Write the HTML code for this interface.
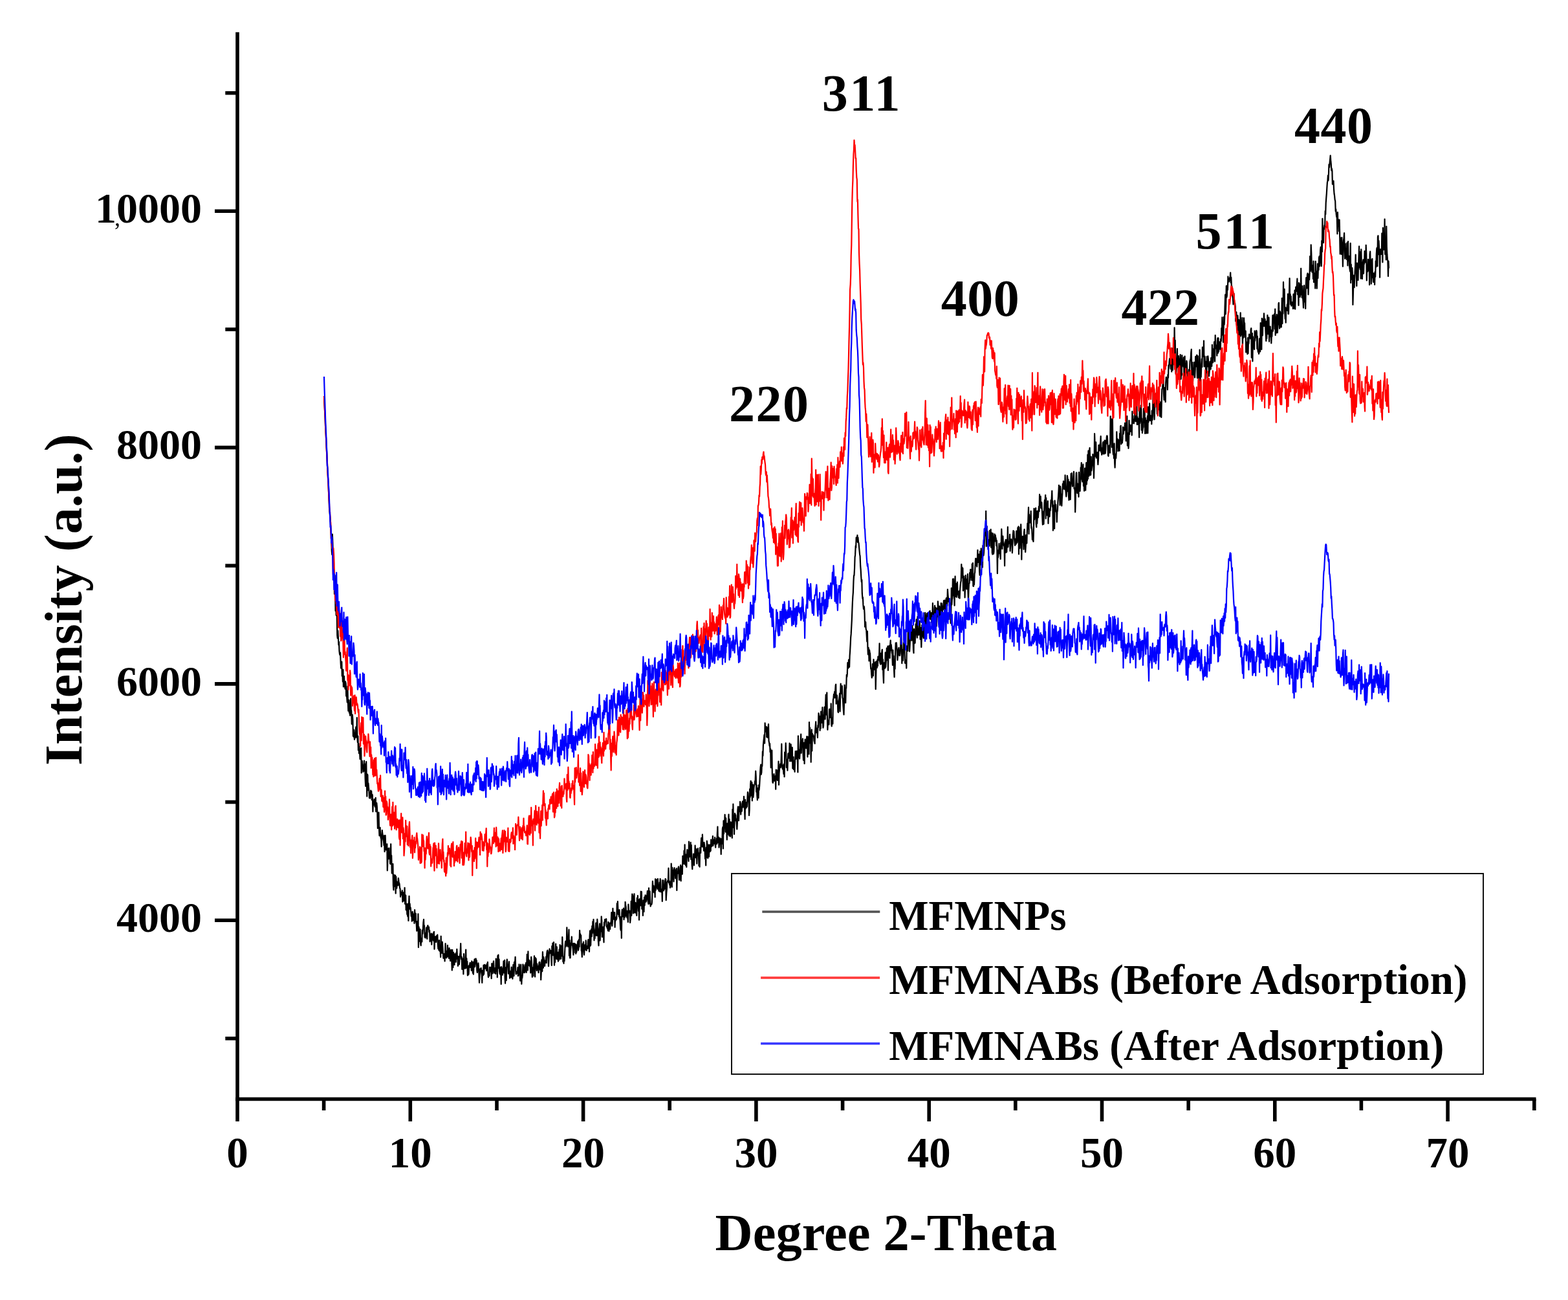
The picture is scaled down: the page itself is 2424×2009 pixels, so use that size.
<!DOCTYPE html>
<html><head><meta charset="utf-8"><title>XRD patterns</title>
<style>html,body{margin:0;padding:0;background:#fff;overflow:hidden}svg{display:block}</style></head>
<body>
<svg width="2424" height="2009" viewBox="0 0 2424 2009" font-family="'Liberation Serif', 'Times New Roman', serif" font-weight="bold" fill="#000">
<rect width="2424" height="2009" fill="#fff"/>
<polyline fill="none" stroke="#000" stroke-width="2.2" stroke-linejoin="round" points="501.0,612.0 501.5,624.1 502.1,636.0 502.6,647.0 503.1,659.8 503.7,670.5 504.2,679.8 504.7,691.9 505.3,702.1 505.8,712.9 506.3,723.4 506.9,736.8 507.4,744.0 507.9,758.2 508.5,768.2 509.0,784.7 509.6,791.3 510.1,797.5 510.6,801.6 511.2,812.7 511.7,822.9 512.2,828.7 512.8,851.5 513.3,857.2 513.8,825.5 514.4,838.9 514.9,862.6 515.4,863.8 516.0,877.3 516.5,885.5 517.0,918.0 517.6,889.2 518.1,906.8 518.6,943.9 519.2,937.6 519.7,950.7 520.2,951.2 520.8,951.1 521.3,981.6 521.8,986.4 522.4,974.7 522.9,984.8 523.5,996.6 524.0,991.9 524.5,1006.0 525.1,1011.0 525.6,1012.4 526.1,1008.7 526.7,1024.8 527.2,1032.6 527.7,1030.9 528.3,1022.7 528.8,1044.7 529.3,1034.6 529.9,1053.4 530.4,1034.9 530.9,1061.3 531.5,1055.3 532.0,1045.0 532.5,1057.0 533.1,1061.3 533.6,1064.6 534.1,1053.4 534.7,1056.6 535.2,1075.6 535.7,1070.7 536.3,1079.1 536.8,1085.3 537.4,1060.5 537.9,1084.7 538.4,1098.7 539.0,1084.8 539.5,1081.8 540.0,1101.6 540.6,1098.0 541.1,1105.7 541.6,1091.8 542.2,1079.5 542.7,1096.8 543.2,1098.4 543.8,1118.8 544.3,1119.4 544.8,1104.6 545.4,1112.4 545.9,1137.4 546.4,1138.3 547.0,1127.8 547.5,1137.6 548.0,1142.8 548.6,1140.2 549.1,1140.0 549.6,1129.5 550.2,1124.1 550.7,1122.9 551.3,1139.6 551.8,1109.0 552.3,1138.2 552.9,1147.3 553.4,1137.7 553.9,1159.4 554.5,1149.1 555.0,1164.1 555.5,1153.5 556.1,1163.8 556.6,1173.1 557.1,1168.2 557.7,1158.9 558.2,1156.1 558.7,1194.5 559.3,1178.7 559.8,1175.9 560.3,1186.6 560.9,1183.2 561.4,1192.8 561.9,1182.4 562.5,1181.5 563.0,1175.5 563.5,1191.6 564.1,1180.5 564.6,1202.6 565.2,1215.0 565.7,1185.7 566.2,1177.0 566.8,1209.6 567.3,1230.7 567.8,1196.5 568.4,1197.8 568.9,1221.1 569.4,1210.4 570.0,1217.3 570.5,1221.8 571.0,1233.2 571.6,1225.4 572.1,1233.7 572.6,1229.1 573.2,1221.5 573.7,1227.0 574.2,1222.8 574.8,1236.2 575.3,1227.5 575.8,1228.8 576.4,1254.3 576.9,1238.1 577.4,1237.8 578.0,1243.9 578.5,1235.2 579.1,1238.5 579.6,1246.6 580.1,1246.3 580.7,1232.8 581.2,1254.3 581.7,1242.3 582.3,1241.0 582.8,1246.6 583.3,1255.8 583.9,1280.1 584.4,1256.2 584.9,1274.2 585.5,1255.6 586.0,1280.4 586.5,1291.5 587.1,1281.5 587.6,1278.9 588.1,1289.1 588.7,1295.1 589.2,1295.5 589.7,1308.4 590.3,1290.8 590.8,1283.0 591.3,1288.6 591.9,1291.4 592.4,1296.7 593.0,1300.0 593.5,1306.5 594.0,1291.3 594.6,1316.2 595.1,1300.2 595.6,1291.0 596.2,1306.4 596.7,1313.4 597.2,1308.6 597.8,1310.2 598.3,1304.4 598.8,1345.3 599.4,1328.7 599.9,1311.4 600.4,1317.3 601.0,1327.1 601.5,1310.6 602.0,1325.1 602.6,1317.4 603.1,1334.4 603.6,1335.2 604.2,1304.3 604.7,1335.1 605.2,1322.0 605.8,1349.6 606.3,1341.6 606.9,1347.1 607.4,1335.1 607.9,1367.8 608.5,1375.4 609.0,1351.8 609.5,1370.0 610.1,1361.9 610.6,1366.9 611.1,1352.5 611.7,1380.7 612.2,1354.5 612.7,1363.0 613.3,1372.6 613.8,1362.9 614.3,1367.5 614.9,1364.7 615.4,1368.3 615.9,1357.0 616.5,1362.4 617.0,1364.7 617.5,1365.8 618.1,1372.9 618.6,1373.1 619.1,1386.0 619.7,1378.7 620.2,1383.0 620.8,1379.9 621.3,1382.4 621.8,1376.2 622.4,1393.6 622.9,1378.8 623.4,1382.6 624.0,1392.3 624.5,1392.1 625.0,1385.1 625.6,1371.8 626.1,1396.8 626.6,1397.3 627.2,1383.6 627.7,1406.3 628.2,1396.3 628.8,1397.1 629.3,1413.0 629.8,1413.2 630.4,1416.4 630.9,1396.5 631.4,1423.0 632.0,1396.1 632.5,1384.8 633.0,1404.2 633.6,1396.5 634.1,1405.1 634.7,1402.5 635.2,1409.3 635.7,1416.0 636.3,1409.6 636.8,1423.6 637.3,1413.0 637.9,1409.1 638.4,1418.1 638.9,1422.3 639.5,1417.1 640.0,1412.3 640.5,1426.9 641.1,1406.2 641.6,1413.5 642.1,1423.8 642.7,1411.8 643.2,1426.0 643.7,1427.4 644.3,1438.6 644.8,1424.2 645.3,1428.1 645.9,1437.3 646.4,1412.4 646.9,1464.1 647.5,1432.3 648.0,1435.9 648.5,1454.7 649.1,1450.0 649.6,1436.0 650.2,1458.5 650.7,1461.2 651.2,1450.0 651.8,1451.2 652.3,1455.5 652.8,1437.4 653.4,1442.9 653.9,1435.5 654.4,1425.8 655.0,1420.9 655.5,1434.3 656.0,1430.4 656.6,1448.4 657.1,1441.8 657.6,1449.5 658.2,1445.1 658.7,1445.8 659.2,1433.7 659.8,1443.3 660.3,1450.9 660.8,1431.6 661.4,1430.2 661.9,1436.0 662.4,1434.3 663.0,1432.6 663.5,1440.4 664.1,1437.7 664.6,1455.1 665.1,1443.9 665.7,1447.4 666.2,1453.2 666.7,1442.5 667.3,1459.6 667.8,1443.5 668.3,1444.2 668.9,1449.6 669.4,1452.6 669.9,1441.7 670.5,1454.3 671.0,1439.9 671.5,1466.8 672.1,1453.2 672.6,1448.4 673.1,1447.3 673.7,1453.6 674.2,1455.9 674.7,1447.7 675.3,1445.9 675.8,1449.1 676.3,1444.7 676.9,1459.6 677.4,1466.1 678.0,1461.3 678.5,1468.5 679.0,1453.1 679.6,1469.7 680.1,1463.1 680.6,1467.8 681.2,1479.1 681.7,1446.8 682.2,1470.7 682.8,1458.9 683.3,1473.0 683.8,1455.7 684.4,1464.0 684.9,1473.1 685.4,1480.8 686.0,1479.9 686.5,1474.2 687.0,1475.5 687.6,1485.5 688.1,1474.8 688.6,1458.2 689.2,1479.6 689.7,1476.0 690.2,1480.4 690.8,1469.7 691.3,1478.7 691.9,1460.8 692.4,1475.0 692.9,1466.9 693.5,1478.2 694.0,1481.1 694.5,1465.0 695.1,1470.5 695.6,1472.3 696.1,1484.9 696.7,1483.3 697.2,1467.9 697.7,1482.9 698.3,1486.0 698.8,1499.5 699.3,1467.9 699.9,1478.7 700.4,1495.2 700.9,1471.8 701.5,1473.2 702.0,1487.8 702.5,1491.0 703.1,1474.4 703.6,1482.6 704.1,1476.4 704.7,1486.6 705.2,1472.4 705.8,1481.6 706.3,1466.9 706.8,1475.9 707.4,1479.7 707.9,1492.8 708.4,1489.2 709.0,1478.1 709.5,1490.5 710.0,1490.2 710.6,1480.0 711.1,1475.0 711.6,1472.2 712.2,1458.0 712.7,1476.6 713.2,1482.3 713.8,1479.1 714.3,1498.0 714.8,1481.4 715.4,1487.5 715.9,1485.9 716.4,1505.5 717.0,1474.0 717.5,1493.2 718.0,1496.4 718.6,1490.7 719.1,1496.7 719.7,1477.6 720.2,1467.5 720.7,1495.8 721.3,1481.0 721.8,1490.9 722.3,1485.9 722.9,1507.4 723.4,1506.9 723.9,1493.0 724.5,1505.6 725.0,1496.5 725.5,1491.7 726.1,1491.2 726.6,1487.8 727.1,1494.9 727.7,1493.0 728.2,1488.0 728.7,1499.8 729.3,1485.3 729.8,1492.8 730.3,1494.2 730.9,1503.8 731.4,1486.8 731.9,1505.6 732.5,1490.9 733.0,1486.7 733.6,1482.4 734.1,1494.1 734.6,1490.8 735.2,1481.8 735.7,1481.5 736.2,1485.6 736.8,1484.2 737.3,1499.8 737.8,1502.8 738.4,1498.3 738.9,1493.8 739.4,1488.3 740.0,1495.5 740.5,1506.0 741.0,1518.7 741.6,1508.4 742.1,1497.5 742.6,1500.1 743.2,1496.6 743.7,1496.0 744.2,1502.9 744.8,1506.5 745.3,1518.8 745.8,1499.8 746.4,1506.9 746.9,1507.2 747.5,1491.5 748.0,1505.6 748.5,1499.5 749.1,1490.9 749.6,1496.7 750.1,1494.0 750.7,1491.6 751.2,1492.7 751.7,1496.9 752.3,1500.2 752.8,1489.4 753.3,1497.9 753.9,1486.9 754.4,1504.9 754.9,1510.2 755.5,1507.0 756.0,1507.3 756.5,1508.0 757.1,1494.7 757.6,1495.5 758.1,1499.5 758.7,1501.7 759.2,1494.8 759.7,1512.1 760.3,1489.0 760.8,1499.7 761.4,1504.5 761.9,1494.7 762.4,1489.4 763.0,1485.4 763.5,1495.8 764.0,1503.7 764.6,1497.5 765.1,1498.5 765.6,1495.8 766.2,1505.0 766.7,1481.6 767.2,1500.6 767.8,1496.7 768.3,1482.4 768.8,1510.3 769.4,1477.1 769.9,1477.6 770.4,1475.6 771.0,1496.4 771.5,1482.4 772.0,1500.3 772.6,1504.4 773.1,1505.7 773.6,1494.9 774.2,1501.8 774.7,1520.9 775.2,1494.0 775.8,1496.4 776.3,1500.5 776.9,1506.7 777.4,1499.5 777.9,1501.7 778.5,1485.4 779.0,1503.4 779.5,1501.5 780.1,1483.9 780.6,1511.8 781.1,1519.7 781.7,1495.3 782.2,1503.7 782.7,1515.1 783.3,1488.8 783.8,1482.7 784.3,1487.5 784.9,1493.7 785.4,1494.2 785.9,1504.6 786.5,1500.8 787.0,1486.0 787.5,1500.4 788.1,1511.7 788.6,1507.2 789.1,1507.3 789.7,1500.7 790.2,1510.4 790.8,1494.6 791.3,1510.1 791.8,1502.8 792.4,1512.6 792.9,1505.6 793.4,1490.8 794.0,1500.0 794.5,1508.2 795.0,1486.9 795.6,1490.4 796.1,1486.7 796.6,1478.9 797.2,1500.2 797.7,1505.4 798.2,1504.4 798.8,1502.6 799.3,1501.5 799.8,1504.2 800.4,1495.2 800.9,1508.2 801.4,1507.9 802.0,1504.9 802.5,1490.3 803.0,1494.9 803.6,1494.7 804.1,1515.7 804.7,1506.1 805.2,1490.6 805.7,1509.6 806.3,1520.6 806.8,1509.2 807.3,1511.4 807.9,1505.9 808.4,1490.3 808.9,1492.1 809.5,1495.7 810.0,1502.8 810.5,1503.2 811.1,1503.0 811.6,1491.1 812.1,1500.7 812.7,1490.2 813.2,1487.8 813.7,1502.9 814.3,1489.2 814.8,1474.8 815.3,1489.9 815.9,1499.4 816.4,1470.3 816.9,1492.1 817.5,1491.9 818.0,1483.7 818.6,1484.8 819.1,1493.5 819.6,1490.5 820.2,1503.5 820.7,1494.9 821.2,1478.8 821.8,1486.1 822.3,1499.8 822.8,1509.9 823.4,1496.5 823.9,1495.5 824.4,1508.3 825.0,1491.2 825.5,1487.6 826.0,1477.3 826.6,1485.1 827.1,1509.6 827.6,1480.1 828.2,1493.8 828.7,1481.6 829.2,1494.2 829.8,1499.9 830.3,1489.5 830.8,1497.4 831.4,1496.6 831.9,1493.1 832.5,1503.2 833.0,1495.3 833.5,1487.5 834.1,1486.7 834.6,1487.2 835.1,1499.0 835.7,1490.4 836.2,1514.2 836.7,1503.8 837.3,1484.3 837.8,1482.9 838.3,1501.1 838.9,1471.0 839.4,1483.7 839.9,1495.6 840.5,1479.1 841.0,1483.2 841.5,1484.6 842.1,1492.8 842.6,1486.1 843.1,1485.4 843.7,1484.5 844.2,1478.3 844.7,1488.2 845.3,1473.9 845.8,1469.9 846.4,1468.6 846.9,1470.7 847.4,1480.1 848.0,1493.2 848.5,1483.7 849.0,1473.7 849.6,1466.3 850.1,1469.5 850.6,1471.8 851.2,1473.4 851.7,1469.0 852.2,1479.2 852.8,1491.9 853.3,1462.0 853.8,1476.3 854.4,1457.5 854.9,1476.1 855.4,1467.5 856.0,1456.1 856.5,1475.9 857.0,1491.6 857.6,1477.3 858.1,1487.2 858.6,1476.8 859.2,1458.5 859.7,1481.5 860.3,1473.0 860.8,1463.3 861.3,1482.5 861.9,1478.1 862.4,1472.0 862.9,1485.7 863.5,1471.4 864.0,1483.9 864.5,1467.3 865.1,1476.8 865.6,1460.0 866.1,1481.9 866.7,1471.2 867.2,1481.6 867.7,1461.5 868.3,1464.7 868.8,1477.5 869.3,1448.2 869.9,1465.4 870.4,1486.1 870.9,1482.9 871.5,1489.0 872.0,1478.4 872.5,1485.1 873.1,1470.6 873.6,1460.9 874.2,1454.7 874.7,1463.0 875.2,1462.1 875.8,1460.5 876.3,1433.3 876.8,1445.5 877.4,1457.1 877.9,1462.9 878.4,1453.2 879.0,1448.9 879.5,1436.5 880.0,1477.0 880.6,1453.1 881.1,1480.5 881.6,1480.2 882.2,1467.5 882.7,1457.3 883.2,1460.7 883.8,1447.5 884.3,1459.5 884.8,1457.9 885.4,1463.7 885.9,1468.2 886.4,1475.7 887.0,1457.9 887.5,1472.2 888.1,1458.1 888.6,1459.5 889.1,1463.2 889.7,1459.2 890.2,1473.8 890.7,1470.2 891.3,1471.4 891.8,1460.2 892.3,1464.4 892.9,1458.4 893.4,1454.3 893.9,1468.7 894.5,1466.3 895.0,1451.9 895.5,1463.1 896.1,1437.9 896.6,1448.2 897.1,1443.3 897.7,1446.2 898.2,1445.6 898.7,1468.9 899.3,1470.2 899.8,1479.0 900.3,1471.3 900.9,1458.3 901.4,1464.8 902.0,1455.7 902.5,1469.0 903.0,1475.6 903.6,1468.2 904.1,1460.3 904.6,1462.4 905.2,1467.7 905.7,1453.3 906.2,1468.0 906.8,1468.9 907.3,1462.4 907.8,1462.7 908.4,1466.0 908.9,1454.6 909.4,1452.1 910.0,1464.6 910.5,1458.5 911.0,1470.7 911.6,1446.3 912.1,1438.4 912.6,1461.6 913.2,1460.5 913.7,1443.9 914.2,1435.9 914.8,1447.2 915.3,1431.0 915.8,1442.4 916.4,1424.2 916.9,1439.6 917.5,1420.9 918.0,1437.0 918.5,1453.3 919.1,1439.1 919.6,1450.2 920.1,1438.0 920.7,1434.5 921.2,1426.3 921.7,1445.6 922.3,1432.6 922.8,1445.8 923.3,1420.7 923.9,1431.4 924.4,1437.9 924.9,1454.2 925.5,1461.3 926.0,1440.4 926.5,1435.0 927.1,1427.4 927.6,1453.4 928.1,1439.8 928.7,1434.4 929.2,1439.4 929.7,1416.4 930.3,1423.8 930.8,1448.0 931.4,1443.8 931.9,1442.4 932.4,1432.7 933.0,1447.1 933.5,1456.3 934.0,1425.3 934.6,1430.8 935.1,1420.8 935.6,1424.3 936.2,1420.8 936.7,1422.2 937.2,1420.1 937.8,1432.3 938.3,1429.7 938.8,1434.7 939.4,1434.2 939.9,1438.3 940.4,1424.9 941.0,1426.1 941.5,1438.9 942.0,1427.6 942.6,1426.9 943.1,1436.0 943.6,1428.9 944.2,1425.4 944.7,1424.9 945.3,1410.1 945.8,1424.1 946.3,1430.8 946.9,1423.5 947.4,1403.9 947.9,1420.4 948.5,1409.5 949.0,1416.2 949.5,1420.8 950.1,1410.0 950.6,1432.9 951.1,1418.2 951.7,1422.6 952.2,1417.4 952.7,1421.1 953.3,1419.1 953.8,1396.2 954.3,1412.2 954.9,1393.0 955.4,1406.3 955.9,1413.1 956.5,1412.2 957.0,1416.5 957.5,1406.0 958.1,1418.7 958.6,1422.1 959.2,1435.4 959.7,1437.7 960.2,1416.5 960.8,1449.8 961.3,1411.2 961.8,1405.6 962.4,1414.1 962.9,1416.4 963.4,1415.2 964.0,1403.7 964.5,1421.2 965.0,1405.9 965.6,1418.0 966.1,1416.7 966.6,1393.8 967.2,1399.0 967.7,1401.6 968.2,1415.6 968.8,1415.4 969.3,1418.1 969.8,1407.9 970.4,1418.0 970.9,1424.9 971.4,1397.5 972.0,1406.6 972.5,1410.4 973.1,1407.5 973.6,1407.7 974.1,1426.0 974.7,1420.2 975.2,1412.8 975.7,1392.8 976.3,1414.8 976.8,1392.7 977.3,1381.6 977.9,1384.0 978.4,1384.6 978.9,1411.5 979.5,1396.9 980.0,1398.8 980.5,1381.4 981.1,1410.6 981.6,1395.5 982.1,1395.0 982.7,1410.2 983.2,1395.7 983.7,1411.5 984.3,1414.8 984.8,1387.5 985.3,1400.4 985.9,1384.1 986.4,1397.0 987.0,1407.9 987.5,1390.3 988.0,1421.7 988.6,1401.1 989.1,1389.2 989.6,1394.3 990.2,1399.4 990.7,1377.6 991.2,1390.1 991.8,1378.1 992.3,1404.7 992.8,1399.7 993.4,1399.2 993.9,1415.0 994.4,1391.3 995.0,1394.1 995.5,1408.9 996.0,1386.6 996.6,1399.2 997.1,1389.5 997.6,1383.3 998.2,1389.6 998.7,1393.7 999.2,1388.8 999.8,1384.1 1000.3,1383.7 1000.9,1376.9 1001.4,1391.6 1001.9,1394.1 1002.5,1396.9 1003.0,1372.4 1003.5,1396.4 1004.1,1389.1 1004.6,1377.3 1005.1,1393.3 1005.7,1400.7 1006.2,1397.2 1006.7,1397.4 1007.3,1397.7 1007.8,1395.4 1008.3,1384.2 1008.9,1361.8 1009.4,1370.7 1009.9,1378.3 1010.5,1368.8 1011.0,1379.0 1011.5,1379.5 1012.1,1371.2 1012.6,1386.5 1013.1,1358.3 1013.7,1375.8 1014.2,1362.9 1014.8,1359.7 1015.3,1371.3 1015.8,1359.0 1016.4,1373.7 1016.9,1358.1 1017.4,1374.2 1018.0,1369.9 1018.5,1376.8 1019.0,1373.8 1019.6,1363.7 1020.1,1377.9 1020.6,1358.2 1021.2,1359.9 1021.7,1377.4 1022.2,1378.4 1022.8,1376.2 1023.3,1374.0 1023.8,1393.0 1024.4,1360.3 1024.9,1364.2 1025.4,1360.6 1026.0,1376.5 1026.5,1368.4 1027.0,1374.3 1027.6,1372.3 1028.1,1361.7 1028.7,1358.0 1029.2,1358.8 1029.7,1391.2 1030.3,1379.8 1030.8,1374.7 1031.3,1363.4 1031.9,1362.8 1032.4,1360.5 1032.9,1360.8 1033.5,1341.7 1034.0,1364.3 1034.5,1361.2 1035.1,1367.3 1035.6,1366.2 1036.1,1371.8 1036.7,1362.5 1037.2,1368.5 1037.7,1334.5 1038.3,1346.1 1038.8,1370.8 1039.3,1340.9 1039.9,1348.9 1040.4,1358.7 1040.9,1345.2 1041.5,1362.4 1042.0,1344.0 1042.5,1341.2 1043.1,1347.8 1043.6,1344.2 1044.2,1357.5 1044.7,1351.7 1045.2,1355.7 1045.8,1342.0 1046.3,1376.0 1046.8,1349.8 1047.4,1347.6 1047.9,1349.6 1048.4,1341.7 1049.0,1339.4 1049.5,1349.3 1050.0,1360.0 1050.6,1358.3 1051.1,1359.3 1051.6,1341.9 1052.2,1336.9 1052.7,1361.5 1053.2,1338.7 1053.8,1344.5 1054.3,1345.8 1054.8,1350.8 1055.4,1322.9 1055.9,1330.9 1056.4,1332.2 1057.0,1334.8 1057.5,1314.7 1058.1,1335.3 1058.6,1305.3 1059.1,1333.7 1059.7,1335.8 1060.2,1337.5 1060.7,1320.6 1061.3,1340.0 1061.8,1319.6 1062.3,1313.2 1062.9,1314.0 1063.4,1315.1 1063.9,1325.1 1064.5,1330.9 1065.0,1300.7 1065.5,1312.9 1066.1,1324.1 1066.6,1316.0 1067.1,1319.5 1067.7,1301.9 1068.2,1328.0 1068.7,1305.8 1069.3,1324.8 1069.8,1337.6 1070.3,1343.2 1070.9,1329.9 1071.4,1333.5 1072.0,1319.6 1072.5,1321.4 1073.0,1337.3 1073.6,1324.5 1074.1,1321.0 1074.6,1306.6 1075.2,1320.8 1075.7,1325.5 1076.2,1311.8 1076.8,1314.6 1077.3,1334.7 1077.8,1321.3 1078.4,1317.7 1078.9,1311.1 1079.4,1317.6 1080.0,1322.1 1080.5,1338.0 1081.0,1318.0 1081.6,1339.7 1082.1,1310.0 1082.6,1311.2 1083.2,1318.1 1083.7,1303.3 1084.2,1295.0 1084.8,1301.2 1085.3,1308.3 1085.9,1289.7 1086.4,1306.5 1086.9,1308.7 1087.5,1304.9 1088.0,1314.7 1088.5,1301.8 1089.1,1306.3 1089.6,1315.1 1090.1,1327.2 1090.7,1321.1 1091.2,1337.5 1091.7,1309.6 1092.3,1325.5 1092.8,1299.7 1093.3,1303.9 1093.9,1308.7 1094.4,1326.3 1094.9,1316.6 1095.5,1305.5 1096.0,1324.0 1096.5,1310.7 1097.1,1305.5 1097.6,1316.2 1098.1,1309.7 1098.7,1314.8 1099.2,1297.7 1099.8,1305.9 1100.3,1308.2 1100.8,1304.2 1101.4,1300.1 1101.9,1292.1 1102.4,1306.8 1103.0,1299.2 1103.5,1303.9 1104.0,1297.6 1104.6,1303.2 1105.1,1294.0 1105.6,1304.7 1106.2,1309.7 1106.7,1300.1 1107.2,1304.2 1107.8,1295.7 1108.3,1304.2 1108.8,1289.2 1109.4,1277.5 1109.9,1301.9 1110.4,1299.7 1111.0,1293.8 1111.5,1309.7 1112.0,1304.1 1112.6,1304.0 1113.1,1295.4 1113.7,1301.3 1114.2,1303.5 1114.7,1320.2 1115.3,1296.4 1115.8,1302.2 1116.3,1304.0 1116.9,1280.6 1117.4,1278.2 1117.9,1311.4 1118.5,1268.4 1119.0,1288.4 1119.5,1272.4 1120.1,1272.0 1120.6,1258.9 1121.1,1269.0 1121.7,1285.7 1122.2,1264.3 1122.7,1283.9 1123.3,1280.9 1123.8,1297.7 1124.3,1272.7 1124.9,1289.4 1125.4,1284.8 1125.9,1272.2 1126.5,1258.5 1127.0,1291.6 1127.6,1265.8 1128.1,1277.3 1128.6,1291.7 1129.2,1292.6 1129.7,1270.4 1130.2,1275.9 1130.8,1271.4 1131.3,1283.6 1131.8,1295.0 1132.4,1250.8 1132.9,1278.9 1133.4,1242.7 1134.0,1272.6 1134.5,1260.7 1135.0,1289.2 1135.6,1268.0 1136.1,1257.1 1136.6,1259.3 1137.2,1259.6 1137.7,1268.4 1138.2,1265.5 1138.8,1273.4 1139.3,1281.5 1139.8,1272.2 1140.4,1251.9 1140.9,1246.5 1141.5,1252.9 1142.0,1268.1 1142.5,1251.4 1143.1,1246.5 1143.6,1254.2 1144.1,1238.8 1144.7,1242.0 1145.2,1258.7 1145.7,1250.0 1146.3,1247.4 1146.8,1253.6 1147.3,1242.4 1147.9,1238.7 1148.4,1238.3 1148.9,1247.5 1149.5,1242.2 1150.0,1230.9 1150.5,1241.6 1151.1,1252.7 1151.6,1266.0 1152.1,1235.8 1152.7,1249.8 1153.2,1241.2 1153.7,1248.2 1154.3,1239.9 1154.8,1246.6 1155.4,1234.9 1155.9,1224.0 1156.4,1225.6 1157.0,1237.5 1157.5,1239.4 1158.0,1260.2 1158.6,1251.4 1159.1,1219.4 1159.6,1232.0 1160.2,1212.3 1160.7,1206.8 1161.2,1229.5 1161.8,1226.1 1162.3,1209.2 1162.8,1237.4 1163.4,1212.4 1163.9,1212.6 1164.4,1232.2 1165.0,1225.8 1165.5,1217.6 1166.0,1213.5 1166.6,1212.7 1167.1,1207.2 1167.6,1207.3 1168.2,1191.6 1168.7,1200.3 1169.3,1223.8 1169.8,1213.3 1170.3,1228.6 1170.9,1236.3 1171.4,1218.0 1171.9,1220.3 1172.5,1233.2 1173.0,1213.4 1173.5,1220.9 1174.1,1214.7 1174.6,1204.7 1175.1,1194.2 1175.7,1185.4 1176.2,1181.7 1176.7,1196.9 1177.3,1193.8 1177.8,1181.9 1178.3,1183.9 1178.9,1161.3 1179.4,1167.9 1179.9,1151.3 1180.5,1145.0 1181.0,1140.5 1181.5,1135.5 1182.1,1148.7 1182.6,1117.4 1183.1,1125.8 1183.7,1130.7 1184.2,1127.6 1184.8,1123.1 1185.3,1139.2 1185.8,1124.3 1186.4,1125.2 1186.9,1139.8 1187.4,1126.0 1188.0,1119.0 1188.5,1145.0 1189.0,1147.3 1189.6,1152.6 1190.1,1149.2 1190.6,1162.3 1191.2,1157.4 1191.7,1186.3 1192.2,1179.5 1192.8,1182.0 1193.3,1159.7 1193.8,1195.1 1194.4,1208.6 1194.9,1209.9 1195.4,1207.1 1196.0,1199.2 1196.5,1196.0 1197.0,1206.7 1197.6,1205.4 1198.1,1204.4 1198.7,1199.0 1199.2,1219.7 1199.7,1189.5 1200.3,1199.2 1200.8,1190.1 1201.3,1203.6 1201.9,1205.9 1202.4,1203.5 1202.9,1198.7 1203.5,1176.7 1204.0,1212.9 1204.5,1195.5 1205.1,1187.4 1205.6,1186.8 1206.1,1180.8 1206.7,1186.0 1207.2,1181.8 1207.7,1172.8 1208.3,1149.7 1208.8,1178.1 1209.3,1185.9 1209.9,1188.5 1210.4,1182.6 1210.9,1189.7 1211.5,1196.2 1212.0,1180.6 1212.6,1200.4 1213.1,1162.7 1213.6,1166.8 1214.2,1167.0 1214.7,1148.3 1215.2,1162.4 1215.8,1186.0 1216.3,1186.3 1216.8,1174.2 1217.4,1190.6 1217.9,1173.9 1218.4,1164.6 1219.0,1170.2 1219.5,1163.9 1220.0,1171.6 1220.6,1148.5 1221.1,1176.4 1221.6,1162.2 1222.2,1176.1 1222.7,1150.3 1223.2,1161.9 1223.8,1167.5 1224.3,1176.6 1224.8,1155.2 1225.4,1187.6 1225.9,1177.8 1226.5,1169.8 1227.0,1189.2 1227.5,1175.9 1228.1,1183.7 1228.6,1192.8 1229.1,1174.7 1229.7,1160.8 1230.2,1161.9 1230.7,1172.8 1231.3,1170.7 1231.8,1160.7 1232.3,1164.0 1232.9,1178.0 1233.4,1193.5 1233.9,1137.3 1234.5,1169.8 1235.0,1158.7 1235.5,1170.1 1236.1,1172.5 1236.6,1164.3 1237.1,1151.4 1237.7,1144.0 1238.2,1134.7 1238.7,1163.8 1239.3,1146.9 1239.8,1144.1 1240.4,1149.5 1240.9,1141.6 1241.4,1161.9 1242.0,1174.8 1242.5,1174.8 1243.0,1147.9 1243.6,1180.2 1244.1,1157.2 1244.6,1142.7 1245.2,1146.8 1245.7,1147.2 1246.2,1156.3 1246.8,1144.6 1247.3,1138.0 1247.8,1149.0 1248.4,1169.7 1248.9,1138.6 1249.4,1147.6 1250.0,1140.2 1250.5,1165.4 1251.0,1116.0 1251.6,1148.5 1252.1,1124.4 1252.6,1133.3 1253.2,1140.4 1253.7,1177.8 1254.3,1138.1 1254.8,1127.5 1255.3,1160.5 1255.9,1133.7 1256.4,1135.7 1256.9,1135.7 1257.5,1137.8 1258.0,1137.6 1258.5,1144.8 1259.1,1146.6 1259.6,1149.1 1260.1,1130.7 1260.7,1122.2 1261.2,1115.4 1261.7,1132.1 1262.3,1125.3 1262.8,1131.7 1263.3,1130.2 1263.9,1140.0 1264.4,1121.0 1264.9,1124.3 1265.5,1102.2 1266.0,1104.4 1266.5,1114.7 1267.1,1106.8 1267.6,1128.9 1268.2,1108.6 1268.7,1125.7 1269.2,1099.5 1269.8,1112.9 1270.3,1117.0 1270.8,1112.9 1271.4,1093.2 1271.9,1113.8 1272.4,1124.7 1273.0,1122.0 1273.5,1106.5 1274.0,1103.9 1274.6,1092.7 1275.1,1107.4 1275.6,1111.5 1276.2,1087.0 1276.7,1073.6 1277.2,1096.0 1277.8,1104.7 1278.3,1070.4 1278.8,1103.9 1279.4,1127.8 1279.9,1115.2 1280.4,1114.0 1281.0,1113.1 1281.5,1119.6 1282.1,1096.1 1282.6,1095.8 1283.1,1108.9 1283.7,1097.2 1284.2,1108.7 1284.7,1087.4 1285.3,1119.6 1285.8,1122.3 1286.3,1112.5 1286.9,1109.4 1287.4,1118.6 1287.9,1082.0 1288.5,1078.4 1289.0,1072.9 1289.5,1077.8 1290.1,1069.2 1290.6,1078.5 1291.1,1069.3 1291.7,1059.4 1292.2,1057.6 1292.7,1087.7 1293.3,1074.2 1293.8,1074.4 1294.3,1080.9 1294.9,1085.1 1295.4,1099.8 1296.0,1101.0 1296.5,1088.1 1297.0,1082.5 1297.6,1076.1 1298.1,1071.7 1298.6,1099.4 1299.2,1072.0 1299.7,1056.5 1300.2,1064.8 1300.8,1061.5 1301.3,1072.2 1301.8,1060.1 1302.4,1078.5 1302.9,1079.2 1303.4,1089.6 1304.0,1098.6 1304.5,1104.5 1305.0,1086.7 1305.6,1058.6 1306.1,1066.4 1306.6,1071.2 1307.2,1086.2 1307.7,1064.1 1308.2,1063.4 1308.8,1042.8 1309.3,1046.0 1309.8,1041.6 1310.4,1024.1 1310.9,1032.3 1311.5,1032.5 1312.0,1019.7 1312.5,1028.5 1313.1,1030.8 1313.6,1013.7 1314.1,1006.6 1314.7,995.8 1315.2,984.6 1315.7,979.9 1316.3,968.2 1316.8,958.9 1317.3,945.8 1317.9,930.6 1318.4,921.5 1318.9,915.6 1319.5,897.8 1320.0,889.4 1320.5,889.4 1321.1,877.8 1321.6,861.0 1322.1,857.9 1322.7,843.7 1323.2,846.1 1323.7,830.7 1324.3,830.7 1324.8,836.0 1325.4,827.2 1325.9,838.0 1326.4,830.5 1327.0,837.9 1327.5,839.2 1328.0,844.8 1328.6,851.5 1329.1,856.9 1329.6,859.5 1330.2,874.7 1330.7,880.9 1331.2,890.7 1331.8,899.2 1332.3,896.1 1332.8,916.7 1333.4,924.8 1333.9,923.1 1334.4,934.9 1335.0,941.1 1335.5,936.8 1336.0,938.2 1336.6,948.6 1337.1,968.7 1337.6,963.3 1338.2,961.4 1338.7,972.2 1339.3,973.6 1339.8,983.1 1340.3,991.5 1340.9,975.5 1341.4,1000.3 1341.9,1011.4 1342.5,1000.8 1343.0,1003.1 1343.5,1021.5 1344.1,1004.7 1344.6,1008.7 1345.1,1009.8 1345.7,1024.6 1346.2,1033.6 1346.7,1032.5 1347.3,1042.6 1347.8,1047.4 1348.3,1043.0 1348.9,1026.0 1349.4,1029.2 1349.9,1044.5 1350.5,1019.2 1351.0,1029.4 1351.5,1029.8 1352.1,1034.8 1352.6,1026.3 1353.2,1023.2 1353.7,1065.1 1354.2,1044.2 1354.8,1022.1 1355.3,1026.1 1355.8,1032.0 1356.4,1019.3 1356.9,1029.1 1357.4,1014.6 1358.0,1017.0 1358.5,1020.1 1359.0,1016.2 1359.6,994.3 1360.1,1022.4 1360.6,1024.9 1361.2,1026.7 1361.7,1009.5 1362.2,1025.1 1362.8,1025.8 1363.3,1006.4 1363.8,1003.8 1364.4,1035.0 1364.9,1019.1 1365.4,1041.5 1366.0,1055.5 1366.5,1025.8 1367.1,1024.1 1367.6,1029.0 1368.1,1032.8 1368.7,1008.3 1369.2,1030.9 1369.7,1023.7 1370.3,1016.6 1370.8,1001.7 1371.3,1019.1 1371.9,1020.4 1372.4,998.6 1372.9,1036.0 1373.5,1007.0 1374.0,1011.3 1374.5,998.1 1375.1,1007.2 1375.6,1016.9 1376.1,996.8 1376.7,989.7 1377.2,1005.2 1377.7,996.2 1378.3,1002.3 1378.8,1009.1 1379.3,1010.5 1379.9,1028.0 1380.4,1004.7 1381.0,1022.7 1381.5,1013.7 1382.0,1034.5 1382.6,1046.5 1383.1,1019.8 1383.6,1033.7 1384.2,1006.9 1384.7,993.7 1385.2,997.1 1385.8,993.3 1386.3,999.3 1386.8,1005.8 1387.4,1020.2 1387.9,1014.4 1388.4,1011.9 1389.0,1002.7 1389.5,1000.9 1390.0,1011.3 1390.6,1013.3 1391.1,1013.0 1391.6,1010.1 1392.2,999.3 1392.7,975.2 1393.2,984.6 1393.8,991.6 1394.3,1025.1 1394.9,1003.8 1395.4,1015.6 1395.9,1020.9 1396.5,1003.5 1397.0,992.7 1397.5,994.9 1398.1,991.0 1398.6,1011.5 1399.1,1024.8 1399.7,1020.1 1400.2,1022.4 1400.7,1020.6 1401.3,1032.6 1401.8,998.3 1402.3,1002.3 1402.9,1003.5 1403.4,1006.0 1403.9,962.5 1404.5,985.3 1405.0,991.6 1405.5,984.7 1406.1,1006.6 1406.6,997.1 1407.1,985.7 1407.7,967.2 1408.2,968.3 1408.8,971.9 1409.3,990.0 1409.8,973.8 1410.4,967.2 1410.9,975.5 1411.4,983.3 1412.0,1004.6 1412.5,1009.2 1413.0,972.1 1413.6,988.0 1414.1,994.1 1414.6,993.5 1415.2,977.7 1415.7,964.3 1416.2,973.7 1416.8,957.4 1417.3,980.7 1417.8,985.6 1418.4,953.1 1418.9,972.2 1419.4,973.3 1420.0,981.3 1420.5,980.9 1421.0,974.5 1421.6,959.7 1422.1,966.7 1422.7,988.0 1423.2,969.8 1423.7,979.2 1424.3,1000.1 1424.8,984.4 1425.3,965.8 1425.9,975.6 1426.4,983.5 1426.9,971.7 1427.5,986.1 1428.0,986.3 1428.5,962.0 1429.1,960.9 1429.6,962.3 1430.1,946.8 1430.7,963.8 1431.2,957.3 1431.7,969.0 1432.3,952.7 1432.8,948.1 1433.3,978.5 1433.9,947.3 1434.4,952.7 1434.9,953.2 1435.5,958.8 1436.0,950.1 1436.6,956.9 1437.1,944.9 1437.6,944.2 1438.2,951.3 1438.7,956.5 1439.2,957.3 1439.8,947.1 1440.3,962.5 1440.8,956.1 1441.4,953.9 1441.9,932.1 1442.4,957.8 1443.0,948.2 1443.5,971.2 1444.0,960.3 1444.6,940.0 1445.1,935.8 1445.6,963.5 1446.2,938.6 1446.7,955.6 1447.2,942.5 1447.8,967.7 1448.3,940.2 1448.8,953.0 1449.4,948.9 1449.9,929.3 1450.4,935.4 1451.0,961.7 1451.5,947.3 1452.1,936.8 1452.6,958.6 1453.1,971.5 1453.7,938.0 1454.2,952.3 1454.7,932.2 1455.3,949.9 1455.8,932.5 1456.3,952.5 1456.9,944.4 1457.4,936.5 1457.9,942.1 1458.5,933.9 1459.0,928.1 1459.5,929.5 1460.1,941.0 1460.6,927.6 1461.1,942.7 1461.7,941.2 1462.2,938.3 1462.7,924.7 1463.3,928.3 1463.8,923.6 1464.3,936.3 1464.9,910.8 1465.4,918.6 1466.0,925.0 1466.5,930.0 1467.0,925.1 1467.6,927.9 1468.1,949.2 1468.6,932.0 1469.2,951.5 1469.7,963.2 1470.2,950.3 1470.8,908.8 1471.3,934.4 1471.8,926.7 1472.4,924.0 1472.9,894.8 1473.4,919.5 1474.0,894.5 1474.5,920.7 1475.0,917.5 1475.6,935.8 1476.1,902.6 1476.6,890.7 1477.2,921.8 1477.7,918.6 1478.2,902.0 1478.8,922.8 1479.3,918.1 1479.9,899.6 1480.4,914.5 1480.9,914.9 1481.5,919.3 1482.0,923.5 1482.5,913.5 1483.1,918.4 1483.6,924.7 1484.1,912.1 1484.7,904.7 1485.2,899.6 1485.7,897.8 1486.3,872.0 1486.8,892.7 1487.3,876.5 1487.9,891.7 1488.4,878.2 1488.9,912.8 1489.5,908.7 1490.0,890.5 1490.5,908.1 1491.1,894.5 1491.6,923.4 1492.1,906.2 1492.7,889.0 1493.2,899.2 1493.8,895.2 1494.3,910.4 1494.8,901.9 1495.4,905.2 1495.9,887.2 1496.4,911.5 1497.0,928.6 1497.5,911.5 1498.0,901.8 1498.6,901.3 1499.1,885.1 1499.6,896.7 1500.2,880.0 1500.7,892.3 1501.2,886.0 1501.8,880.1 1502.3,896.8 1502.8,871.6 1503.4,887.6 1503.9,870.2 1504.4,905.8 1505.0,906.1 1505.5,891.6 1506.0,903.4 1506.6,886.8 1507.1,884.6 1507.7,870.8 1508.2,863.1 1508.7,873.9 1509.3,864.4 1509.8,863.5 1510.3,875.6 1510.9,865.1 1511.4,850.0 1511.9,869.0 1512.5,863.8 1513.0,868.5 1513.5,856.6 1514.1,881.8 1514.6,888.8 1515.1,852.0 1515.7,872.5 1516.2,870.2 1516.7,847.6 1517.3,859.9 1517.8,874.8 1518.3,867.6 1518.9,876.7 1519.4,843.1 1519.9,847.9 1520.5,858.4 1521.0,854.1 1521.6,842.4 1522.1,829.1 1522.6,822.2 1523.2,815.9 1523.7,827.7 1524.2,789.8 1524.8,844.3 1525.3,821.1 1525.8,813.6 1526.4,841.4 1526.9,821.2 1527.4,844.5 1528.0,834.2 1528.5,843.4 1529.0,841.7 1529.6,843.8 1530.1,819.9 1530.6,823.2 1531.2,830.4 1531.7,818.2 1532.2,846.1 1532.8,841.6 1533.3,823.5 1533.8,854.3 1534.4,856.6 1534.9,824.4 1535.5,847.2 1536.0,855.9 1536.5,852.5 1537.1,831.7 1537.6,825.3 1538.1,836.5 1538.7,827.1 1539.2,831.0 1539.7,831.5 1540.3,843.4 1540.8,835.1 1541.3,844.6 1541.9,886.2 1542.4,850.4 1542.9,861.6 1543.5,856.5 1544.0,855.4 1544.5,840.2 1545.1,854.8 1545.6,844.2 1546.1,851.4 1546.7,863.9 1547.2,838.8 1547.7,842.7 1548.3,817.7 1548.8,829.8 1549.4,848.3 1549.9,832.0 1550.4,828.6 1551.0,841.9 1551.5,840.2 1552.0,843.2 1552.6,844.8 1553.1,874.5 1553.6,837.6 1554.2,839.4 1554.7,834.0 1555.2,853.9 1555.8,834.3 1556.3,853.0 1556.8,838.2 1557.4,834.1 1557.9,814.3 1558.4,845.5 1559.0,838.1 1559.5,839.7 1560.0,837.3 1560.6,836.2 1561.1,825.8 1561.6,851.6 1562.2,842.9 1562.7,836.1 1563.3,833.4 1563.8,841.1 1564.3,835.6 1564.9,854.4 1565.4,843.0 1565.9,826.5 1566.5,820.1 1567.0,829.9 1567.5,821.0 1568.1,833.5 1568.6,838.8 1569.1,842.9 1569.7,840.6 1570.2,832.7 1570.7,841.0 1571.3,820.7 1571.8,828.5 1572.3,838.6 1572.9,833.0 1573.4,815.4 1573.9,818.2 1574.5,813.7 1575.0,856.4 1575.5,814.9 1576.1,829.1 1576.6,847.3 1577.1,831.6 1577.7,831.3 1578.2,810.3 1578.8,830.5 1579.3,864.7 1579.8,831.2 1580.4,838.3 1580.9,828.8 1581.4,831.3 1582.0,835.5 1582.5,848.9 1583.0,822.8 1583.6,818.1 1584.1,836.6 1584.6,838.7 1585.2,853.2 1585.7,844.5 1586.2,826.9 1586.8,838.4 1587.3,839.6 1587.8,822.7 1588.4,808.9 1588.9,817.2 1589.4,802.6 1590.0,784.1 1590.5,825.1 1591.0,795.0 1591.6,808.0 1592.1,807.8 1592.7,805.8 1593.2,804.6 1593.7,789.8 1594.3,816.2 1594.8,814.3 1595.3,818.9 1595.9,833.9 1596.4,833.8 1596.9,834.2 1597.5,836.9 1598.0,815.2 1598.5,785.9 1599.1,803.0 1599.6,796.9 1600.1,795.3 1600.7,786.7 1601.2,785.1 1601.7,809.3 1602.3,814.7 1602.8,790.0 1603.3,809.0 1603.9,796.5 1604.4,789.6 1604.9,799.8 1605.5,789.3 1606.0,782.7 1606.6,790.2 1607.1,764.1 1607.6,780.3 1608.2,780.6 1608.7,767.0 1609.2,784.9 1609.8,785.5 1610.3,776.3 1610.8,785.7 1611.4,801.3 1611.9,810.8 1612.4,790.7 1613.0,804.1 1613.5,809.8 1614.0,791.5 1614.6,776.7 1615.1,772.5 1615.6,775.4 1616.2,765.0 1616.7,801.5 1617.2,769.3 1617.8,783.6 1618.3,785.9 1618.8,796.3 1619.4,786.2 1619.9,774.4 1620.5,808.9 1621.0,785.6 1621.5,787.1 1622.1,787.3 1622.6,798.3 1623.1,788.3 1623.7,788.9 1624.2,781.5 1624.7,772.8 1625.3,776.7 1625.8,768.7 1626.3,758.6 1626.9,783.3 1627.4,774.4 1627.9,819.8 1628.5,805.7 1629.0,800.4 1629.5,780.6 1630.1,817.0 1630.6,773.6 1631.1,781.1 1631.7,784.9 1632.2,779.9 1632.7,790.9 1633.3,789.0 1633.8,806.8 1634.4,790.8 1634.9,789.4 1635.4,776.4 1636.0,767.8 1636.5,760.3 1637.0,749.9 1637.6,758.2 1638.1,765.0 1638.6,780.7 1639.2,751.6 1639.7,757.1 1640.2,778.3 1640.8,763.7 1641.3,781.7 1641.8,771.0 1642.4,762.1 1642.9,747.6 1643.4,756.0 1644.0,743.7 1644.5,744.1 1645.0,744.4 1645.6,755.7 1646.1,756.3 1646.6,734.3 1647.2,754.8 1647.7,761.2 1648.3,767.4 1648.8,762.1 1649.3,753.4 1649.9,735.1 1650.4,738.5 1650.9,759.5 1651.5,741.0 1652.0,766.4 1652.5,772.8 1653.1,744.7 1653.6,761.9 1654.1,750.6 1654.7,771.9 1655.2,751.8 1655.7,732.0 1656.3,744.3 1656.8,731.2 1657.3,745.2 1657.9,751.7 1658.4,750.0 1658.9,750.2 1659.5,735.8 1660.0,728.9 1660.5,754.9 1661.1,754.2 1661.6,758.4 1662.2,791.5 1662.7,773.6 1663.2,750.8 1663.8,730.6 1664.3,730.3 1664.8,751.4 1665.4,762.2 1665.9,747.6 1666.4,755.2 1667.0,757.7 1667.5,767.8 1668.0,729.9 1668.6,754.7 1669.1,755.9 1669.6,758.9 1670.2,746.5 1670.7,722.5 1671.2,726.4 1671.8,715.2 1672.3,739.7 1672.8,741.5 1673.4,744.5 1673.9,722.6 1674.4,717.7 1675.0,751.0 1675.5,735.7 1676.1,758.7 1676.6,745.3 1677.1,723.5 1677.7,753.1 1678.2,757.7 1678.7,734.8 1679.3,715.2 1679.8,748.4 1680.3,738.3 1680.9,742.6 1681.4,702.5 1681.9,739.9 1682.5,696.5 1683.0,717.5 1683.5,735.7 1684.1,696.4 1684.6,692.1 1685.1,708.1 1685.7,734.3 1686.2,733.8 1686.7,705.9 1687.3,727.4 1687.8,723.1 1688.3,719.1 1688.9,718.7 1689.4,702.1 1690.0,718.5 1690.5,719.5 1691.0,738.9 1691.6,714.8 1692.1,670.2 1692.6,685.1 1693.2,705.2 1693.7,704.5 1694.2,683.4 1694.8,707.6 1695.3,703.5 1695.8,703.8 1696.4,699.2 1696.9,710.7 1697.4,717.9 1698.0,709.4 1698.5,687.8 1699.0,691.3 1699.6,692.2 1700.1,696.4 1700.6,686.9 1701.2,683.7 1701.7,674.2 1702.2,698.4 1702.8,699.0 1703.3,702.8 1703.9,692.2 1704.4,701.2 1704.9,684.6 1705.5,683.0 1706.0,687.9 1706.5,701.7 1707.1,692.4 1707.6,680.5 1708.1,697.1 1708.7,700.7 1709.2,695.0 1709.7,680.6 1710.3,685.7 1710.8,675.3 1711.3,673.3 1711.9,674.7 1712.4,686.3 1712.9,703.3 1713.5,705.0 1714.0,698.5 1714.5,688.9 1715.1,690.3 1715.6,687.4 1716.1,699.8 1716.7,643.3 1717.2,678.1 1717.7,647.4 1718.3,673.1 1718.8,691.1 1719.4,663.4 1719.9,647.2 1720.4,695.9 1721.0,702.4 1721.5,694.1 1722.0,708.3 1722.6,685.3 1723.1,713.7 1723.6,722.7 1724.2,709.2 1724.7,701.5 1725.2,708.1 1725.8,698.2 1726.3,667.3 1726.8,691.3 1727.4,683.6 1727.9,678.6 1728.4,697.1 1729.0,695.6 1729.5,695.5 1730.0,679.9 1730.6,696.7 1731.1,669.9 1731.6,680.5 1732.2,658.5 1732.7,657.9 1733.3,686.4 1733.8,679.9 1734.3,680.7 1734.9,684.5 1735.4,678.4 1735.9,660.0 1736.5,670.8 1737.0,667.9 1737.5,661.1 1738.1,664.9 1738.6,659.7 1739.1,653.6 1739.7,655.0 1740.2,659.8 1740.7,681.5 1741.3,644.0 1741.8,663.9 1742.3,643.1 1742.9,688.7 1743.4,669.0 1743.9,678.0 1744.5,692.9 1745.0,686.5 1745.5,649.9 1746.1,671.2 1746.6,656.2 1747.2,664.3 1747.7,658.0 1748.2,666.9 1748.8,662.3 1749.3,656.6 1749.8,672.6 1750.4,635.8 1750.9,649.3 1751.4,642.5 1752.0,653.9 1752.5,650.9 1753.0,654.3 1753.6,648.4 1754.1,647.1 1754.6,630.7 1755.2,650.2 1755.7,651.2 1756.2,633.2 1756.8,625.9 1757.3,622.9 1757.8,656.1 1758.4,644.4 1758.9,655.7 1759.4,652.9 1760.0,652.5 1760.5,646.8 1761.1,675.9 1761.6,630.6 1762.1,654.1 1762.7,647.9 1763.2,643.8 1763.7,626.5 1764.3,632.5 1764.8,664.8 1765.3,646.7 1765.9,669.2 1766.4,665.6 1766.9,661.4 1767.5,660.1 1768.0,631.3 1768.5,638.8 1769.1,653.0 1769.6,628.7 1770.1,670.0 1770.7,645.9 1771.2,657.8 1771.7,649.6 1772.3,669.7 1772.8,654.6 1773.3,658.2 1773.9,642.9 1774.4,669.5 1775.0,628.8 1775.5,652.4 1776.0,646.0 1776.6,645.1 1777.1,623.4 1777.6,649.4 1778.2,650.0 1778.7,642.4 1779.2,647.7 1779.8,644.1 1780.3,655.4 1780.8,634.7 1781.4,649.2 1781.9,643.5 1782.4,617.6 1783.0,601.2 1783.5,633.8 1784.0,632.2 1784.6,648.3 1785.1,631.0 1785.6,621.9 1786.2,608.7 1786.7,623.7 1787.2,616.4 1787.8,610.1 1788.3,623.9 1788.9,639.7 1789.4,626.4 1789.9,610.2 1790.5,627.6 1791.0,609.6 1791.5,604.9 1792.1,633.5 1792.6,620.4 1793.1,643.3 1793.7,634.6 1794.2,621.7 1794.7,634.6 1795.3,645.0 1795.8,619.3 1796.3,601.1 1796.9,600.7 1797.4,595.2 1797.9,588.7 1798.5,586.5 1799.0,608.7 1799.5,617.9 1800.1,599.1 1800.6,614.5 1801.1,614.8 1801.7,621.2 1802.2,590.8 1802.8,582.9 1803.3,589.4 1803.8,584.3 1804.4,588.3 1804.9,602.3 1805.4,579.0 1806.0,583.8 1806.5,564.4 1807.0,569.6 1807.6,559.0 1808.1,554.0 1808.6,557.3 1809.2,553.8 1809.7,563.9 1810.2,570.5 1810.8,545.8 1811.3,574.5 1811.8,538.2 1812.4,566.9 1812.9,571.9 1813.4,553.9 1814.0,554.8 1814.5,543.0 1815.0,559.0 1815.6,506.4 1816.1,534.7 1816.7,525.9 1817.2,558.3 1817.7,577.1 1818.3,576.6 1818.8,566.2 1819.3,555.3 1819.9,538.9 1820.4,568.0 1820.9,566.8 1821.5,553.7 1822.0,550.1 1822.5,556.4 1823.1,574.7 1823.6,573.5 1824.1,577.8 1824.7,548.1 1825.2,557.9 1825.7,585.8 1826.3,573.0 1826.8,579.7 1827.3,549.0 1827.9,559.6 1828.4,565.1 1828.9,563.9 1829.5,566.7 1830.0,552.3 1830.6,595.5 1831.1,573.9 1831.6,550.6 1832.2,583.4 1832.7,568.8 1833.2,576.6 1833.8,564.4 1834.3,557.6 1834.8,559.7 1835.4,576.3 1835.9,583.7 1836.4,581.3 1837.0,583.7 1837.5,588.9 1838.0,571.0 1838.6,573.5 1839.1,569.9 1839.6,558.4 1840.2,556.1 1840.7,554.2 1841.2,545.0 1841.8,539.9 1842.3,579.0 1842.8,563.7 1843.4,560.0 1843.9,591.0 1844.4,583.0 1845.0,568.9 1845.5,578.7 1846.1,559.8 1846.6,565.1 1847.1,583.4 1847.7,571.5 1848.2,551.1 1848.7,561.5 1849.3,566.5 1849.8,549.7 1850.3,548.6 1850.9,584.1 1851.4,560.2 1851.9,550.4 1852.5,571.5 1853.0,599.5 1853.5,576.0 1854.1,580.7 1854.6,540.6 1855.1,564.8 1855.7,589.3 1856.2,565.5 1856.7,582.7 1857.3,563.3 1857.8,554.6 1858.3,567.2 1858.9,536.6 1859.4,538.1 1860.0,547.7 1860.5,551.1 1861.0,526.5 1861.6,566.5 1862.1,553.8 1862.6,550.9 1863.2,566.3 1863.7,558.6 1864.2,584.6 1864.8,569.9 1865.3,576.1 1865.8,551.1 1866.4,557.4 1866.9,566.5 1867.4,550.4 1868.0,556.3 1868.5,565.8 1869.0,581.3 1869.6,574.0 1870.1,571.6 1870.6,558.9 1871.2,563.3 1871.7,570.4 1872.2,553.2 1872.8,560.3 1873.3,566.0 1873.9,532.9 1874.4,557.4 1874.9,560.3 1875.5,559.1 1876.0,539.0 1876.5,552.5 1877.1,528.4 1877.6,533.6 1878.1,558.6 1878.7,518.2 1879.2,536.6 1879.7,536.9 1880.3,538.7 1880.8,533.3 1881.3,549.7 1881.9,526.3 1882.4,522.3 1882.9,545.7 1883.5,522.4 1884.0,543.3 1884.5,538.4 1885.1,528.4 1885.6,532.1 1886.1,534.2 1886.7,540.2 1887.2,523.9 1887.8,527.2 1888.3,507.0 1888.8,517.8 1889.4,490.3 1889.9,510.9 1890.4,500.5 1891.0,528.9 1891.5,512.1 1892.0,489.8 1892.6,501.7 1893.1,492.6 1893.6,473.8 1894.2,455.4 1894.7,485.4 1895.2,470.1 1895.8,441.9 1896.3,459.6 1896.8,457.2 1897.4,441.2 1897.9,447.9 1898.4,427.3 1899.0,433.7 1899.5,432.7 1900.0,435.3 1900.6,431.7 1901.1,429.0 1901.7,429.4 1902.2,421.4 1902.7,436.8 1903.3,428.6 1903.8,442.0 1904.3,442.3 1904.9,446.2 1905.4,458.1 1905.9,460.7 1906.5,470.4 1907.0,468.5 1907.5,453.5 1908.1,467.3 1908.6,469.5 1909.1,468.4 1909.7,473.7 1910.2,496.4 1910.7,491.4 1911.3,482.3 1911.8,498.3 1912.3,502.9 1912.9,503.0 1913.4,487.6 1913.9,496.9 1914.5,523.5 1915.0,494.0 1915.6,499.2 1916.1,533.9 1916.6,507.3 1917.2,498.1 1917.7,483.4 1918.2,519.3 1918.8,499.1 1919.3,516.9 1919.8,503.3 1920.4,491.1 1920.9,536.2 1921.4,511.6 1922.0,522.3 1922.5,514.9 1923.0,491.4 1923.6,502.4 1924.1,499.3 1924.6,521.2 1925.2,518.0 1925.7,511.7 1926.2,544.4 1926.8,535.2 1927.3,540.6 1927.8,528.6 1928.4,547.2 1928.9,522.0 1929.5,546.2 1930.0,522.8 1930.5,530.9 1931.1,516.7 1931.6,518.2 1932.1,519.5 1932.7,517.8 1933.2,523.5 1933.7,509.0 1934.3,507.2 1934.8,552.7 1935.3,544.3 1935.9,515.1 1936.4,558.3 1936.9,520.3 1937.5,536.4 1938.0,536.3 1938.5,533.2 1939.1,540.0 1939.6,511.4 1940.1,526.6 1940.7,520.0 1941.2,521.4 1941.7,514.9 1942.3,510.9 1942.8,512.8 1943.4,538.9 1943.9,519.5 1944.4,540.3 1945.0,544.2 1945.5,540.6 1946.0,547.0 1946.6,544.5 1947.1,523.3 1947.6,527.9 1948.2,543.3 1948.7,499.0 1949.2,508.2 1949.8,502.3 1950.3,539.9 1950.8,492.0 1951.4,508.2 1951.9,518.4 1952.4,493.6 1953.0,504.3 1953.5,495.7 1954.0,484.4 1954.6,498.4 1955.1,504.2 1955.6,493.0 1956.2,504.1 1956.7,515.9 1957.3,527.0 1957.8,496.6 1958.3,523.1 1958.9,506.1 1959.4,487.1 1959.9,499.4 1960.5,516.1 1961.0,510.1 1961.5,490.5 1962.1,527.8 1962.6,512.6 1963.1,508.3 1963.7,504.6 1964.2,520.1 1964.7,510.2 1965.3,530.5 1965.8,517.7 1966.3,520.0 1966.9,505.6 1967.4,487.3 1967.9,511.7 1968.5,487.2 1969.0,496.6 1969.5,496.0 1970.1,485.1 1970.6,508.4 1971.2,477.5 1971.7,518.1 1972.2,489.6 1972.8,510.2 1973.3,514.5 1973.8,486.1 1974.4,489.8 1974.9,514.1 1975.4,503.4 1976.0,499.5 1976.5,469.4 1977.0,467.9 1977.6,495.2 1978.1,507.7 1978.6,481.2 1979.2,483.0 1979.7,501.0 1980.2,505.6 1980.8,505.5 1981.3,487.7 1981.8,460.9 1982.4,500.1 1982.9,466.4 1983.4,484.7 1984.0,435.9 1984.5,465.2 1985.0,452.5 1985.6,446.8 1986.1,480.4 1986.7,492.6 1987.2,475.4 1987.7,498.6 1988.3,476.9 1988.8,479.8 1989.3,478.3 1989.9,470.3 1990.4,480.0 1990.9,454.3 1991.5,485.2 1992.0,485.2 1992.5,466.8 1993.1,449.7 1993.6,430.0 1994.1,461.1 1994.7,454.7 1995.2,470.4 1995.7,457.9 1996.3,472.7 1996.8,469.3 1997.3,467.1 1997.9,468.6 1998.4,467.6 1998.9,477.2 1999.5,454.5 2000.0,476.7 2000.6,469.5 2001.1,460.1 2001.6,448.6 2002.2,477.7 2002.7,456.9 2003.2,443.6 2003.8,450.1 2004.3,448.4 2004.8,441.1 2005.4,430.7 2005.9,455.1 2006.4,454.8 2007.0,455.4 2007.5,471.9 2008.0,437.2 2008.6,438.7 2009.1,451.6 2009.6,459.0 2010.2,454.4 2010.7,455.0 2011.2,414.8 2011.8,453.1 2012.3,454.2 2012.8,460.0 2013.4,442.2 2013.9,458.6 2014.5,465.5 2015.0,475.7 2015.5,460.2 2016.1,441.0 2016.6,460.3 2017.1,466.3 2017.7,461.1 2018.2,476.9 2018.7,444.2 2019.3,429.1 2019.8,430.5 2020.3,445.5 2020.9,424.6 2021.4,422.4 2021.9,426.9 2022.5,455.2 2023.0,438.4 2023.5,423.7 2024.1,432.1 2024.6,423.2 2025.1,396.1 2025.7,419.1 2026.2,410.2 2026.7,378.3 2027.3,391.5 2027.8,413.8 2028.4,420.6 2028.9,414.7 2029.4,409.8 2030.0,430.9 2030.5,403.7 2031.0,436.2 2031.6,425.7 2032.1,428.1 2032.6,422.0 2033.2,445.7 2033.7,403.9 2034.2,423.8 2034.8,441.2 2035.3,419.8 2035.8,445.8 2036.4,427.7 2036.9,407.5 2037.4,429.9 2038.0,410.3 2038.5,417.3 2039.0,398.4 2039.6,396.1 2040.1,411.4 2040.6,400.4 2041.2,386.3 2041.7,381.9 2042.3,399.7 2042.8,411.3 2043.3,372.0 2043.9,389.1 2044.4,337.9 2044.9,352.3 2045.5,371.2 2046.0,375.2 2046.5,352.6 2047.1,354.3 2047.6,348.3 2048.1,350.8 2048.7,326.0 2049.2,331.2 2049.7,313.9 2050.3,305.7 2050.8,299.4 2051.3,291.0 2051.9,281.9 2052.4,279.8 2052.9,271.0 2053.5,278.8 2054.0,267.7 2054.5,254.2 2055.1,258.6 2055.6,252.1 2056.2,245.6 2056.7,240.3 2057.2,247.4 2057.8,253.6 2058.3,263.5 2058.8,260.4 2059.4,263.7 2059.9,284.7 2060.4,284.2 2061.0,282.4 2061.5,279.7 2062.0,291.8 2062.6,299.8 2063.1,302.5 2063.6,308.3 2064.2,310.7 2064.7,326.5 2065.2,323.3 2065.8,331.6 2066.3,335.4 2066.8,335.9 2067.4,361.5 2067.9,328.0 2068.4,349.9 2069.0,339.8 2069.5,339.7 2070.1,357.5 2070.6,339.7 2071.1,359.3 2071.7,392.6 2072.2,367.4 2072.7,381.6 2073.3,370.5 2073.8,392.9 2074.3,367.1 2074.9,389.8 2075.4,383.0 2075.9,411.8 2076.5,377.1 2077.0,371.2 2077.5,368.1 2078.1,360.0 2078.6,388.7 2079.1,399.8 2079.7,376.7 2080.2,395.2 2080.7,384.0 2081.3,397.9 2081.8,400.8 2082.3,375.4 2082.9,385.3 2083.4,410.4 2084.0,373.0 2084.5,403.0 2085.0,401.4 2085.6,395.9 2086.1,411.3 2086.6,415.7 2087.2,419.5 2087.7,375.9 2088.2,437.2 2088.8,408.5 2089.3,431.7 2089.8,417.9 2090.4,414.2 2090.9,423.7 2091.4,470.9 2092.0,450.4 2092.5,425.5 2093.0,433.9 2093.6,444.2 2094.1,431.8 2094.6,419.0 2095.2,409.9 2095.7,393.6 2096.2,417.5 2096.8,423.4 2097.3,442.0 2097.9,406.5 2098.4,425.8 2098.9,416.8 2099.5,433.0 2100.0,410.1 2100.5,398.2 2101.1,380.7 2101.6,413.3 2102.1,404.8 2102.7,416.3 2103.2,389.2 2103.7,430.6 2104.3,385.4 2104.8,408.2 2105.3,414.7 2105.9,430.9 2106.4,416.3 2106.9,405.3 2107.5,401.4 2108.0,422.6 2108.5,408.3 2109.1,407.7 2109.6,388.1 2110.1,399.0 2110.7,399.2 2111.2,405.5 2111.7,378.8 2112.3,392.7 2112.8,433.5 2113.4,410.2 2113.9,420.1 2114.4,418.1 2115.0,400.9 2115.5,402.5 2116.0,418.4 2116.6,401.7 2117.1,440.2 2117.6,392.8 2118.2,388.6 2118.7,411.9 2119.2,401.4 2119.8,438.6 2120.3,413.6 2120.8,427.0 2121.4,399.8 2121.9,428.9 2122.4,428.0 2123.0,436.0 2123.5,422.3 2124.0,428.7 2124.6,427.0 2125.1,440.0 2125.6,420.0 2126.2,427.8 2126.7,403.4 2127.3,412.7 2127.8,392.8 2128.3,384.4 2128.9,382.6 2129.4,411.5 2129.9,366.0 2130.5,364.2 2131.0,393.2 2131.5,372.0 2132.1,383.6 2132.6,387.1 2133.1,428.7 2133.7,387.2 2134.2,385.4 2134.7,387.7 2135.3,392.9 2135.8,392.5 2136.3,360.7 2136.9,385.1 2137.4,405.3 2137.9,352.0 2138.5,384.9 2139.0,385.9 2139.5,374.8 2140.1,368.3 2140.6,338.7 2141.2,392.9 2141.7,376.1 2142.2,380.9 2142.8,401.5 2143.3,349.8 2143.8,381.8 2144.4,393.7 2144.9,400.2 2145.4,403.4 2146.0,426.9 2146.5,403.5 2147.0,414.5"/>
<polyline fill="none" stroke="#f00" stroke-width="2.2" stroke-linejoin="round" points="501.0,612.0 501.5,623.9 502.1,635.4 502.6,645.6 503.1,659.8 503.7,670.9 504.2,680.2 504.7,693.4 505.3,703.7 505.8,712.8 506.3,729.2 506.9,736.5 507.4,748.0 507.9,756.7 508.5,772.9 509.0,778.6 509.6,791.0 510.1,791.2 510.6,805.7 511.2,807.0 511.7,831.7 512.2,833.8 512.8,841.2 513.3,847.2 513.8,835.9 514.4,863.7 514.9,888.0 515.4,847.2 516.0,856.2 516.5,870.5 517.0,912.0 517.6,910.3 518.1,927.9 518.6,927.2 519.2,925.6 519.7,932.8 520.2,932.5 520.8,949.6 521.3,925.2 521.8,935.5 522.4,946.0 522.9,969.7 523.5,940.9 524.0,940.7 524.5,949.5 525.1,970.8 525.6,958.2 526.1,983.5 526.7,948.3 527.2,990.4 527.7,989.0 528.3,954.8 528.8,972.4 529.3,985.9 529.9,974.7 530.4,992.0 530.9,1015.9 531.5,994.8 532.0,991.8 532.5,988.9 533.1,1011.5 533.6,1007.4 534.1,1015.4 534.7,1023.1 535.2,1036.6 535.7,1016.2 536.3,1010.9 536.8,1001.4 537.4,1051.2 537.9,1042.6 538.4,1065.9 539.0,1050.8 539.5,1043.8 540.0,1059.5 540.6,1051.7 541.1,1036.0 541.6,1040.5 542.2,1074.7 542.7,1059.8 543.2,1064.7 543.8,1061.8 544.3,1063.9 544.8,1090.8 545.4,1084.1 545.9,1078.6 546.4,1086.2 547.0,1075.3 547.5,1087.5 548.0,1098.4 548.6,1074.4 549.1,1102.9 549.6,1078.4 550.2,1089.3 550.7,1077.3 551.3,1084.9 551.8,1089.6 552.3,1087.4 552.9,1090.0 553.4,1097.0 553.9,1101.2 554.5,1096.6 555.0,1116.0 555.5,1127.0 556.1,1135.0 556.6,1132.2 557.1,1153.3 557.7,1126.8 558.2,1117.1 558.7,1144.4 559.3,1108.0 559.8,1131.7 560.3,1110.4 560.9,1130.7 561.4,1109.1 561.9,1149.6 562.5,1141.7 563.0,1135.0 563.5,1168.4 564.1,1158.3 564.6,1148.9 565.2,1137.7 565.7,1144.9 566.2,1144.5 566.8,1158.3 567.3,1162.7 567.8,1147.2 568.4,1148.0 568.9,1146.1 569.4,1134.3 570.0,1142.2 570.5,1148.3 571.0,1159.1 571.6,1168.9 572.1,1146.3 572.6,1164.3 573.2,1154.6 573.7,1186.9 574.2,1166.4 574.8,1179.4 575.3,1170.5 575.8,1179.7 576.4,1197.2 576.9,1192.7 577.4,1200.3 578.0,1174.4 578.5,1195.2 579.1,1171.9 579.6,1198.9 580.1,1175.3 580.7,1194.4 581.2,1170.8 581.7,1198.3 582.3,1189.6 582.8,1200.5 583.3,1211.2 583.9,1209.8 584.4,1217.1 584.9,1222.7 585.5,1222.2 586.0,1215.5 586.5,1203.2 587.1,1211.8 587.6,1220.0 588.1,1198.3 588.7,1231.0 589.2,1220.0 589.7,1221.2 590.3,1237.5 590.8,1238.6 591.3,1238.8 591.9,1229.6 592.4,1246.9 593.0,1247.4 593.5,1232.8 594.0,1254.8 594.6,1249.6 595.1,1222.3 595.6,1246.2 596.2,1230.9 596.7,1259.6 597.2,1258.1 597.8,1238.4 598.3,1241.4 598.8,1251.8 599.4,1247.0 599.9,1266.8 600.4,1258.9 601.0,1249.2 601.5,1261.4 602.0,1235.4 602.6,1265.9 603.1,1275.8 603.6,1265.6 604.2,1258.5 604.7,1269.7 605.2,1282.3 605.8,1261.1 606.3,1246.5 606.9,1276.2 607.4,1239.8 607.9,1267.4 608.5,1256.4 609.0,1274.6 609.5,1255.7 610.1,1280.6 610.6,1269.7 611.1,1247.7 611.7,1245.4 612.2,1264.3 612.7,1282.5 613.3,1269.5 613.8,1268.7 614.3,1265.9 614.9,1278.7 615.4,1277.6 615.9,1279.3 616.5,1267.5 617.0,1293.5 617.5,1296.8 618.1,1267.4 618.6,1306.3 619.1,1287.5 619.7,1273.0 620.2,1257.0 620.8,1286.0 621.3,1286.6 621.8,1275.5 622.4,1263.3 622.9,1296.2 623.4,1279.0 624.0,1283.1 624.5,1322.3 625.0,1315.6 625.6,1303.1 626.1,1288.0 626.6,1300.6 627.2,1267.9 627.7,1292.6 628.2,1281.8 628.8,1276.7 629.3,1277.0 629.8,1305.2 630.4,1303.7 630.9,1303.9 631.4,1307.2 632.0,1283.3 632.5,1275.6 633.0,1270.1 633.6,1290.3 634.1,1309.2 634.7,1306.0 635.2,1318.5 635.7,1298.4 636.3,1303.2 636.8,1297.1 637.3,1291.1 637.9,1326.2 638.4,1316.4 638.9,1298.9 639.5,1298.6 640.0,1307.0 640.5,1294.1 641.1,1317.4 641.6,1300.5 642.1,1310.3 642.7,1301.0 643.2,1303.9 643.7,1291.9 644.3,1287.4 644.8,1293.4 645.3,1297.1 645.9,1303.3 646.4,1310.1 646.9,1328.8 647.5,1323.1 648.0,1312.3 648.5,1323.1 649.1,1308.5 649.6,1334.1 650.2,1328.1 650.7,1310.3 651.2,1333.4 651.8,1331.4 652.3,1289.7 652.8,1307.4 653.4,1308.0 653.9,1290.5 654.4,1298.6 655.0,1299.3 655.5,1315.4 656.0,1314.4 656.6,1341.4 657.1,1310.6 657.6,1328.8 658.2,1317.7 658.7,1319.5 659.2,1303.1 659.8,1292.5 660.3,1299.9 660.8,1309.4 661.4,1311.5 661.9,1297.5 662.4,1297.4 663.0,1287.0 663.5,1317.8 664.1,1320.8 664.6,1305.2 665.1,1314.7 665.7,1308.4 666.2,1338.8 666.7,1330.7 667.3,1327.8 667.8,1334.0 668.3,1333.5 668.9,1322.2 669.4,1310.8 669.9,1308.7 670.5,1303.3 671.0,1327.0 671.5,1345.7 672.1,1302.5 672.6,1320.8 673.1,1322.3 673.7,1306.9 674.2,1321.5 674.7,1311.6 675.3,1341.1 675.8,1324.3 676.3,1331.0 676.9,1334.1 677.4,1318.9 678.0,1303.4 678.5,1318.6 679.0,1335.0 679.6,1327.0 680.1,1329.4 680.6,1313.2 681.2,1324.8 681.7,1330.4 682.2,1322.5 682.8,1341.3 683.3,1316.0 683.8,1304.3 684.4,1296.6 684.9,1327.2 685.4,1316.5 686.0,1331.5 686.5,1329.6 687.0,1346.7 687.6,1347.7 688.1,1334.6 688.6,1344.8 689.2,1353.7 689.7,1325.7 690.2,1349.6 690.8,1341.1 691.3,1333.5 691.9,1317.8 692.4,1322.3 692.9,1307.2 693.5,1319.4 694.0,1310.8 694.5,1316.6 695.1,1311.0 695.6,1323.0 696.1,1337.5 696.7,1314.1 697.2,1339.4 697.7,1307.2 698.3,1303.6 698.8,1323.2 699.3,1321.8 699.9,1324.4 700.4,1301.2 700.9,1319.5 701.5,1323.7 702.0,1338.1 702.5,1324.9 703.1,1332.4 703.6,1316.0 704.1,1324.0 704.7,1319.9 705.2,1330.0 705.8,1308.5 706.3,1306.9 706.8,1319.7 707.4,1331.7 707.9,1316.6 708.4,1316.3 709.0,1309.7 709.5,1325.7 710.0,1320.4 710.6,1333.9 711.1,1318.9 711.6,1305.1 712.2,1309.0 712.7,1303.8 713.2,1299.8 713.8,1326.0 714.3,1321.1 714.8,1300.6 715.4,1336.7 715.9,1325.0 716.4,1317.7 717.0,1336.6 717.5,1332.6 718.0,1321.8 718.6,1303.0 719.1,1318.3 719.7,1317.3 720.2,1285.5 720.7,1320.9 721.3,1323.6 721.8,1312.9 722.3,1318.2 722.9,1311.2 723.4,1302.7 723.9,1307.9 724.5,1329.5 725.0,1303.7 725.5,1325.2 726.1,1324.4 726.6,1310.9 727.1,1308.5 727.7,1293.8 728.2,1298.5 728.7,1309.6 729.3,1316.5 729.8,1307.0 730.3,1352.9 730.9,1315.0 731.4,1322.3 731.9,1317.3 732.5,1314.1 733.0,1331.2 733.6,1310.0 734.1,1326.9 734.6,1321.6 735.2,1295.4 735.7,1317.3 736.2,1300.9 736.8,1342.0 737.3,1313.2 737.8,1311.3 738.4,1301.9 738.9,1306.2 739.4,1309.1 740.0,1299.7 740.5,1294.2 741.0,1299.0 741.6,1304.0 742.1,1321.2 742.6,1285.6 743.2,1297.3 743.7,1293.2 744.2,1288.5 744.8,1292.6 745.3,1297.0 745.8,1314.3 746.4,1304.2 746.9,1301.2 747.5,1314.8 748.0,1311.3 748.5,1304.0 749.1,1307.0 749.6,1289.4 750.1,1301.2 750.7,1297.1 751.2,1287.2 751.7,1280.1 752.3,1313.2 752.8,1301.9 753.3,1339.1 753.9,1303.6 754.4,1323.5 754.9,1309.9 755.5,1314.6 756.0,1317.0 756.5,1296.9 757.1,1304.7 757.6,1308.8 758.1,1308.8 758.7,1314.2 759.2,1319.5 759.7,1318.4 760.3,1312.5 760.8,1304.8 761.4,1293.9 761.9,1295.1 762.4,1293.7 763.0,1303.5 763.5,1289.8 764.0,1279.6 764.6,1300.7 765.1,1286.6 765.6,1289.1 766.2,1297.8 766.7,1308.4 767.2,1278.7 767.8,1293.1 768.3,1306.6 768.8,1299.8 769.4,1293.5 769.9,1295.9 770.4,1316.1 771.0,1296.3 771.5,1311.0 772.0,1314.7 772.6,1303.7 773.1,1315.2 773.6,1306.2 774.2,1303.9 774.7,1295.5 775.2,1313.0 775.8,1294.5 776.3,1289.8 776.9,1283.4 777.4,1318.2 777.9,1310.3 778.5,1302.8 779.0,1295.4 779.5,1283.0 780.1,1300.4 780.6,1300.6 781.1,1284.8 781.7,1316.2 782.2,1313.7 782.7,1294.2 783.3,1296.8 783.8,1296.1 784.3,1300.8 784.9,1296.2 785.4,1279.6 785.9,1315.0 786.5,1304.5 787.0,1316.0 787.5,1315.3 788.1,1297.1 788.6,1300.2 789.1,1301.8 789.7,1300.4 790.2,1290.0 790.8,1286.3 791.3,1295.3 791.8,1288.2 792.4,1293.2 792.9,1279.3 793.4,1304.0 794.0,1291.6 794.5,1294.5 795.0,1296.9 795.6,1298.0 796.1,1313.2 796.6,1292.8 797.2,1273.2 797.7,1288.7 798.2,1280.0 798.8,1290.3 799.3,1276.9 799.8,1274.6 800.4,1275.1 800.9,1274.0 801.4,1262.7 802.0,1277.8 802.5,1286.2 803.0,1298.9 803.6,1280.7 804.1,1277.9 804.7,1286.6 805.2,1284.9 805.7,1296.2 806.3,1285.4 806.8,1279.4 807.3,1295.0 807.9,1297.6 808.4,1276.2 808.9,1284.0 809.5,1264.6 810.0,1280.7 810.5,1277.1 811.1,1286.6 811.6,1284.5 812.1,1287.2 812.7,1286.0 813.2,1291.3 813.7,1288.6 814.3,1281.6 814.8,1275.5 815.3,1303.9 815.9,1304.5 816.4,1281.1 816.9,1289.4 817.5,1263.5 818.0,1260.6 818.6,1272.8 819.1,1290.3 819.6,1260.7 820.2,1261.5 820.7,1287.4 821.2,1247.9 821.8,1275.9 822.3,1274.7 822.8,1268.9 823.4,1276.5 823.9,1306.5 824.4,1265.9 825.0,1273.5 825.5,1271.1 826.0,1262.7 826.6,1252.8 827.1,1283.6 827.6,1267.1 828.2,1245.0 828.7,1258.2 829.2,1272.8 829.8,1274.6 830.3,1254.0 830.8,1267.6 831.4,1270.2 831.9,1271.6 832.5,1272.4 833.0,1247.7 833.5,1286.8 834.1,1266.0 834.6,1282.7 835.1,1295.8 835.7,1264.2 836.2,1253.3 836.7,1276.3 837.3,1262.8 837.8,1256.2 838.3,1244.0 838.9,1267.4 839.4,1237.0 839.9,1222.2 840.5,1231.9 841.0,1225.9 841.5,1244.9 842.1,1244.1 842.6,1242.4 843.1,1264.6 843.7,1252.1 844.2,1268.2 844.7,1275.3 845.3,1258.5 845.8,1255.3 846.4,1262.1 846.9,1265.2 847.4,1250.1 848.0,1248.0 848.5,1244.1 849.0,1247.0 849.6,1250.4 850.1,1235.6 850.6,1237.9 851.2,1242.1 851.7,1231.4 852.2,1238.1 852.8,1241.5 853.3,1235.1 853.8,1228.6 854.4,1226.3 854.9,1254.6 855.4,1245.3 856.0,1224.3 856.5,1230.0 857.0,1263.4 857.6,1260.9 858.1,1245.3 858.6,1255.7 859.2,1224.4 859.7,1240.6 860.3,1249.0 860.8,1219.4 861.3,1230.4 861.9,1245.6 862.4,1246.0 862.9,1222.3 863.5,1228.6 864.0,1241.0 864.5,1218.3 865.1,1209.8 865.6,1227.7 866.1,1226.3 866.7,1245.4 867.2,1229.8 867.7,1215.3 868.3,1248.7 868.8,1214.1 869.3,1225.3 869.9,1228.7 870.4,1230.8 870.9,1223.6 871.5,1227.2 872.0,1218.8 872.5,1203.3 873.1,1217.4 873.6,1217.7 874.2,1217.1 874.7,1219.8 875.2,1211.0 875.8,1234.5 876.3,1239.2 876.8,1197.0 877.4,1221.2 877.9,1210.2 878.4,1185.7 879.0,1218.7 879.5,1207.4 880.0,1212.0 880.6,1210.9 881.1,1231.8 881.6,1233.0 882.2,1221.0 882.7,1225.9 883.2,1217.9 883.8,1221.6 884.3,1210.9 884.8,1217.8 885.4,1206.5 885.9,1216.3 886.4,1219.9 887.0,1214.1 887.5,1225.4 888.1,1243.5 888.6,1187.2 889.1,1208.7 889.7,1198.8 890.2,1197.7 890.7,1186.2 891.3,1202.1 891.8,1198.0 892.3,1192.2 892.9,1193.9 893.4,1187.5 893.9,1166.6 894.5,1208.7 895.0,1197.9 895.5,1195.9 896.1,1213.8 896.6,1204.0 897.1,1187.0 897.7,1223.0 898.2,1194.5 898.7,1212.2 899.3,1215.9 899.8,1228.1 900.3,1222.9 900.9,1207.0 901.4,1192.3 902.0,1193.2 902.5,1208.8 903.0,1216.5 903.6,1202.7 904.1,1190.0 904.6,1211.0 905.2,1196.7 905.7,1198.0 906.2,1200.6 906.8,1211.7 907.3,1208.9 907.8,1217.1 908.4,1218.3 908.9,1204.8 909.4,1166.2 910.0,1168.2 910.5,1185.3 911.0,1180.1 911.6,1205.9 912.1,1182.4 912.6,1183.5 913.2,1197.3 913.7,1197.8 914.2,1180.4 914.8,1186.7 915.3,1167.1 915.8,1168.9 916.4,1193.9 916.9,1162.1 917.5,1187.7 918.0,1183.1 918.5,1182.7 919.1,1183.9 919.6,1180.6 920.1,1150.2 920.7,1163.5 921.2,1166.8 921.7,1182.8 922.3,1158.5 922.8,1164.1 923.3,1168.6 923.9,1186.9 924.4,1151.4 924.9,1148.9 925.5,1170.2 926.0,1138.3 926.5,1168.5 927.1,1160.2 927.6,1147.1 928.1,1160.9 928.7,1154.7 929.2,1168.7 929.7,1169.5 930.3,1179.2 930.8,1157.4 931.4,1156.3 931.9,1148.2 932.4,1155.6 933.0,1168.3 933.5,1131.8 934.0,1160.5 934.6,1145.4 935.1,1152.2 935.6,1153.8 936.2,1157.5 936.7,1148.2 937.2,1140.5 937.8,1150.3 938.3,1148.1 938.8,1145.1 939.4,1146.7 939.9,1148.9 940.4,1134.4 941.0,1131.5 941.5,1115.6 942.0,1134.3 942.6,1120.7 943.1,1158.0 943.6,1142.7 944.2,1170.8 944.7,1190.4 945.3,1148.9 945.8,1168.6 946.3,1156.6 946.9,1143.5 947.4,1137.9 947.9,1152.9 948.5,1162.4 949.0,1151.2 949.5,1130.6 950.1,1136.6 950.6,1145.4 951.1,1163.7 951.7,1152.0 952.2,1154.8 952.7,1166.6 953.3,1148.0 953.8,1144.6 954.3,1137.3 954.9,1112.5 955.4,1135.1 955.9,1131.5 956.5,1136.3 957.0,1108.5 957.5,1111.0 958.1,1129.9 958.6,1120.5 959.2,1131.7 959.7,1104.6 960.2,1117.9 960.8,1107.9 961.3,1119.4 961.8,1108.8 962.4,1120.3 962.9,1127.1 963.4,1123.2 964.0,1094.3 964.5,1127.6 965.0,1121.8 965.6,1104.8 966.1,1108.2 966.6,1120.1 967.2,1126.8 967.7,1113.2 968.2,1097.5 968.8,1118.9 969.3,1115.9 969.8,1141.5 970.4,1094.8 970.9,1139.9 971.4,1130.5 972.0,1113.6 972.5,1130.0 973.1,1110.1 973.6,1118.8 974.1,1096.8 974.7,1107.3 975.2,1096.7 975.7,1093.1 976.3,1110.9 976.8,1106.6 977.3,1120.6 977.9,1127.4 978.4,1108.3 978.9,1110.3 979.5,1112.0 980.0,1089.7 980.5,1112.3 981.1,1106.7 981.6,1103.0 982.1,1088.1 982.7,1076.1 983.2,1095.3 983.7,1098.9 984.3,1107.7 984.8,1102.8 985.3,1107.1 985.9,1095.7 986.4,1106.9 987.0,1091.2 987.5,1102.1 988.0,1106.6 988.6,1128.5 989.1,1098.7 989.6,1080.3 990.2,1113.4 990.7,1088.5 991.2,1098.1 991.8,1093.2 992.3,1080.7 992.8,1101.6 993.4,1087.4 993.9,1070.0 994.4,1078.3 995.0,1074.6 995.5,1091.8 996.0,1084.5 996.6,1082.8 997.1,1083.9 997.6,1083.4 998.2,1089.1 998.7,1073.4 999.2,1085.6 999.8,1095.4 1000.3,1121.0 1000.9,1102.4 1001.4,1051.8 1001.9,1076.8 1002.5,1072.8 1003.0,1077.8 1003.5,1091.3 1004.1,1080.3 1004.6,1042.1 1005.1,1073.5 1005.7,1071.1 1006.2,1075.9 1006.7,1088.9 1007.3,1060.0 1007.8,1088.2 1008.3,1056.3 1008.9,1079.7 1009.4,1085.2 1009.9,1107.7 1010.5,1068.3 1011.0,1054.2 1011.5,1084.0 1012.1,1069.8 1012.6,1099.3 1013.1,1070.6 1013.7,1065.3 1014.2,1087.6 1014.8,1071.0 1015.3,1082.4 1015.8,1053.4 1016.4,1091.3 1016.9,1061.2 1017.4,1074.7 1018.0,1048.6 1018.5,1040.4 1019.0,1057.5 1019.6,1065.5 1020.1,1085.0 1020.6,1069.6 1021.2,1070.5 1021.7,1064.1 1022.2,1089.6 1022.8,1039.1 1023.3,1065.8 1023.8,1049.9 1024.4,1055.6 1024.9,1045.5 1025.4,1067.6 1026.0,1039.5 1026.5,1040.2 1027.0,1053.4 1027.6,1038.7 1028.1,1058.0 1028.7,1058.0 1029.2,1036.5 1029.7,1056.3 1030.3,1039.4 1030.8,1048.1 1031.3,1050.0 1031.9,1074.3 1032.4,1051.3 1032.9,1039.4 1033.5,1038.6 1034.0,1064.6 1034.5,1028.4 1035.1,1042.2 1035.6,1041.9 1036.1,1015.1 1036.7,1039.9 1037.2,1058.8 1037.7,1049.1 1038.3,1033.3 1038.8,1050.2 1039.3,1045.2 1039.9,1062.2 1040.4,1027.3 1040.9,1032.0 1041.5,1038.1 1042.0,1037.5 1042.5,1043.4 1043.1,1045.7 1043.6,1043.3 1044.2,1035.0 1044.7,1048.0 1045.2,1034.5 1045.8,1034.1 1046.3,1035.8 1046.8,1045.2 1047.4,1047.7 1047.9,1024.8 1048.4,1044.8 1049.0,1055.1 1049.5,1047.7 1050.0,1029.9 1050.6,1024.8 1051.1,1061.5 1051.6,1059.5 1052.2,1044.9 1052.7,1020.5 1053.2,1045.8 1053.8,1039.5 1054.3,1022.3 1054.8,1019.6 1055.4,998.1 1055.9,1033.4 1056.4,1005.0 1057.0,1034.6 1057.5,1034.8 1058.1,1025.2 1058.6,1041.3 1059.1,1013.4 1059.7,1020.2 1060.2,1018.5 1060.7,1009.3 1061.3,1001.4 1061.8,1024.7 1062.3,1017.0 1062.9,1010.2 1063.4,1009.3 1063.9,1009.7 1064.5,1032.4 1065.0,1000.6 1065.5,994.0 1066.1,985.0 1066.6,987.7 1067.1,985.2 1067.7,1016.6 1068.2,1014.8 1068.7,998.7 1069.3,988.3 1069.8,998.4 1070.3,992.4 1070.9,980.6 1071.4,1001.6 1072.0,1000.7 1072.5,999.0 1073.0,1009.3 1073.6,990.6 1074.1,1016.0 1074.6,986.3 1075.2,1006.2 1075.7,1006.5 1076.2,991.2 1076.8,993.0 1077.3,966.3 1077.8,960.3 1078.4,977.4 1078.9,973.9 1079.4,994.1 1080.0,988.1 1080.5,993.9 1081.0,987.3 1081.6,984.2 1082.1,983.9 1082.6,981.3 1083.2,983.9 1083.7,1018.5 1084.2,970.9 1084.8,991.0 1085.3,1005.7 1085.9,997.2 1086.4,1007.9 1086.9,994.5 1087.5,968.9 1088.0,978.7 1088.5,963.1 1089.1,992.2 1089.6,997.0 1090.1,972.0 1090.7,984.0 1091.2,971.7 1091.7,959.3 1092.3,974.5 1092.8,963.5 1093.3,979.4 1093.9,989.7 1094.4,993.1 1094.9,995.0 1095.5,969.3 1096.0,974.7 1096.5,978.3 1097.1,982.8 1097.6,941.4 1098.1,969.0 1098.7,988.7 1099.2,962.7 1099.8,978.3 1100.3,983.8 1100.8,947.1 1101.4,968.7 1101.9,974.9 1102.4,972.6 1103.0,952.2 1103.5,974.6 1104.0,961.4 1104.6,979.3 1105.1,975.5 1105.6,964.4 1106.2,975.0 1106.7,964.6 1107.2,964.9 1107.8,953.4 1108.3,969.7 1108.8,981.0 1109.4,969.0 1109.9,963.4 1110.4,951.7 1111.0,950.2 1111.5,965.1 1112.0,935.2 1112.6,979.9 1113.1,950.1 1113.7,976.2 1114.2,960.4 1114.7,937.8 1115.3,952.9 1115.8,948.5 1116.3,952.9 1116.9,957.2 1117.4,938.1 1117.9,935.3 1118.5,937.0 1119.0,924.9 1119.5,940.3 1120.1,948.9 1120.6,952.6 1121.1,955.4 1121.7,949.5 1122.2,963.8 1122.7,923.3 1123.3,940.7 1123.8,938.7 1124.3,953.6 1124.9,950.3 1125.4,951.5 1125.9,939.7 1126.5,949.7 1127.0,922.2 1127.6,934.8 1128.1,905.4 1128.6,954.9 1129.2,953.2 1129.7,924.5 1130.2,920.8 1130.8,903.7 1131.3,910.2 1131.8,930.8 1132.4,925.8 1132.9,907.1 1133.4,919.2 1134.0,917.9 1134.5,935.0 1135.0,940.5 1135.6,929.5 1136.1,932.6 1136.6,925.9 1137.2,890.0 1137.7,910.1 1138.2,899.4 1138.8,906.4 1139.3,872.0 1139.8,907.4 1140.4,890.8 1140.9,904.9 1141.5,919.9 1142.0,887.3 1142.5,891.6 1143.1,922.9 1143.6,894.2 1144.1,894.6 1144.7,912.5 1145.2,900.2 1145.7,913.1 1146.3,907.6 1146.8,903.2 1147.3,915.6 1147.9,931.2 1148.4,902.3 1148.9,925.0 1149.5,921.0 1150.0,906.0 1150.5,907.2 1151.1,884.2 1151.6,884.0 1152.1,892.4 1152.7,885.9 1153.2,902.3 1153.7,866.5 1154.3,878.4 1154.8,872.6 1155.4,879.7 1155.9,900.8 1156.4,875.8 1157.0,909.4 1157.5,893.2 1158.0,894.0 1158.6,903.8 1159.1,876.7 1159.6,880.3 1160.2,867.1 1160.7,860.9 1161.2,858.8 1161.8,842.4 1162.3,857.3 1162.8,870.4 1163.4,870.6 1163.9,846.7 1164.4,876.7 1165.0,865.8 1165.5,835.5 1166.0,834.6 1166.6,851.7 1167.1,823.7 1167.6,833.6 1168.2,836.9 1168.7,830.1 1169.3,824.4 1169.8,822.0 1170.3,804.7 1170.9,800.6 1171.4,812.0 1171.9,781.2 1172.5,780.8 1173.0,776.8 1173.5,765.4 1174.1,767.3 1174.6,752.4 1175.1,747.1 1175.7,720.6 1176.2,733.2 1176.7,726.5 1177.3,710.6 1177.8,716.4 1178.3,706.3 1178.9,706.5 1179.4,709.9 1179.9,701.6 1180.5,698.3 1181.0,707.3 1181.5,704.6 1182.1,711.0 1182.6,714.7 1183.1,718.4 1183.7,732.2 1184.2,734.5 1184.8,729.4 1185.3,744.6 1185.8,734.4 1186.4,745.1 1186.9,753.6 1187.4,766.6 1188.0,769.8 1188.5,773.8 1189.0,783.7 1189.6,786.6 1190.1,797.0 1190.6,788.8 1191.2,786.6 1191.7,799.1 1192.2,811.2 1192.8,808.4 1193.3,817.6 1193.8,821.1 1194.4,824.2 1194.9,831.3 1195.4,817.3 1196.0,838.5 1196.5,815.9 1197.0,827.6 1197.6,814.4 1198.1,840.5 1198.7,817.3 1199.2,856.8 1199.7,824.5 1200.3,850.6 1200.8,851.3 1201.3,845.4 1201.9,874.6 1202.4,850.7 1202.9,874.3 1203.5,839.6 1204.0,841.7 1204.5,824.7 1205.1,857.5 1205.6,859.6 1206.1,846.3 1206.7,836.9 1207.2,824.0 1207.7,867.7 1208.3,847.5 1208.8,814.7 1209.3,836.5 1209.9,805.2 1210.4,860.5 1210.9,864.6 1211.5,856.5 1212.0,835.1 1212.6,826.3 1213.1,811.9 1213.6,831.8 1214.2,806.0 1214.7,803.1 1215.2,795.3 1215.8,800.7 1216.3,822.6 1216.8,841.3 1217.4,828.4 1217.9,832.4 1218.4,819.6 1219.0,818.3 1219.5,820.0 1220.0,846.2 1220.6,837.0 1221.1,845.4 1221.6,834.7 1222.2,818.0 1222.7,799.5 1223.2,804.5 1223.8,785.1 1224.3,830.8 1224.8,809.2 1225.4,804.2 1225.9,839.6 1226.5,807.8 1227.0,819.1 1227.5,806.2 1228.1,810.5 1228.6,799.5 1229.1,812.2 1229.7,826.4 1230.2,790.6 1230.7,778.2 1231.3,828.6 1231.8,814.0 1232.3,825.5 1232.9,810.7 1233.4,835.9 1233.9,837.8 1234.5,793.1 1235.0,814.3 1235.5,792.4 1236.1,775.6 1236.6,792.5 1237.1,804.3 1237.7,776.9 1238.2,777.2 1238.7,811.7 1239.3,795.9 1239.8,803.4 1240.4,785.0 1240.9,794.4 1241.4,806.9 1242.0,808.1 1242.5,805.6 1243.0,820.6 1243.6,793.4 1244.1,763.0 1244.6,768.5 1245.2,779.2 1245.7,797.5 1246.2,768.1 1246.8,768.9 1247.3,771.4 1247.8,761.9 1248.4,762.3 1248.9,772.8 1249.4,790.6 1250.0,782.2 1250.5,768.9 1251.0,775.5 1251.6,748.8 1252.1,778.0 1252.6,771.9 1253.2,763.1 1253.7,732.7 1254.3,780.6 1254.8,708.7 1255.3,736.0 1255.9,739.7 1256.4,766.4 1256.9,740.1 1257.5,768.4 1258.0,765.0 1258.5,762.9 1259.1,776.9 1259.6,781.9 1260.1,764.7 1260.7,754.1 1261.2,726.2 1261.7,780.2 1262.3,756.0 1262.8,733.8 1263.3,760.2 1263.9,775.2 1264.4,749.5 1264.9,733.3 1265.5,782.0 1266.0,761.4 1266.5,761.1 1267.1,774.4 1267.6,733.0 1268.2,765.5 1268.7,766.6 1269.2,803.8 1269.8,767.6 1270.3,770.9 1270.8,759.9 1271.4,765.5 1271.9,769.4 1272.4,771.0 1273.0,760.7 1273.5,788.7 1274.0,764.2 1274.6,762.4 1275.1,769.2 1275.6,757.2 1276.2,741.5 1276.7,728.8 1277.2,756.8 1277.8,739.9 1278.3,769.2 1278.8,739.6 1279.4,720.6 1279.9,755.8 1280.4,773.4 1281.0,756.2 1281.5,759.4 1282.1,754.5 1282.6,772.0 1283.1,748.1 1283.7,740.2 1284.2,729.9 1284.7,714.6 1285.3,757.9 1285.8,753.3 1286.3,720.3 1286.9,738.4 1287.4,732.4 1287.9,724.2 1288.5,729.4 1289.0,748.0 1289.5,720.9 1290.1,729.5 1290.6,735.1 1291.1,737.7 1291.7,738.3 1292.2,746.8 1292.7,749.9 1293.3,724.3 1293.8,731.5 1294.3,718.1 1294.9,746.4 1295.4,707.0 1296.0,725.7 1296.5,739.0 1297.0,723.0 1297.6,719.0 1298.1,712.5 1298.6,721.6 1299.2,698.3 1299.7,712.4 1300.2,711.1 1300.8,690.8 1301.3,712.4 1301.8,700.2 1302.4,709.4 1302.9,716.7 1303.4,710.3 1304.0,690.5 1304.5,705.1 1305.0,677.2 1305.6,678.9 1306.1,694.8 1306.6,668.5 1307.2,673.9 1307.7,651.7 1308.2,645.9 1308.8,630.5 1309.3,631.6 1309.8,612.7 1310.4,603.5 1310.9,587.1 1311.5,570.6 1312.0,550.3 1312.5,527.3 1313.1,505.3 1313.6,478.6 1314.1,447.7 1314.7,439.6 1315.2,425.2 1315.7,395.4 1316.3,378.6 1316.8,344.6 1317.3,313.3 1317.9,290.7 1318.4,279.0 1318.9,257.2 1319.5,238.0 1320.0,231.6 1320.5,216.6 1321.1,224.8 1321.6,224.1 1322.1,232.3 1322.7,244.6 1323.2,244.3 1323.7,262.1 1324.3,274.1 1324.8,277.3 1325.4,311.6 1325.9,308.5 1326.4,332.0 1327.0,353.8 1327.5,353.9 1328.0,390.0 1328.6,407.5 1329.1,417.1 1329.6,436.4 1330.2,453.8 1330.7,469.4 1331.2,493.7 1331.8,501.0 1332.3,517.2 1332.8,533.1 1333.4,549.2 1333.9,563.4 1334.4,560.4 1335.0,568.0 1335.5,588.7 1336.0,598.9 1336.6,602.6 1337.1,619.5 1337.6,629.4 1338.2,635.4 1338.7,651.3 1339.3,639.5 1339.8,654.1 1340.3,676.0 1340.9,669.5 1341.4,656.4 1341.9,674.4 1342.5,690.6 1343.0,706.2 1343.5,694.1 1344.1,701.7 1344.6,675.1 1345.1,686.1 1345.7,705.6 1346.2,680.1 1346.7,692.6 1347.3,669.2 1347.8,713.9 1348.3,693.5 1348.9,705.4 1349.4,679.7 1349.9,684.8 1350.5,730.8 1351.0,702.6 1351.5,702.5 1352.1,720.4 1352.6,722.5 1353.2,685.3 1353.7,695.7 1354.2,706.4 1354.8,703.9 1355.3,709.7 1355.8,700.8 1356.4,705.0 1356.9,713.5 1357.4,702.5 1358.0,703.6 1358.5,711.4 1359.0,721.5 1359.6,718.3 1360.1,709.2 1360.6,705.3 1361.2,699.8 1361.7,697.3 1362.2,691.1 1362.8,661.2 1363.3,688.1 1363.8,647.4 1364.4,678.9 1364.9,665.8 1365.4,692.0 1366.0,707.1 1366.5,672.5 1367.1,715.2 1367.6,715.2 1368.1,705.7 1368.7,715.3 1369.2,697.8 1369.7,702.4 1370.3,683.7 1370.8,710.4 1371.3,708.4 1371.9,711.1 1372.4,691.9 1372.9,729.4 1373.5,731.8 1374.0,699.7 1374.5,690.4 1375.1,686.7 1375.6,701.2 1376.1,706.7 1376.7,681.9 1377.2,663.6 1377.7,699.2 1378.3,691.9 1378.8,694.6 1379.3,698.2 1379.9,672.2 1380.4,686.4 1381.0,680.4 1381.5,692.7 1382.0,710.5 1382.6,698.6 1383.1,688.6 1383.6,716.8 1384.2,704.0 1384.7,686.1 1385.2,661.3 1385.8,676.4 1386.3,694.1 1386.8,701.7 1387.4,685.5 1387.9,697.6 1388.4,681.1 1389.0,684.8 1389.5,700.2 1390.0,690.2 1390.6,697.1 1391.1,708.1 1391.6,711.2 1392.2,685.1 1392.7,688.7 1393.2,673.1 1393.8,674.3 1394.3,698.6 1394.9,687.4 1395.4,668.1 1395.9,701.1 1396.5,678.1 1397.0,680.6 1397.5,685.7 1398.1,680.6 1398.6,670.0 1399.1,638.9 1399.7,673.6 1400.2,656.5 1400.7,645.8 1401.3,637.0 1401.8,692.0 1402.3,680.6 1402.9,684.7 1403.4,692.8 1403.9,678.9 1404.5,652.0 1405.0,677.3 1405.5,680.1 1406.1,676.3 1406.6,697.4 1407.1,709.0 1407.7,673.9 1408.2,679.8 1408.8,697.6 1409.3,684.9 1409.8,682.4 1410.4,690.2 1410.9,685.9 1411.4,668.9 1412.0,678.1 1412.5,667.9 1413.0,677.5 1413.6,665.3 1414.1,651.7 1414.6,670.1 1415.2,666.5 1415.7,686.5 1416.2,694.6 1416.8,669.6 1417.3,674.2 1417.8,660.2 1418.4,662.3 1418.9,679.4 1419.4,684.8 1420.0,694.4 1420.5,690.5 1421.0,711.7 1421.6,685.1 1422.1,664.6 1422.7,688.4 1423.2,673.7 1423.7,681.8 1424.3,691.3 1424.8,663.3 1425.3,670.6 1425.9,679.7 1426.4,659.7 1426.9,677.3 1427.5,682.1 1428.0,685.2 1428.5,687.3 1429.1,675.7 1429.6,668.4 1430.1,638.7 1430.7,619.2 1431.2,647.0 1431.7,687.5 1432.3,675.4 1432.8,646.6 1433.3,675.9 1433.9,688.2 1434.4,656.7 1434.9,691.6 1435.5,666.3 1436.0,696.2 1436.6,679.2 1437.1,721.1 1437.6,656.8 1438.2,681.5 1438.7,659.5 1439.2,700.5 1439.8,687.6 1440.3,699.3 1440.8,687.9 1441.4,671.7 1441.9,682.9 1442.4,678.3 1443.0,682.7 1443.5,697.5 1444.0,704.5 1444.6,693.5 1445.1,682.2 1445.6,663.4 1446.2,678.4 1446.7,659.4 1447.2,674.7 1447.8,683.1 1448.3,667.4 1448.8,662.9 1449.4,663.5 1449.9,678.8 1450.4,665.8 1451.0,650.3 1451.5,665.5 1452.1,656.5 1452.6,693.2 1453.1,672.0 1453.7,652.9 1454.2,683.1 1454.7,696.6 1455.3,697.6 1455.8,689.4 1456.3,694.8 1456.9,692.1 1457.4,697.4 1457.9,683.8 1458.5,707.8 1459.0,669.9 1459.5,694.7 1460.1,674.8 1460.6,652.0 1461.1,658.6 1461.7,644.6 1462.2,640.3 1462.7,678.7 1463.3,651.3 1463.8,670.2 1464.3,649.2 1464.9,661.4 1465.4,645.1 1466.0,671.4 1466.5,654.6 1467.0,652.2 1467.6,656.9 1468.1,690.0 1468.6,662.6 1469.2,664.2 1469.7,629.6 1470.2,634.1 1470.8,645.4 1471.3,614.5 1471.8,663.0 1472.4,651.8 1472.9,651.5 1473.4,650.3 1474.0,647.3 1474.5,639.0 1475.0,663.9 1475.6,656.1 1476.1,670.2 1476.6,653.7 1477.2,647.0 1477.7,676.2 1478.2,634.5 1478.8,640.6 1479.3,660.0 1479.9,667.6 1480.4,635.4 1480.9,651.4 1481.5,654.4 1482.0,648.5 1482.5,633.5 1483.1,652.0 1483.6,633.4 1484.1,638.5 1484.7,612.2 1485.2,646.5 1485.7,622.4 1486.3,660.2 1486.8,653.6 1487.3,634.7 1487.9,641.6 1488.4,640.1 1488.9,636.4 1489.5,642.3 1490.0,632.4 1490.5,624.0 1491.1,617.5 1491.6,653.4 1492.1,634.2 1492.7,634.3 1493.2,648.6 1493.8,636.1 1494.3,639.2 1494.8,656.2 1495.4,661.5 1495.9,654.9 1496.4,621.4 1497.0,641.4 1497.5,638.6 1498.0,645.1 1498.6,627.6 1499.1,629.1 1499.6,646.9 1500.2,638.6 1500.7,636.6 1501.2,650.0 1501.8,663.4 1502.3,651.4 1502.8,665.1 1503.4,633.6 1503.9,656.1 1504.4,642.8 1505.0,627.2 1505.5,631.3 1506.0,622.9 1506.6,630.2 1507.1,621.0 1507.7,649.9 1508.2,629.7 1508.7,620.7 1509.3,646.1 1509.8,660.8 1510.3,653.2 1510.9,668.0 1511.4,636.5 1511.9,629.7 1512.5,658.4 1513.0,630.7 1513.5,637.1 1514.1,637.3 1514.6,640.1 1515.1,633.2 1515.7,628.6 1516.2,643.8 1516.7,617.0 1517.3,620.8 1517.8,623.0 1518.3,601.5 1518.9,579.1 1519.4,596.1 1519.9,595.5 1520.5,578.6 1521.0,551.3 1521.6,568.5 1522.1,574.4 1522.6,538.7 1523.2,525.7 1523.7,538.9 1524.2,535.0 1524.8,532.7 1525.3,527.1 1525.8,518.2 1526.4,517.9 1526.9,515.6 1527.4,514.5 1528.0,514.3 1528.5,515.2 1529.0,522.1 1529.6,522.9 1530.1,521.0 1530.6,533.1 1531.2,526.3 1531.7,533.1 1532.2,538.9 1532.8,526.6 1533.3,539.8 1533.8,552.0 1534.4,554.2 1534.9,537.9 1535.5,542.8 1536.0,542.1 1536.5,553.3 1537.1,558.6 1537.6,545.4 1538.1,573.1 1538.7,576.1 1539.2,579.7 1539.7,576.0 1540.3,585.2 1540.8,566.0 1541.3,596.0 1541.9,599.0 1542.4,598.4 1542.9,587.0 1543.5,625.0 1544.0,624.7 1544.5,583.7 1545.1,619.2 1545.6,619.6 1546.1,584.5 1546.7,630.8 1547.2,634.2 1547.7,636.8 1548.3,631.0 1548.8,621.5 1549.4,625.1 1549.9,640.9 1550.4,651.8 1551.0,629.6 1551.5,632.6 1552.0,644.4 1552.6,600.4 1553.1,634.1 1553.6,622.5 1554.2,594.9 1554.7,639.5 1555.2,619.0 1555.8,645.9 1556.3,654.5 1556.8,615.1 1557.4,612.0 1557.9,624.5 1558.4,595.5 1559.0,627.9 1559.5,619.6 1560.0,632.8 1560.6,595.8 1561.1,627.3 1561.6,632.5 1562.2,601.2 1562.7,641.1 1563.3,611.5 1563.8,636.5 1564.3,617.3 1564.9,648.7 1565.4,663.8 1565.9,642.9 1566.5,644.0 1567.0,661.0 1567.5,632.6 1568.1,634.9 1568.6,641.8 1569.1,633.7 1569.7,648.8 1570.2,641.5 1570.7,648.2 1571.3,615.9 1571.8,628.5 1572.3,599.8 1572.9,626.1 1573.4,641.9 1573.9,654.7 1574.5,606.8 1575.0,623.4 1575.5,634.9 1576.1,609.8 1576.6,628.5 1577.1,628.3 1577.7,614.8 1578.2,615.8 1578.8,612.3 1579.3,632.7 1579.8,650.2 1580.4,640.3 1580.9,678.9 1581.4,618.2 1582.0,626.8 1582.5,636.9 1583.0,603.3 1583.6,621.2 1584.1,630.4 1584.6,628.3 1585.2,630.9 1585.7,654.3 1586.2,650.0 1586.8,653.6 1587.3,646.8 1587.8,623.6 1588.4,612.4 1588.9,620.2 1589.4,629.2 1590.0,627.7 1590.5,648.1 1591.0,640.4 1591.6,650.6 1592.1,637.5 1592.7,624.4 1593.2,645.5 1593.7,638.5 1594.3,616.8 1594.8,620.9 1595.3,665.6 1595.9,576.2 1596.4,640.6 1596.9,624.3 1597.5,620.4 1598.0,613.5 1598.5,605.1 1599.1,640.6 1599.6,596.1 1600.1,598.6 1600.7,620.2 1601.2,621.9 1601.7,618.7 1602.3,617.3 1602.8,599.0 1603.3,630.4 1603.9,597.1 1604.4,575.8 1604.9,625.1 1605.5,621.5 1606.0,618.8 1606.6,611.5 1607.1,641.7 1607.6,612.5 1608.2,597.4 1608.7,629.4 1609.2,633.4 1609.8,623.1 1610.3,636.8 1610.8,614.9 1611.4,601.4 1611.9,608.7 1612.4,633.1 1613.0,626.0 1613.5,627.3 1614.0,601.9 1614.6,619.2 1615.1,601.4 1615.6,622.0 1616.2,621.3 1616.7,632.7 1617.2,652.7 1617.8,628.5 1618.3,654.7 1618.8,616.7 1619.4,632.4 1619.9,641.0 1620.5,654.7 1621.0,611.6 1621.5,626.2 1622.1,633.9 1622.6,631.5 1623.1,618.9 1623.7,607.3 1624.2,610.6 1624.7,625.3 1625.3,606.6 1625.8,653.0 1626.3,646.8 1626.9,603.2 1627.4,626.0 1627.9,654.0 1628.5,655.8 1629.0,649.1 1629.5,608.2 1630.1,619.4 1630.6,640.2 1631.1,622.5 1631.7,616.8 1632.2,634.6 1632.7,644.7 1633.3,633.5 1633.8,634.9 1634.4,646.4 1634.9,622.0 1635.4,616.7 1636.0,641.1 1636.5,612.1 1637.0,636.6 1637.6,618.4 1638.1,640.6 1638.6,608.8 1639.2,639.1 1639.7,622.3 1640.2,610.4 1640.8,600.6 1641.3,610.6 1641.8,599.7 1642.4,596.6 1642.9,630.7 1643.4,623.3 1644.0,630.4 1644.5,589.7 1645.0,578.9 1645.6,583.4 1646.1,616.1 1646.6,618.6 1647.2,580.9 1647.7,625.2 1648.3,606.2 1648.8,596.2 1649.3,612.1 1649.9,620.9 1650.4,610.0 1650.9,613.4 1651.5,607.2 1652.0,601.0 1652.5,615.8 1653.1,594.4 1653.6,622.8 1654.1,597.8 1654.7,628.0 1655.2,587.1 1655.7,635.5 1656.3,608.3 1656.8,615.1 1657.3,638.5 1657.9,650.9 1658.4,637.3 1658.9,630.8 1659.5,663.6 1660.0,641.6 1660.5,616.6 1661.1,628.6 1661.6,653.1 1662.2,628.4 1662.7,633.0 1663.2,650.2 1663.8,611.6 1664.3,624.6 1664.8,606.9 1665.4,614.0 1665.9,620.5 1666.4,593.8 1667.0,619.0 1667.5,623.6 1668.0,639.7 1668.6,613.8 1669.1,598.2 1669.6,616.2 1670.2,588.4 1670.7,603.6 1671.2,606.0 1671.8,582.7 1672.3,593.5 1672.8,581.5 1673.4,557.3 1673.9,579.9 1674.4,572.5 1675.0,604.7 1675.5,588.9 1676.1,601.3 1676.6,601.2 1677.1,617.9 1677.7,600.0 1678.2,602.8 1678.7,617.7 1679.3,632.3 1679.8,604.2 1680.3,608.3 1680.9,600.8 1681.4,595.4 1681.9,585.3 1682.5,608.3 1683.0,606.0 1683.5,606.6 1684.1,640.2 1684.6,607.7 1685.1,620.0 1685.7,613.3 1686.2,638.8 1686.7,618.5 1687.3,648.7 1687.8,613.5 1688.3,624.0 1688.9,623.5 1689.4,601.5 1690.0,613.7 1690.5,598.0 1691.0,583.7 1691.6,585.7 1692.1,603.5 1692.6,628.2 1693.2,597.0 1693.7,613.2 1694.2,593.0 1694.8,607.1 1695.3,583.0 1695.8,591.5 1696.4,606.2 1696.9,598.5 1697.4,606.4 1698.0,623.4 1698.5,603.7 1699.0,591.9 1699.6,582.0 1700.1,591.4 1700.6,617.5 1701.2,603.5 1701.7,608.5 1702.2,626.9 1702.8,633.0 1703.3,638.5 1703.9,620.6 1704.4,612.8 1704.9,599.7 1705.5,610.4 1706.0,612.0 1706.5,627.6 1707.1,622.5 1707.6,609.0 1708.1,626.3 1708.7,588.6 1709.2,587.1 1709.7,585.8 1710.3,592.8 1710.8,612.9 1711.3,610.4 1711.9,613.8 1712.4,642.9 1712.9,598.0 1713.5,601.6 1714.0,613.4 1714.5,626.2 1715.1,630.2 1715.6,621.2 1716.1,619.7 1716.7,619.9 1717.2,633.4 1717.7,608.4 1718.3,588.2 1718.8,627.0 1719.4,608.6 1719.9,625.9 1720.4,646.6 1721.0,624.8 1721.5,645.3 1722.0,588.0 1722.6,607.6 1723.1,603.6 1723.6,606.5 1724.2,584.2 1724.7,602.0 1725.2,608.5 1725.8,614.8 1726.3,596.9 1726.8,591.3 1727.4,621.4 1727.9,615.1 1728.4,608.8 1729.0,617.9 1729.5,626.9 1730.0,598.4 1730.6,632.4 1731.1,646.5 1731.6,639.8 1732.2,629.5 1732.7,624.9 1733.3,586.8 1733.8,596.0 1734.3,615.8 1734.9,621.5 1735.4,606.8 1735.9,594.6 1736.5,601.1 1737.0,616.8 1737.5,634.1 1738.1,615.6 1738.6,596.7 1739.1,615.5 1739.7,616.5 1740.2,651.1 1740.7,631.3 1741.3,628.8 1741.8,629.8 1742.3,611.4 1742.9,609.4 1743.4,611.9 1743.9,601.3 1744.5,611.9 1745.0,609.0 1745.5,622.6 1746.1,634.4 1746.6,618.1 1747.2,615.6 1747.7,592.3 1748.2,625.5 1748.8,629.0 1749.3,605.6 1749.8,606.8 1750.4,596.2 1750.9,615.7 1751.4,604.4 1752.0,611.3 1752.5,577.1 1753.0,638.7 1753.6,594.2 1754.1,599.3 1754.6,622.0 1755.2,610.9 1755.7,641.2 1756.2,603.3 1756.8,596.9 1757.3,622.0 1757.8,627.0 1758.4,596.8 1758.9,601.2 1759.4,602.8 1760.0,606.8 1760.5,635.1 1761.1,626.9 1761.6,619.3 1762.1,615.7 1762.7,592.0 1763.2,603.6 1763.7,593.2 1764.3,588.9 1764.8,629.3 1765.3,581.3 1765.9,608.2 1766.4,601.5 1766.9,589.2 1767.5,612.0 1768.0,621.2 1768.5,627.8 1769.1,609.3 1769.6,633.4 1770.1,628.2 1770.7,637.0 1771.2,598.1 1771.7,621.2 1772.3,620.0 1772.8,637.3 1773.3,615.4 1773.9,614.0 1774.4,599.3 1775.0,593.5 1775.5,593.1 1776.0,617.6 1776.6,585.9 1777.1,565.7 1777.6,607.4 1778.2,598.8 1778.7,615.9 1779.2,617.0 1779.8,604.8 1780.3,602.3 1780.8,598.8 1781.4,605.2 1781.9,592.4 1782.4,605.6 1783.0,623.1 1783.5,595.1 1784.0,599.3 1784.6,602.3 1785.1,621.2 1785.6,619.9 1786.2,628.7 1786.7,616.4 1787.2,607.3 1787.8,612.6 1788.3,587.8 1788.9,617.2 1789.4,613.5 1789.9,642.4 1790.5,631.7 1791.0,598.4 1791.5,601.8 1792.1,622.3 1792.6,575.9 1793.1,586.3 1793.7,597.0 1794.2,593.4 1794.7,580.9 1795.3,591.9 1795.8,570.7 1796.3,579.7 1796.9,581.5 1797.4,573.9 1797.9,592.7 1798.5,582.1 1799.0,586.0 1799.5,544.4 1800.1,577.7 1800.6,567.7 1801.1,565.6 1801.7,570.5 1802.2,557.9 1802.8,565.1 1803.3,559.1 1803.8,547.5 1804.4,543.8 1804.9,535.4 1805.4,530.6 1806.0,515.9 1806.5,523.4 1807.0,538.8 1807.6,537.1 1808.1,529.5 1808.6,540.4 1809.2,553.8 1809.7,544.1 1810.2,562.5 1810.8,537.9 1811.3,553.0 1811.8,552.2 1812.4,547.5 1812.9,550.1 1813.4,553.7 1814.0,522.0 1814.5,554.0 1815.0,563.5 1815.6,557.4 1816.1,570.8 1816.7,547.0 1817.2,567.3 1817.7,578.6 1818.3,576.2 1818.8,600.1 1819.3,593.0 1819.9,578.4 1820.4,593.6 1820.9,589.3 1821.5,568.4 1822.0,584.4 1822.5,583.4 1823.1,586.3 1823.6,565.5 1824.1,605.4 1824.7,600.5 1825.2,597.4 1825.7,611.2 1826.3,618.3 1826.8,611.8 1827.3,604.8 1827.9,607.6 1828.4,589.6 1828.9,586.7 1829.5,576.8 1830.0,592.3 1830.6,612.6 1831.1,598.7 1831.6,591.4 1832.2,582.3 1832.7,581.1 1833.2,569.7 1833.8,621.8 1834.3,591.5 1834.8,582.5 1835.4,610.0 1835.9,605.3 1836.4,590.9 1837.0,575.1 1837.5,576.1 1838.0,618.7 1838.6,592.0 1839.1,580.7 1839.6,614.2 1840.2,577.0 1840.7,572.5 1841.2,597.8 1841.8,600.3 1842.3,622.8 1842.8,580.8 1843.4,610.1 1843.9,581.7 1844.4,613.3 1845.0,596.7 1845.5,600.5 1846.1,599.2 1846.6,626.6 1847.1,642.5 1847.7,620.0 1848.2,617.3 1848.7,611.0 1849.3,623.0 1849.8,598.3 1850.3,665.3 1850.9,609.9 1851.4,638.0 1851.9,613.6 1852.5,589.6 1853.0,585.5 1853.5,601.5 1854.1,596.8 1854.6,603.6 1855.1,590.4 1855.7,642.6 1856.2,641.3 1856.7,586.8 1857.3,624.4 1857.8,637.2 1858.3,613.3 1858.9,610.2 1859.4,624.1 1860.0,612.7 1860.5,586.6 1861.0,623.9 1861.6,599.7 1862.1,634.4 1862.6,592.4 1863.2,572.0 1863.7,606.2 1864.2,621.3 1864.8,609.6 1865.3,603.4 1865.8,587.0 1866.4,614.1 1866.9,573.8 1867.4,614.1 1868.0,585.7 1868.5,595.5 1869.0,584.9 1869.6,590.8 1870.1,627.1 1870.6,589.6 1871.2,612.0 1871.7,597.6 1872.2,622.3 1872.8,582.9 1873.3,599.0 1873.9,608.9 1874.4,626.2 1874.9,573.2 1875.5,578.0 1876.0,592.6 1876.5,619.0 1877.1,584.8 1877.6,613.5 1878.1,591.5 1878.7,584.0 1879.2,574.9 1879.7,600.8 1880.3,614.1 1880.8,597.3 1881.3,563.8 1881.9,581.2 1882.4,598.0 1882.9,593.0 1883.5,584.4 1884.0,605.7 1884.5,569.0 1885.1,571.9 1885.6,625.4 1886.1,597.5 1886.7,582.0 1887.2,575.3 1887.8,540.5 1888.3,586.7 1888.8,538.8 1889.4,537.7 1889.9,565.6 1890.4,587.3 1891.0,557.2 1891.5,563.2 1892.0,546.1 1892.6,550.3 1893.1,517.8 1893.6,557.7 1894.2,518.7 1894.7,534.8 1895.2,508.1 1895.8,543.2 1896.3,525.7 1896.8,530.4 1897.4,501.9 1897.9,504.6 1898.4,488.9 1899.0,481.8 1899.5,482.6 1900.0,463.1 1900.6,467.6 1901.1,469.9 1901.7,464.3 1902.2,456.8 1902.7,450.7 1903.3,442.4 1903.8,456.7 1904.3,443.4 1904.9,454.2 1905.4,445.3 1905.9,448.8 1906.5,450.7 1907.0,457.0 1907.5,454.4 1908.1,463.0 1908.6,465.0 1909.1,478.3 1909.7,483.9 1910.2,491.2 1910.7,489.2 1911.3,501.4 1911.8,505.0 1912.3,514.0 1912.9,515.2 1913.4,512.1 1913.9,531.6 1914.5,525.5 1915.0,539.1 1915.6,519.0 1916.1,546.9 1916.6,551.7 1917.2,538.5 1917.7,560.6 1918.2,552.3 1918.8,573.6 1919.3,561.9 1919.8,534.3 1920.4,548.6 1920.9,531.8 1921.4,558.0 1922.0,575.3 1922.5,581.7 1923.0,567.9 1923.6,565.1 1924.1,571.3 1924.6,561.0 1925.2,576.5 1925.7,589.3 1926.2,575.0 1926.8,583.2 1927.3,556.7 1927.8,561.0 1928.4,576.7 1928.9,607.9 1929.5,599.7 1930.0,615.7 1930.5,593.8 1931.1,611.4 1931.6,565.3 1932.1,596.3 1932.7,557.4 1933.2,609.2 1933.7,600.5 1934.3,612.3 1934.8,602.0 1935.3,590.8 1935.9,591.2 1936.4,609.9 1936.9,632.9 1937.5,620.6 1938.0,601.0 1938.5,596.2 1939.1,589.1 1939.6,592.5 1940.1,592.3 1940.7,586.0 1941.2,593.1 1941.7,568.2 1942.3,612.6 1942.8,590.2 1943.4,607.4 1943.9,588.9 1944.4,583.7 1945.0,591.0 1945.5,595.3 1946.0,581.4 1946.6,581.8 1947.1,611.5 1947.6,594.9 1948.2,574.5 1948.7,594.1 1949.2,578.9 1949.8,617.5 1950.3,586.5 1950.8,620.0 1951.4,612.3 1951.9,616.8 1952.4,605.9 1953.0,611.6 1953.5,597.9 1954.0,589.1 1954.6,603.0 1955.1,629.9 1955.6,584.9 1956.2,602.8 1956.7,586.1 1957.3,575.5 1957.8,607.6 1958.3,598.9 1958.9,607.5 1959.4,593.4 1959.9,596.5 1960.5,586.4 1961.0,598.9 1961.5,631.1 1962.1,573.4 1962.6,612.2 1963.1,625.3 1963.7,610.9 1964.2,608.1 1964.7,589.0 1965.3,609.5 1965.8,609.8 1966.3,590.3 1966.9,612.5 1967.4,576.9 1967.9,546.2 1968.5,585.2 1969.0,588.8 1969.5,583.8 1970.1,594.3 1970.6,595.7 1971.2,578.2 1971.7,626.2 1972.2,611.3 1972.8,652.8 1973.3,610.7 1973.8,612.0 1974.4,577.9 1974.9,610.8 1975.4,576.8 1976.0,600.8 1976.5,608.7 1977.0,609.8 1977.6,589.5 1978.1,592.0 1978.6,615.7 1979.2,621.8 1979.7,625.1 1980.2,602.1 1980.8,599.3 1981.3,625.3 1981.8,587.6 1982.4,605.3 1982.9,586.7 1983.4,567.3 1984.0,569.6 1984.5,592.5 1985.0,590.9 1985.6,599.0 1986.1,592.5 1986.7,597.4 1987.2,615.7 1987.7,612.5 1988.3,591.5 1988.8,606.8 1989.3,637.0 1989.9,601.4 1990.4,623.2 1990.9,615.9 1991.5,627.9 1992.0,601.7 1992.5,591.4 1993.1,611.4 1993.6,588.3 1994.1,593.1 1994.7,586.3 1995.2,605.2 1995.7,595.9 1996.3,594.5 1996.8,576.8 1997.3,565.9 1997.9,575.4 1998.4,600.0 1998.9,598.1 1999.5,597.1 2000.0,585.0 2000.6,580.5 2001.1,618.1 2001.6,607.1 2002.2,612.3 2002.7,588.6 2003.2,589.9 2003.8,606.6 2004.3,604.0 2004.8,573.6 2005.4,588.4 2005.9,564.8 2006.4,600.7 2007.0,595.1 2007.5,622.3 2008.0,614.1 2008.6,584.4 2009.1,598.9 2009.6,591.4 2010.2,604.5 2010.7,619.4 2011.2,612.8 2011.8,615.8 2012.3,592.4 2012.8,613.6 2013.4,595.9 2013.9,597.7 2014.5,599.7 2015.0,585.2 2015.5,599.0 2016.1,585.6 2016.6,614.5 2017.1,605.6 2017.7,600.8 2018.2,607.7 2018.7,590.2 2019.3,601.2 2019.8,604.1 2020.3,609.1 2020.9,603.9 2021.4,591.6 2021.9,596.0 2022.5,566.8 2023.0,599.6 2023.5,606.5 2024.1,610.8 2024.6,616.5 2025.1,597.4 2025.7,595.5 2026.2,584.3 2026.7,580.1 2027.3,587.8 2027.8,605.9 2028.4,560.0 2028.9,573.7 2029.4,580.0 2030.0,557.0 2030.5,574.9 2031.0,546.5 2031.6,559.2 2032.1,537.9 2032.6,565.0 2033.2,550.7 2033.7,575.5 2034.2,566.8 2034.8,561.5 2035.3,571.2 2035.8,577.8 2036.4,571.7 2036.9,561.5 2037.4,552.0 2038.0,548.5 2038.5,551.6 2039.0,530.6 2039.6,536.3 2040.1,513.3 2040.6,527.4 2041.2,515.0 2041.7,502.1 2042.3,494.7 2042.8,478.4 2043.3,480.1 2043.9,469.3 2044.4,453.4 2044.9,449.5 2045.5,445.7 2046.0,433.7 2046.5,424.6 2047.1,410.1 2047.6,408.1 2048.1,392.2 2048.7,386.3 2049.2,383.8 2049.7,350.0 2050.3,351.4 2050.8,349.2 2051.3,342.0 2051.9,351.6 2052.4,344.3 2052.9,357.8 2053.5,355.1 2054.0,356.6 2054.5,358.2 2055.1,368.0 2055.6,370.8 2056.2,381.6 2056.7,380.9 2057.2,390.5 2057.8,393.4 2058.3,400.0 2058.8,396.0 2059.4,412.2 2059.9,421.4 2060.4,419.8 2061.0,426.7 2061.5,442.4 2062.0,456.4 2062.6,455.7 2063.1,477.6 2063.6,489.7 2064.2,488.9 2064.7,496.6 2065.2,502.3 2065.8,499.5 2066.3,511.4 2066.8,513.9 2067.4,504.9 2067.9,525.3 2068.4,535.5 2069.0,521.9 2069.5,542.7 2070.1,531.3 2070.6,521.5 2071.1,530.6 2071.7,540.6 2072.2,565.5 2072.7,558.6 2073.3,563.1 2073.8,553.7 2074.3,570.5 2074.9,551.0 2075.4,555.0 2075.9,570.0 2076.5,570.9 2077.0,557.0 2077.5,568.4 2078.1,581.1 2078.6,576.5 2079.1,597.6 2079.7,603.5 2080.2,586.3 2080.7,571.7 2081.3,587.0 2081.8,607.2 2082.3,603.2 2082.9,605.2 2083.4,605.2 2084.0,579.3 2084.5,584.7 2085.0,589.6 2085.6,573.9 2086.1,583.7 2086.6,560.2 2087.2,561.9 2087.7,613.8 2088.2,599.9 2088.8,601.7 2089.3,618.8 2089.8,635.9 2090.4,652.5 2090.9,581.7 2091.4,626.5 2092.0,637.2 2092.5,593.4 2093.0,593.9 2093.6,615.6 2094.1,642.9 2094.6,625.2 2095.2,639.5 2095.7,610.3 2096.2,621.7 2096.8,629.0 2097.3,613.3 2097.9,604.2 2098.4,602.6 2098.9,542.4 2099.5,597.9 2100.0,564.1 2100.5,580.6 2101.1,607.3 2101.6,608.9 2102.1,579.1 2102.7,619.2 2103.2,623.3 2103.7,615.1 2104.3,622.9 2104.8,622.3 2105.3,589.7 2105.9,612.3 2106.4,612.2 2106.9,600.9 2107.5,620.6 2108.0,610.9 2108.5,621.6 2109.1,607.2 2109.6,628.8 2110.1,635.6 2110.7,583.1 2111.2,583.8 2111.7,581.9 2112.3,591.6 2112.8,589.7 2113.4,566.5 2113.9,609.8 2114.4,605.2 2115.0,590.8 2115.5,601.1 2116.0,594.1 2116.6,604.3 2117.1,596.9 2117.6,597.4 2118.2,600.0 2118.7,596.3 2119.2,587.4 2119.8,602.3 2120.3,590.8 2120.8,580.9 2121.4,623.7 2121.9,606.6 2122.4,634.5 2123.0,601.4 2123.5,629.0 2124.0,648.0 2124.6,643.1 2125.1,627.7 2125.6,618.7 2126.2,617.5 2126.7,621.5 2127.3,608.3 2127.8,611.4 2128.3,608.1 2128.9,607.7 2129.4,623.9 2129.9,590.3 2130.5,613.3 2131.0,616.0 2131.5,589.5 2132.1,590.8 2132.6,608.0 2133.1,611.4 2133.7,629.6 2134.2,587.9 2134.7,616.1 2135.3,637.2 2135.8,617.8 2136.3,643.2 2136.9,648.9 2137.4,606.1 2137.9,631.6 2138.5,611.4 2139.0,597.8 2139.5,589.0 2140.1,586.9 2140.6,576.2 2141.2,589.0 2141.7,609.2 2142.2,619.9 2142.8,603.3 2143.3,624.2 2143.8,627.7 2144.4,585.7 2144.9,627.6 2145.4,595.3 2146.0,595.2 2146.5,625.1 2147.0,638.1"/>
<polyline fill="none" stroke="#00f" stroke-width="2.2" stroke-linejoin="round" points="501.0,582.0 501.5,599.5 502.1,616.7 502.6,632.1 503.1,647.0 503.7,661.5 504.2,672.2 504.7,687.5 505.3,697.4 505.8,719.8 506.3,721.7 506.9,730.2 507.4,741.1 507.9,749.6 508.5,757.5 509.0,771.8 509.6,789.1 510.1,795.7 510.6,814.6 511.2,812.4 511.7,819.4 512.2,838.9 512.8,834.6 513.3,829.9 513.8,842.4 514.4,863.2 514.9,896.2 515.4,880.3 516.0,890.1 516.5,911.1 517.0,887.0 517.6,896.4 518.1,916.2 518.6,918.3 519.2,917.7 519.7,929.2 520.2,884.9 520.8,936.2 521.3,910.9 521.8,903.7 522.4,933.0 522.9,943.6 523.5,933.7 524.0,929.9 524.5,947.5 525.1,948.2 525.6,967.1 526.1,957.2 526.7,948.6 527.2,960.1 527.7,944.5 528.3,938.8 528.8,963.1 529.3,968.0 529.9,962.3 530.4,959.7 530.9,977.5 531.5,946.3 532.0,989.1 532.5,986.2 533.1,957.1 533.6,977.5 534.1,964.1 534.7,987.6 535.2,953.8 535.7,969.4 536.3,990.1 536.8,995.3 537.4,953.4 537.9,976.6 538.4,990.4 539.0,982.1 539.5,1013.8 540.0,982.1 540.6,1005.8 541.1,991.7 541.6,1025.1 542.2,1007.0 542.7,1001.3 543.2,983.4 543.8,1026.6 544.3,1014.4 544.8,1012.3 545.4,1014.3 545.9,1003.3 546.4,993.5 547.0,997.9 547.5,1006.1 548.0,1041.4 548.6,1012.1 549.1,1027.3 549.6,1033.1 550.2,1041.0 550.7,1046.3 551.3,1025.3 551.8,1022.5 552.3,1047.8 552.9,1065.7 553.4,1061.5 553.9,1055.7 554.5,1049.9 555.0,1057.8 555.5,1050.2 556.1,1062.0 556.6,1041.8 557.1,1055.4 557.7,1055.7 558.2,1066.5 558.7,1063.4 559.3,1091.9 559.8,1079.2 560.3,1081.3 560.9,1040.2 561.4,1063.0 561.9,1060.3 562.5,1074.9 563.0,1041.9 563.5,1087.3 564.1,1089.4 564.6,1063.0 565.2,1068.8 565.7,1071.9 566.2,1082.5 566.8,1088.9 567.3,1103.7 567.8,1072.4 568.4,1080.1 568.9,1070.0 569.4,1089.8 570.0,1080.9 570.5,1094.3 571.0,1070.9 571.6,1086.9 572.1,1082.7 572.6,1112.5 573.2,1102.9 573.7,1092.0 574.2,1092.0 574.8,1105.9 575.3,1093.5 575.8,1091.7 576.4,1109.0 576.9,1133.7 577.4,1103.0 578.0,1102.6 578.5,1098.0 579.1,1096.8 579.6,1118.3 580.1,1120.9 580.7,1110.6 581.2,1115.8 581.7,1115.3 582.3,1117.9 582.8,1099.7 583.3,1113.5 583.9,1120.6 584.4,1110.5 584.9,1116.4 585.5,1116.5 586.0,1127.6 586.5,1146.3 587.1,1134.2 587.6,1139.1 588.1,1152.3 588.7,1151.9 589.2,1165.6 589.7,1120.9 590.3,1155.4 590.8,1137.7 591.3,1142.7 591.9,1149.4 592.4,1152.6 593.0,1154.8 593.5,1147.9 594.0,1167.6 594.6,1145.4 595.1,1145.7 595.6,1155.7 596.2,1140.9 596.7,1177.9 597.2,1172.3 597.8,1194.2 598.3,1173.7 598.8,1171.1 599.4,1176.0 599.9,1179.9 600.4,1162.0 601.0,1172.6 601.5,1169.0 602.0,1191.4 602.6,1169.6 603.1,1194.5 603.6,1176.7 604.2,1171.2 604.7,1170.1 605.2,1160.3 605.8,1172.8 606.3,1180.4 606.9,1167.6 607.4,1171.4 607.9,1183.6 608.5,1169.7 609.0,1171.4 609.5,1168.1 610.1,1154.3 610.6,1183.7 611.1,1155.9 611.7,1185.9 612.2,1180.7 612.7,1197.9 613.3,1188.5 613.8,1183.8 614.3,1200.6 614.9,1191.4 615.4,1195.7 615.9,1196.1 616.5,1189.9 617.0,1184.1 617.5,1171.8 618.1,1175.4 618.6,1149.9 619.1,1171.1 619.7,1158.2 620.2,1186.2 620.8,1190.9 621.3,1158.4 621.8,1188.5 622.4,1190.7 622.9,1183.3 623.4,1201.4 624.0,1185.6 624.5,1163.6 625.0,1174.2 625.6,1170.6 626.1,1170.7 626.6,1155.0 627.2,1179.5 627.7,1187.5 628.2,1174.0 628.8,1186.4 629.3,1195.1 629.8,1186.8 630.4,1208.9 630.9,1188.0 631.4,1174.0 632.0,1179.6 632.5,1192.3 633.0,1223.8 633.6,1198.9 634.1,1205.2 634.7,1211.4 635.2,1205.8 635.7,1232.6 636.3,1199.2 636.8,1212.2 637.3,1203.1 637.9,1206.5 638.4,1185.0 638.9,1219.2 639.5,1197.9 640.0,1199.7 640.5,1188.3 641.1,1191.4 641.6,1208.7 642.1,1217.6 642.7,1219.5 643.2,1229.0 643.7,1226.3 644.3,1219.5 644.8,1228.6 645.3,1225.0 645.9,1216.4 646.4,1225.3 646.9,1231.1 647.5,1218.0 648.0,1209.6 648.5,1219.9 649.1,1232.3 649.6,1208.6 650.2,1211.8 650.7,1213.4 651.2,1230.2 651.8,1194.9 652.3,1218.6 652.8,1225.4 653.4,1199.2 653.9,1223.5 654.4,1212.3 655.0,1201.6 655.5,1212.9 656.0,1195.4 656.6,1208.3 657.1,1237.1 657.6,1207.1 658.2,1239.7 658.7,1218.0 659.2,1229.1 659.8,1215.9 660.3,1187.9 660.8,1207.6 661.4,1218.9 661.9,1206.8 662.4,1207.4 663.0,1228.9 663.5,1217.3 664.1,1203.1 664.6,1210.8 665.1,1224.7 665.7,1207.2 666.2,1222.4 666.7,1227.9 667.3,1208.3 667.8,1192.1 668.3,1188.3 668.9,1202.9 669.4,1214.5 669.9,1209.5 670.5,1215.1 671.0,1205.6 671.5,1213.8 672.1,1201.9 672.6,1199.1 673.1,1184.4 673.7,1180.0 674.2,1194.0 674.7,1190.2 675.3,1195.9 675.8,1217.3 676.3,1209.2 676.9,1243.3 677.4,1219.5 678.0,1200.4 678.5,1215.2 679.0,1209.8 679.6,1199.4 680.1,1224.0 680.6,1207.4 681.2,1184.3 681.7,1227.9 682.2,1207.6 682.8,1225.9 683.3,1196.6 683.8,1188.8 684.4,1222.4 684.9,1196.5 685.4,1214.2 686.0,1228.3 686.5,1210.6 687.0,1205.9 687.6,1206.8 688.1,1215.6 688.6,1197.9 689.2,1215.4 689.7,1215.6 690.2,1235.4 690.8,1204.1 691.3,1197.6 691.9,1217.9 692.4,1207.1 692.9,1216.9 693.5,1215.7 694.0,1226.5 694.5,1203.4 695.1,1207.8 695.6,1178.9 696.1,1198.8 696.7,1228.2 697.2,1203.6 697.7,1203.6 698.3,1197.9 698.8,1219.7 699.3,1216.4 699.9,1201.3 700.4,1222.3 700.9,1217.0 701.5,1221.9 702.0,1204.1 702.5,1227.8 703.1,1207.6 703.6,1197.8 704.1,1192.5 704.7,1197.8 705.2,1213.5 705.8,1202.9 706.3,1219.7 706.8,1214.7 707.4,1224.4 707.9,1219.5 708.4,1211.3 709.0,1191.8 709.5,1217.6 710.0,1221.4 710.6,1210.5 711.1,1211.7 711.6,1199.2 712.2,1202.9 712.7,1200.5 713.2,1229.6 713.8,1215.2 714.3,1205.3 714.8,1194.0 715.4,1208.0 715.9,1228.1 716.4,1218.4 717.0,1205.2 717.5,1229.4 718.0,1228.2 718.6,1221.2 719.1,1216.8 719.7,1219.2 720.2,1211.1 720.7,1213.1 721.3,1193.8 721.8,1217.9 722.3,1202.1 722.9,1224.0 723.4,1180.9 723.9,1217.4 724.5,1224.6 725.0,1211.6 725.5,1221.3 726.1,1224.4 726.6,1222.0 727.1,1208.7 727.7,1212.8 728.2,1225.7 728.7,1228.1 729.3,1213.6 729.8,1212.1 730.3,1212.8 730.9,1222.9 731.4,1200.2 731.9,1197.6 732.5,1212.6 733.0,1194.9 733.6,1197.1 734.1,1202.2 734.6,1205.3 735.2,1186.8 735.7,1208.0 736.2,1177.6 736.8,1202.9 737.3,1176.0 737.8,1176.7 738.4,1196.9 738.9,1184.8 739.4,1182.4 740.0,1189.5 740.5,1203.5 741.0,1201.1 741.6,1204.9 742.1,1220.3 742.6,1201.6 743.2,1204.7 743.7,1203.2 744.2,1221.2 744.8,1218.0 745.3,1221.5 745.8,1207.8 746.4,1208.6 746.9,1222.0 747.5,1208.3 748.0,1221.4 748.5,1217.0 749.1,1196.2 749.6,1199.5 750.1,1197.9 750.7,1220.5 751.2,1232.1 751.7,1200.9 752.3,1200.0 752.8,1171.1 753.3,1199.8 753.9,1199.8 754.4,1190.9 754.9,1215.1 755.5,1190.0 756.0,1207.6 756.5,1213.5 757.1,1197.7 757.6,1219.8 758.1,1218.6 758.7,1187.6 759.2,1186.0 759.7,1208.1 760.3,1198.2 760.8,1180.4 761.4,1186.3 761.9,1185.0 762.4,1183.8 763.0,1197.3 763.5,1196.0 764.0,1214.9 764.6,1210.3 765.1,1199.5 765.6,1201.4 766.2,1204.4 766.7,1201.2 767.2,1184.2 767.8,1212.0 768.3,1203.3 768.8,1219.6 769.4,1200.2 769.9,1204.1 770.4,1201.1 771.0,1216.3 771.5,1198.4 772.0,1192.3 772.6,1198.0 773.1,1188.3 773.6,1194.6 774.2,1191.9 774.7,1194.5 775.2,1213.6 775.8,1187.6 776.3,1194.6 776.9,1194.0 777.4,1205.6 777.9,1184.5 778.5,1190.0 779.0,1198.1 779.5,1206.8 780.1,1202.1 780.6,1197.6 781.1,1191.3 781.7,1202.7 782.2,1207.9 782.7,1190.3 783.3,1186.8 783.8,1190.6 784.3,1177.2 784.9,1188.5 785.4,1193.5 785.9,1204.1 786.5,1202.6 787.0,1188.2 787.5,1212.3 788.1,1215.3 788.6,1190.4 789.1,1197.5 789.7,1195.4 790.2,1199.1 790.8,1169.0 791.3,1201.3 791.8,1175.3 792.4,1195.8 792.9,1184.4 793.4,1181.9 794.0,1186.6 794.5,1198.5 795.0,1176.8 795.6,1181.8 796.1,1181.2 796.6,1167.9 797.2,1202.7 797.7,1192.2 798.2,1182.3 798.8,1193.8 799.3,1167.5 799.8,1175.8 800.4,1194.6 800.9,1185.1 801.4,1149.3 802.0,1140.0 802.5,1170.5 803.0,1197.6 803.6,1180.4 804.1,1182.6 804.7,1191.2 805.2,1173.6 805.7,1187.0 806.3,1194.1 806.8,1189.2 807.3,1185.8 807.9,1170.8 808.4,1180.6 808.9,1167.6 809.5,1186.7 810.0,1200.9 810.5,1162.3 811.1,1146.9 811.6,1169.7 812.1,1180.8 812.7,1188.1 813.2,1186.0 813.7,1161.7 814.3,1160.2 814.8,1183.8 815.3,1155.7 815.9,1180.6 816.4,1166.1 816.9,1181.2 817.5,1185.5 818.0,1191.0 818.6,1194.3 819.1,1174.2 819.6,1188.9 820.2,1184.3 820.7,1185.6 821.2,1193.7 821.8,1173.5 822.3,1166.8 822.8,1166.1 823.4,1171.2 823.9,1184.7 824.4,1168.2 825.0,1193.0 825.5,1183.6 826.0,1177.3 826.6,1164.4 827.1,1184.0 827.6,1190.8 828.2,1162.5 828.7,1195.8 829.2,1198.2 829.8,1179.7 830.3,1178.9 830.8,1199.4 831.4,1183.9 831.9,1157.2 832.5,1165.3 833.0,1160.9 833.5,1158.1 834.1,1129.8 834.6,1165.2 835.1,1149.2 835.7,1160.4 836.2,1159.4 836.7,1173.6 837.3,1161.6 837.8,1156.5 838.3,1171.9 838.9,1180.7 839.4,1158.4 839.9,1177.0 840.5,1164.4 841.0,1157.0 841.5,1182.2 842.1,1152.7 842.6,1169.4 843.1,1146.0 843.7,1153.4 844.2,1132.9 844.7,1139.9 845.3,1166.6 845.8,1161.2 846.4,1163.8 846.9,1161.0 847.4,1173.0 848.0,1152.5 848.5,1157.4 849.0,1170.9 849.6,1164.2 850.1,1164.4 850.6,1167.8 851.2,1162.4 851.7,1158.7 852.2,1181.0 852.8,1174.9 853.3,1178.8 853.8,1163.4 854.4,1155.1 854.9,1139.2 855.4,1146.5 856.0,1120.7 856.5,1135.2 857.0,1150.2 857.6,1160.5 858.1,1152.6 858.6,1129.9 859.2,1144.4 859.7,1128.2 860.3,1146.5 860.8,1135.0 861.3,1147.0 861.9,1169.8 862.4,1155.1 862.9,1177.5 863.5,1157.0 864.0,1154.5 864.5,1176.7 865.1,1183.2 865.6,1157.1 866.1,1163.7 866.7,1143.7 867.2,1155.7 867.7,1166.4 868.3,1153.2 868.8,1146.0 869.3,1134.7 869.9,1154.5 870.4,1159.3 870.9,1158.0 871.5,1155.5 872.0,1138.0 872.5,1172.6 873.1,1148.2 873.6,1144.0 874.2,1152.7 874.7,1119.2 875.2,1147.5 875.8,1151.5 876.3,1162.0 876.8,1176.1 877.4,1166.0 877.9,1136.9 878.4,1151.9 879.0,1155.8 879.5,1152.9 880.0,1133.6 880.6,1126.1 881.1,1148.8 881.6,1143.3 882.2,1137.1 882.7,1115.7 883.2,1156.1 883.8,1099.5 884.3,1129.9 884.8,1161.7 885.4,1139.7 885.9,1149.5 886.4,1137.0 887.0,1169.9 887.5,1139.3 888.1,1157.0 888.6,1153.8 889.1,1137.7 889.7,1159.2 890.2,1130.5 890.7,1137.9 891.3,1144.2 891.8,1138.1 892.3,1147.3 892.9,1151.1 893.4,1134.3 893.9,1128.5 894.5,1126.9 895.0,1128.7 895.5,1144.2 896.1,1133.5 896.6,1141.4 897.1,1134.6 897.7,1124.1 898.2,1143.0 898.7,1119.4 899.3,1131.6 899.8,1150.2 900.3,1121.5 900.9,1137.3 901.4,1122.4 902.0,1136.4 902.5,1121.9 903.0,1129.1 903.6,1119.9 904.1,1123.4 904.6,1140.3 905.2,1126.8 905.7,1133.4 906.2,1125.0 906.8,1121.0 907.3,1112.3 907.8,1101.1 908.4,1126.0 908.9,1147.6 909.4,1135.2 910.0,1122.2 910.5,1146.3 911.0,1119.1 911.6,1115.9 912.1,1108.8 912.6,1111.4 913.2,1117.7 913.7,1140.7 914.2,1110.6 914.8,1099.6 915.3,1105.7 915.8,1111.0 916.4,1092.1 916.9,1112.3 917.5,1118.1 918.0,1114.8 918.5,1121.7 919.1,1103.2 919.6,1102.0 920.1,1140.3 920.7,1138.3 921.2,1104.0 921.7,1120.0 922.3,1111.1 922.8,1111.3 923.3,1103.5 923.9,1094.4 924.4,1105.2 924.9,1108.3 925.5,1108.7 926.0,1087.8 926.5,1073.3 927.1,1099.4 927.6,1090.3 928.1,1116.5 928.7,1127.1 929.2,1126.0 929.7,1120.3 930.3,1123.7 930.8,1131.6 931.4,1101.4 931.9,1114.5 932.4,1106.7 933.0,1097.6 933.5,1109.6 934.0,1082.6 934.6,1104.2 935.1,1084.6 935.6,1089.0 936.2,1085.0 936.7,1100.0 937.2,1078.9 937.8,1088.2 938.3,1073.9 938.8,1103.7 939.4,1117.4 939.9,1101.3 940.4,1120.0 941.0,1107.0 941.5,1126.7 942.0,1102.1 942.6,1082.1 943.1,1118.7 943.6,1096.8 944.2,1083.0 944.7,1085.9 945.3,1074.8 945.8,1095.1 946.3,1086.2 946.9,1117.0 947.4,1104.3 947.9,1072.2 948.5,1071.1 949.0,1081.3 949.5,1065.2 950.1,1089.5 950.6,1093.5 951.1,1087.7 951.7,1091.9 952.2,1103.8 952.7,1112.4 953.3,1109.8 953.8,1088.0 954.3,1094.1 954.9,1071.6 955.4,1084.3 955.9,1067.6 956.5,1089.4 957.0,1067.5 957.5,1074.2 958.1,1089.7 958.6,1099.5 959.2,1075.7 959.7,1084.5 960.2,1088.2 960.8,1084.3 961.3,1068.2 961.8,1080.0 962.4,1078.5 962.9,1102.1 963.4,1092.7 964.0,1068.3 964.5,1055.1 965.0,1081.9 965.6,1095.1 966.1,1082.9 966.6,1091.1 967.2,1073.4 967.7,1061.8 968.2,1086.6 968.8,1076.8 969.3,1082.4 969.8,1057.7 970.4,1080.8 970.9,1077.3 971.4,1101.2 972.0,1087.4 972.5,1085.9 973.1,1081.7 973.6,1099.7 974.1,1082.0 974.7,1072.2 975.2,1069.6 975.7,1068.8 976.3,1097.6 976.8,1054.1 977.3,1062.9 977.9,1079.3 978.4,1085.4 978.9,1069.8 979.5,1082.7 980.0,1083.8 980.5,1087.9 981.1,1077.5 981.6,1098.3 982.1,1080.5 982.7,1095.5 983.2,1060.0 983.7,1081.1 984.3,1048.8 984.8,1040.7 985.3,1061.3 985.9,1042.9 986.4,1059.0 987.0,1042.1 987.5,1077.6 988.0,1060.4 988.6,1049.3 989.1,1068.8 989.6,1080.2 990.2,1060.4 990.7,1074.3 991.2,1088.4 991.8,1067.6 992.3,1051.3 992.8,1041.6 993.4,1056.1 993.9,1032.1 994.4,1014.8 995.0,1044.0 995.5,1036.8 996.0,1068.6 996.6,1045.1 997.1,1028.0 997.6,1024.0 998.2,1044.4 998.7,1028.3 999.2,1030.7 999.8,1034.3 1000.3,1033.3 1000.9,1031.5 1001.4,1032.2 1001.9,1049.5 1002.5,1057.7 1003.0,1018.5 1003.5,1072.1 1004.1,1041.0 1004.6,1053.8 1005.1,1028.7 1005.7,1042.8 1006.2,1042.5 1006.7,1041.8 1007.3,1051.0 1007.8,1048.3 1008.3,1028.1 1008.9,1039.2 1009.4,1049.1 1009.9,1047.2 1010.5,1032.8 1011.0,1031.5 1011.5,1031.0 1012.1,1018.0 1012.6,1016.5 1013.1,1055.0 1013.7,1033.7 1014.2,1042.4 1014.8,1034.0 1015.3,1061.2 1015.8,1066.5 1016.4,1038.5 1016.9,1042.9 1017.4,1023.8 1018.0,1054.8 1018.5,1044.7 1019.0,1021.9 1019.6,1045.7 1020.1,1032.3 1020.6,1032.6 1021.2,1032.8 1021.7,1020.0 1022.2,1019.8 1022.8,1031.6 1023.3,1021.5 1023.8,1010.7 1024.4,1050.5 1024.9,1026.3 1025.4,1026.4 1026.0,1028.7 1026.5,1049.5 1027.0,1055.0 1027.6,1045.9 1028.1,1051.8 1028.7,1018.7 1029.2,1029.3 1029.7,1024.5 1030.3,1026.6 1030.8,1028.0 1031.3,991.0 1031.9,1051.4 1032.4,999.2 1032.9,1017.0 1033.5,1029.5 1034.0,1037.0 1034.5,1033.5 1035.1,994.1 1035.6,1014.6 1036.1,1035.0 1036.7,1012.0 1037.2,1009.3 1037.7,992.5 1038.3,1037.6 1038.8,1029.7 1039.3,1014.0 1039.9,1025.6 1040.4,1026.3 1040.9,1010.9 1041.5,1015.6 1042.0,1014.6 1042.5,1011.6 1043.1,1017.1 1043.6,1001.6 1044.2,997.4 1044.7,1010.1 1045.2,997.8 1045.8,989.9 1046.3,1020.3 1046.8,1001.9 1047.4,1009.9 1047.9,1018.5 1048.4,998.2 1049.0,1021.5 1049.5,1019.4 1050.0,1011.4 1050.6,1015.4 1051.1,998.6 1051.6,979.7 1052.2,1006.4 1052.7,1003.8 1053.2,1032.9 1053.8,1030.4 1054.3,1022.3 1054.8,1029.2 1055.4,1044.7 1055.9,1041.4 1056.4,1031.1 1057.0,1030.2 1057.5,1018.1 1058.1,1015.1 1058.6,1018.1 1059.1,1002.9 1059.7,1003.9 1060.2,985.5 1060.7,981.9 1061.3,986.2 1061.8,1004.9 1062.3,1027.5 1062.9,1025.4 1063.4,999.2 1063.9,995.6 1064.5,1029.6 1065.0,1028.4 1065.5,1004.4 1066.1,1029.8 1066.6,1010.2 1067.1,1016.2 1067.7,998.0 1068.2,1003.0 1068.7,996.7 1069.3,982.7 1069.8,994.1 1070.3,990.3 1070.9,1011.0 1071.4,989.1 1072.0,983.3 1072.5,1012.1 1073.0,1018.2 1073.6,1021.7 1074.1,1016.6 1074.6,983.4 1075.2,994.1 1075.7,996.3 1076.2,1002.7 1076.8,974.3 1077.3,999.8 1077.8,1002.3 1078.4,986.8 1078.9,1001.5 1079.4,1016.5 1080.0,1003.2 1080.5,1016.3 1081.0,1015.0 1081.6,1006.2 1082.1,1005.8 1082.6,998.7 1083.2,1023.8 1083.7,1007.5 1084.2,1009.2 1084.8,1030.0 1085.3,1013.2 1085.9,1027.3 1086.4,1032.8 1086.9,1017.0 1087.5,1014.8 1088.0,1024.8 1088.5,1024.0 1089.1,996.1 1089.6,998.7 1090.1,1030.7 1090.7,1016.7 1091.2,983.0 1091.7,989.5 1092.3,1004.2 1092.8,989.9 1093.3,1008.1 1093.9,1004.0 1094.4,1010.3 1094.9,990.4 1095.5,1014.3 1096.0,1032.9 1096.5,1000.7 1097.1,1030.5 1097.6,1028.6 1098.1,1023.9 1098.7,1011.6 1099.2,993.5 1099.8,994.6 1100.3,1015.4 1100.8,1019.4 1101.4,1023.4 1101.9,1020.2 1102.4,1019.8 1103.0,1004.3 1103.5,997.3 1104.0,1018.6 1104.6,1025.2 1105.1,1021.6 1105.6,1001.3 1106.2,1012.4 1106.7,997.2 1107.2,1013.7 1107.8,994.6 1108.3,1003.1 1108.8,1008.1 1109.4,1005.2 1109.9,1019.7 1110.4,986.2 1111.0,970.0 1111.5,1007.9 1112.0,1013.7 1112.6,1016.5 1113.1,1006.5 1113.7,1015.2 1114.2,1014.3 1114.7,998.0 1115.3,1005.5 1115.8,1015.3 1116.3,997.7 1116.9,1026.7 1117.4,982.4 1117.9,996.8 1118.5,1016.6 1119.0,994.3 1119.5,987.1 1120.1,984.5 1120.6,993.7 1121.1,1023.5 1121.7,1009.6 1122.2,1008.5 1122.7,989.7 1123.3,999.0 1123.8,982.0 1124.3,963.8 1124.9,968.3 1125.4,978.0 1125.9,993.6 1126.5,982.4 1127.0,994.8 1127.6,1019.8 1128.1,988.8 1128.6,986.3 1129.2,1015.7 1129.7,1008.2 1130.2,999.4 1130.8,1001.4 1131.3,991.6 1131.8,1001.0 1132.4,990.1 1132.9,1005.5 1133.4,982.2 1134.0,988.7 1134.5,1002.1 1135.0,994.9 1135.6,1008.8 1136.1,997.8 1136.6,989.0 1137.2,995.4 1137.7,983.2 1138.2,969.7 1138.8,977.6 1139.3,985.8 1139.8,993.0 1140.4,1001.4 1140.9,1012.0 1141.5,1007.6 1142.0,1023.9 1142.5,1018.3 1143.1,1000.0 1143.6,1022.5 1144.1,1014.3 1144.7,990.3 1145.2,996.9 1145.7,1004.8 1146.3,994.0 1146.8,1005.5 1147.3,999.4 1147.9,1003.9 1148.4,990.1 1148.9,997.8 1149.5,988.0 1150.0,1001.4 1150.5,971.4 1151.1,996.3 1151.6,1006.0 1152.1,993.9 1152.7,981.2 1153.2,983.3 1153.7,962.1 1154.3,961.5 1154.8,968.8 1155.4,973.6 1155.9,989.0 1156.4,964.9 1157.0,986.8 1157.5,950.8 1158.0,957.9 1158.6,965.6 1159.1,979.5 1159.6,954.6 1160.2,931.1 1160.7,958.9 1161.2,949.6 1161.8,935.1 1162.3,936.2 1162.8,940.6 1163.4,947.8 1163.9,949.5 1164.4,920.5 1165.0,955.4 1165.5,928.9 1166.0,924.2 1166.6,930.6 1167.1,920.2 1167.6,927.4 1168.2,907.1 1168.7,887.2 1169.3,877.2 1169.8,867.5 1170.3,859.6 1170.9,855.8 1171.4,839.5 1171.9,841.1 1172.5,823.0 1173.0,814.2 1173.5,812.7 1174.1,791.9 1174.6,792.6 1175.1,797.6 1175.7,793.8 1176.2,794.8 1176.7,798.6 1177.3,795.5 1177.8,799.8 1178.3,796.0 1178.9,795.7 1179.4,813.9 1179.9,805.3 1180.5,809.8 1181.0,825.6 1181.5,830.6 1182.1,830.7 1182.6,839.9 1183.1,851.7 1183.7,856.7 1184.2,873.4 1184.8,879.7 1185.3,886.7 1185.8,895.8 1186.4,900.6 1186.9,911.8 1187.4,914.4 1188.0,896.3 1188.5,924.0 1189.0,916.4 1189.6,921.5 1190.1,946.0 1190.6,934.2 1191.2,938.0 1191.7,953.7 1192.2,938.6 1192.8,939.4 1193.3,955.8 1193.8,968.2 1194.4,962.7 1194.9,941.4 1195.4,957.1 1196.0,968.7 1196.5,1000.7 1197.0,992.9 1197.6,995.8 1198.1,999.6 1198.7,974.5 1199.2,975.7 1199.7,967.0 1200.3,942.3 1200.8,952.9 1201.3,962.8 1201.9,946.6 1202.4,975.8 1202.9,978.1 1203.5,982.3 1204.0,957.9 1204.5,967.3 1205.1,981.7 1205.6,969.5 1206.1,944.9 1206.7,954.4 1207.2,967.0 1207.7,945.0 1208.3,948.1 1208.8,974.6 1209.3,941.7 1209.9,943.6 1210.4,934.2 1210.9,938.7 1211.5,965.0 1212.0,943.3 1212.6,930.1 1213.1,934.1 1213.6,947.5 1214.2,959.6 1214.7,942.5 1215.2,962.2 1215.8,945.3 1216.3,954.1 1216.8,954.6 1217.4,955.6 1217.9,942.8 1218.4,946.4 1219.0,954.3 1219.5,929.1 1220.0,946.0 1220.6,948.5 1221.1,953.8 1221.6,939.4 1222.2,939.6 1222.7,948.9 1223.2,944.3 1223.8,956.6 1224.3,966.8 1224.8,964.0 1225.4,944.1 1225.9,951.1 1226.5,927.1 1227.0,965.0 1227.5,948.1 1228.1,958.0 1228.6,940.3 1229.1,953.4 1229.7,960.8 1230.2,968.5 1230.7,938.0 1231.3,964.8 1231.8,948.6 1232.3,937.3 1232.9,950.9 1233.4,939.1 1233.9,937.6 1234.5,931.7 1235.0,944.7 1235.5,945.4 1236.1,947.0 1236.6,939.7 1237.1,944.7 1237.7,952.3 1238.2,958.7 1238.7,938.5 1239.3,956.3 1239.8,937.5 1240.4,922.9 1240.9,945.0 1241.4,925.6 1242.0,946.7 1242.5,959.8 1243.0,946.3 1243.6,952.1 1244.1,986.3 1244.6,955.9 1245.2,952.8 1245.7,954.9 1246.2,938.6 1246.8,934.2 1247.3,935.9 1247.8,894.9 1248.4,939.8 1248.9,903.9 1249.4,902.7 1250.0,925.5 1250.5,922.2 1251.0,908.3 1251.6,928.0 1252.1,909.0 1252.6,913.1 1253.2,902.0 1253.7,911.8 1254.3,930.2 1254.8,930.0 1255.3,936.4 1255.9,947.7 1256.4,936.5 1256.9,927.1 1257.5,928.9 1258.0,950.7 1258.5,926.8 1259.1,927.9 1259.6,919.6 1260.1,920.7 1260.7,919.7 1261.2,911.3 1261.7,908.8 1262.3,903.5 1262.8,909.1 1263.3,933.9 1263.9,945.8 1264.4,952.0 1264.9,940.2 1265.5,925.7 1266.0,941.9 1266.5,941.5 1267.1,916.2 1267.6,949.6 1268.2,950.0 1268.7,967.0 1269.2,933.1 1269.8,932.4 1270.3,958.8 1270.8,923.7 1271.4,935.6 1271.9,929.4 1272.4,928.9 1273.0,915.6 1273.5,935.0 1274.0,948.7 1274.6,940.1 1275.1,938.7 1275.6,926.5 1276.2,948.0 1276.7,935.6 1277.2,943.9 1277.8,913.1 1278.3,940.4 1278.8,921.4 1279.4,937.7 1279.9,929.5 1280.4,904.6 1281.0,915.1 1281.5,924.9 1282.1,917.1 1282.6,921.3 1283.1,905.1 1283.7,908.3 1284.2,901.2 1284.7,914.6 1285.3,925.0 1285.8,911.7 1286.3,902.6 1286.9,884.7 1287.4,902.5 1287.9,893.1 1288.5,874.1 1289.0,881.3 1289.5,903.9 1290.1,897.9 1290.6,929.3 1291.1,905.8 1291.7,891.3 1292.2,900.8 1292.7,932.1 1293.3,903.9 1293.8,930.8 1294.3,929.7 1294.9,943.3 1295.4,928.1 1296.0,910.3 1296.5,915.3 1297.0,905.1 1297.6,915.2 1298.1,905.2 1298.6,931.8 1299.2,908.6 1299.7,912.7 1300.2,897.2 1300.8,901.5 1301.3,896.0 1301.8,892.7 1302.4,894.7 1302.9,877.6 1303.4,871.3 1304.0,881.6 1304.5,865.1 1305.0,855.1 1305.6,856.0 1306.1,843.8 1306.6,814.9 1307.2,814.2 1307.7,807.3 1308.2,794.9 1308.8,775.5 1309.3,773.2 1309.8,746.9 1310.4,734.3 1310.9,719.6 1311.5,701.3 1312.0,686.4 1312.5,667.0 1313.1,640.8 1313.6,628.2 1314.1,598.3 1314.7,581.7 1315.2,572.0 1315.7,544.0 1316.3,530.1 1316.8,505.4 1317.3,491.9 1317.9,481.2 1318.4,473.9 1318.9,465.0 1319.5,463.2 1320.0,465.5 1320.5,469.1 1321.1,465.7 1321.6,472.5 1322.1,479.9 1322.7,477.5 1323.2,484.0 1323.7,509.9 1324.3,518.1 1324.8,522.1 1325.4,535.3 1325.9,541.8 1326.4,553.6 1327.0,577.0 1327.5,582.7 1328.0,610.2 1328.6,617.4 1329.1,637.4 1329.6,660.9 1330.2,676.2 1330.7,680.9 1331.2,703.0 1331.8,706.0 1332.3,720.6 1332.8,736.9 1333.4,753.6 1333.9,755.0 1334.4,772.0 1335.0,780.5 1335.5,783.7 1336.0,799.1 1336.6,816.6 1337.1,817.4 1337.6,829.0 1338.2,838.6 1338.7,837.8 1339.3,854.6 1339.8,862.5 1340.3,869.6 1340.9,874.9 1341.4,871.3 1341.9,877.1 1342.5,882.0 1343.0,886.8 1343.5,892.8 1344.1,912.1 1344.6,919.9 1345.1,903.3 1345.7,918.6 1346.2,901.3 1346.7,914.2 1347.3,911.6 1347.8,908.4 1348.3,929.0 1348.9,931.8 1349.4,929.5 1349.9,932.3 1350.5,931.5 1351.0,945.5 1351.5,943.2 1352.1,955.2 1352.6,938.0 1353.2,954.0 1353.7,955.8 1354.2,964.3 1354.8,962.3 1355.3,950.8 1355.8,936.6 1356.4,917.1 1356.9,936.6 1357.4,953.2 1358.0,956.0 1358.5,900.9 1359.0,921.5 1359.6,922.9 1360.1,909.7 1360.6,922.2 1361.2,919.1 1361.7,913.3 1362.2,921.7 1362.8,902.0 1363.3,908.5 1363.8,907.7 1364.4,930.5 1364.9,898.8 1365.4,918.6 1366.0,932.9 1366.5,923.6 1367.1,936.7 1367.6,920.7 1368.1,939.3 1368.7,951.1 1369.2,974.0 1369.7,958.9 1370.3,969.6 1370.8,950.4 1371.3,949.2 1371.9,965.8 1372.4,951.1 1372.9,960.9 1373.5,953.1 1374.0,975.6 1374.5,984.9 1375.1,948.0 1375.6,983.3 1376.1,961.4 1376.7,955.8 1377.2,941.7 1377.7,948.1 1378.3,923.8 1378.8,931.9 1379.3,937.2 1379.9,956.6 1380.4,968.4 1381.0,966.7 1381.5,960.8 1382.0,947.8 1382.6,933.8 1383.1,963.7 1383.6,962.1 1384.2,965.3 1384.7,978.9 1385.2,957.8 1385.8,957.1 1386.3,929.3 1386.8,966.2 1387.4,959.4 1387.9,952.3 1388.4,968.0 1389.0,948.5 1389.5,952.7 1390.0,984.1 1390.6,970.7 1391.1,977.6 1391.6,979.8 1392.2,980.3 1392.7,972.7 1393.2,995.5 1393.8,960.5 1394.3,967.1 1394.9,952.5 1395.4,950.7 1395.9,926.6 1396.5,938.1 1397.0,988.3 1397.5,992.9 1398.1,973.5 1398.6,983.6 1399.1,994.6 1399.7,973.1 1400.2,1004.4 1400.7,961.7 1401.3,958.4 1401.8,925.5 1402.3,976.0 1402.9,955.5 1403.4,976.2 1403.9,944.0 1404.5,962.6 1405.0,959.6 1405.5,960.4 1406.1,984.1 1406.6,987.7 1407.1,978.8 1407.7,957.8 1408.2,973.7 1408.8,975.1 1409.3,958.3 1409.8,952.0 1410.4,947.2 1410.9,929.0 1411.4,945.9 1412.0,965.9 1412.5,934.1 1413.0,949.7 1413.6,960.5 1414.1,931.5 1414.6,944.9 1415.2,921.1 1415.7,932.5 1416.2,921.7 1416.8,930.5 1417.3,939.0 1417.8,944.3 1418.4,945.8 1418.9,916.0 1419.4,966.0 1420.0,941.4 1420.5,932.1 1421.0,940.7 1421.6,955.3 1422.1,940.0 1422.7,948.4 1423.2,947.9 1423.7,961.2 1424.3,945.4 1424.8,962.1 1425.3,961.5 1425.9,955.5 1426.4,974.3 1426.9,960.3 1427.5,947.2 1428.0,967.7 1428.5,965.2 1429.1,961.5 1429.6,963.5 1430.1,990.9 1430.7,965.7 1431.2,971.9 1431.7,965.8 1432.3,987.5 1432.8,970.3 1433.3,960.6 1433.9,954.7 1434.4,976.4 1434.9,977.8 1435.5,946.1 1436.0,956.8 1436.6,976.7 1437.1,986.6 1437.6,961.6 1438.2,976.0 1438.7,991.7 1439.2,972.2 1439.8,970.9 1440.3,967.1 1440.8,954.6 1441.4,970.3 1441.9,973.1 1442.4,950.8 1443.0,968.5 1443.5,978.1 1444.0,962.4 1444.6,968.8 1445.1,948.7 1445.6,974.8 1446.2,949.3 1446.7,984.8 1447.2,953.9 1447.8,947.8 1448.3,943.1 1448.8,948.1 1449.4,946.7 1449.9,944.2 1450.4,949.1 1451.0,963.3 1451.5,968.8 1452.1,956.6 1452.6,979.7 1453.1,952.4 1453.7,952.6 1454.2,951.6 1454.7,974.0 1455.3,945.3 1455.8,946.1 1456.3,980.2 1456.9,986.5 1457.4,983.1 1457.9,946.9 1458.5,965.5 1459.0,974.5 1459.5,964.1 1460.1,942.5 1460.6,960.2 1461.1,942.8 1461.7,946.8 1462.2,986.9 1462.7,964.3 1463.3,934.8 1463.8,934.5 1464.3,960.9 1464.9,948.0 1465.4,963.5 1466.0,947.2 1466.5,952.3 1467.0,956.9 1467.6,938.7 1468.1,925.2 1468.6,933.6 1469.2,940.8 1469.7,949.8 1470.2,954.8 1470.8,957.2 1471.3,966.5 1471.8,949.5 1472.4,980.2 1472.9,989.6 1473.4,969.9 1474.0,967.9 1474.5,980.2 1475.0,970.3 1475.6,962.9 1476.1,958.1 1476.6,950.9 1477.2,945.1 1477.7,968.2 1478.2,974.6 1478.8,945.9 1479.3,959.9 1479.9,965.8 1480.4,960.5 1480.9,959.3 1481.5,966.4 1482.0,946.9 1482.5,970.8 1483.1,965.2 1483.6,992.2 1484.1,972.0 1484.7,951.0 1485.2,952.9 1485.7,975.5 1486.3,977.2 1486.8,964.1 1487.3,965.9 1487.9,953.9 1488.4,971.2 1488.9,973.7 1489.5,965.1 1490.0,995.1 1490.5,946.1 1491.1,964.8 1491.6,966.1 1492.1,959.8 1492.7,971.0 1493.2,929.9 1493.8,940.6 1494.3,954.9 1494.8,956.8 1495.4,948.5 1495.9,939.5 1496.4,957.8 1497.0,924.5 1497.5,925.9 1498.0,950.5 1498.6,957.7 1499.1,954.0 1499.6,939.7 1500.2,945.5 1500.7,946.6 1501.2,941.6 1501.8,947.1 1502.3,965.1 1502.8,948.4 1503.4,933.8 1503.9,932.9 1504.4,928.9 1505.0,961.9 1505.5,922.1 1506.0,952.4 1506.6,928.8 1507.1,930.3 1507.7,920.0 1508.2,946.8 1508.7,929.0 1509.3,962.9 1509.8,913.5 1510.3,914.6 1510.9,939.2 1511.4,941.4 1511.9,931.9 1512.5,909.4 1513.0,952.2 1513.5,936.3 1514.1,927.1 1514.6,906.8 1515.1,913.5 1515.7,891.6 1516.2,890.5 1516.7,880.9 1517.3,887.9 1517.8,867.0 1518.3,863.2 1518.9,867.0 1519.4,854.0 1519.9,844.6 1520.5,835.2 1521.0,833.1 1521.6,817.2 1522.1,816.9 1522.6,821.1 1523.2,811.0 1523.7,804.8 1524.2,804.1 1524.8,814.6 1525.3,812.8 1525.8,817.3 1526.4,828.3 1526.9,832.8 1527.4,848.9 1528.0,842.8 1528.5,866.5 1529.0,860.0 1529.6,874.4 1530.1,887.6 1530.6,892.5 1531.2,904.7 1531.7,895.1 1532.2,886.1 1532.8,909.4 1533.3,894.3 1533.8,908.1 1534.4,930.0 1534.9,923.0 1535.5,925.6 1536.0,925.3 1536.5,940.0 1537.1,943.1 1537.6,925.5 1538.1,950.7 1538.7,934.3 1539.2,951.5 1539.7,942.2 1540.3,959.4 1540.8,956.4 1541.3,945.6 1541.9,946.1 1542.4,956.7 1542.9,972.8 1543.5,971.8 1544.0,962.3 1544.5,966.0 1545.1,983.4 1545.6,941.8 1546.1,968.6 1546.7,948.6 1547.2,977.2 1547.7,953.7 1548.3,960.0 1548.8,949.6 1549.4,965.8 1549.9,976.8 1550.4,987.8 1551.0,949.4 1551.5,960.8 1552.0,1019.4 1552.6,984.3 1553.1,974.6 1553.6,982.2 1554.2,940.1 1554.7,992.7 1555.2,970.9 1555.8,947.6 1556.3,978.8 1556.8,953.4 1557.4,946.4 1557.9,965.0 1558.4,963.0 1559.0,953.1 1559.5,961.5 1560.0,949.7 1560.6,951.9 1561.1,983.1 1561.6,987.1 1562.2,973.5 1562.7,971.1 1563.3,960.7 1563.8,964.8 1564.3,955.8 1564.9,991.8 1565.4,963.0 1565.9,976.6 1566.5,972.5 1567.0,955.4 1567.5,998.4 1568.1,967.9 1568.6,961.5 1569.1,971.6 1569.7,957.0 1570.2,967.4 1570.7,954.1 1571.3,975.0 1571.8,971.5 1572.3,957.2 1572.9,992.2 1573.4,984.9 1573.9,970.5 1574.5,989.4 1575.0,988.8 1575.5,1004.7 1576.1,966.0 1576.6,982.7 1577.1,964.0 1577.7,968.0 1578.2,955.1 1578.8,960.0 1579.3,971.7 1579.8,954.7 1580.4,946.3 1580.9,974.9 1581.4,969.9 1582.0,977.5 1582.5,985.7 1583.0,975.8 1583.6,993.9 1584.1,976.7 1584.6,976.4 1585.2,983.5 1585.7,979.0 1586.2,969.4 1586.8,971.1 1587.3,958.7 1587.8,959.8 1588.4,968.9 1588.9,978.0 1589.4,961.6 1590.0,977.7 1590.5,992.6 1591.0,997.8 1591.6,974.7 1592.1,992.7 1592.7,991.3 1593.2,996.2 1593.7,997.8 1594.3,993.7 1594.8,997.5 1595.3,989.6 1595.9,983.7 1596.4,988.9 1596.9,989.1 1597.5,994.8 1598.0,980.6 1598.5,983.4 1599.1,992.0 1599.6,963.4 1600.1,975.2 1600.7,989.2 1601.2,985.2 1601.7,972.2 1602.3,996.9 1602.8,982.8 1603.3,972.0 1603.9,1010.5 1604.4,969.2 1604.9,983.0 1605.5,972.3 1606.0,983.2 1606.6,993.7 1607.1,982.0 1607.6,995.0 1608.2,994.0 1608.7,978.2 1609.2,1000.3 1609.8,984.7 1610.3,981.1 1610.8,982.7 1611.4,994.2 1611.9,1004.7 1612.4,996.7 1613.0,1014.7 1613.5,961.1 1614.0,962.7 1614.6,985.2 1615.1,963.8 1615.6,985.0 1616.2,976.2 1616.7,992.9 1617.2,994.4 1617.8,1010.3 1618.3,1007.4 1618.8,1010.7 1619.4,998.6 1619.9,1002.0 1620.5,990.7 1621.0,972.3 1621.5,961.1 1622.1,962.7 1622.6,989.2 1623.1,958.7 1623.7,996.5 1624.2,986.9 1624.7,1005.9 1625.3,998.1 1625.8,985.2 1626.3,995.0 1626.9,966.1 1627.4,999.0 1627.9,1001.9 1628.5,972.3 1629.0,1005.5 1629.5,990.0 1630.1,989.9 1630.6,966.7 1631.1,991.3 1631.7,990.1 1632.2,981.2 1632.7,967.8 1633.3,991.0 1633.8,999.7 1634.4,991.1 1634.9,999.1 1635.4,976.6 1636.0,982.3 1636.5,981.3 1637.0,975.6 1637.6,1008.9 1638.1,979.4 1638.6,969.9 1639.2,992.0 1639.7,972.5 1640.2,996.2 1640.8,1006.0 1641.3,993.2 1641.8,997.1 1642.4,989.1 1642.9,1001.5 1643.4,989.0 1644.0,1016.3 1644.5,997.2 1645.0,980.3 1645.6,960.5 1646.1,1002.7 1646.6,993.9 1647.2,985.1 1647.7,984.0 1648.3,986.9 1648.8,982.6 1649.3,1016.0 1649.9,996.0 1650.4,973.2 1650.9,978.8 1651.5,949.3 1652.0,987.4 1652.5,988.5 1653.1,1004.2 1653.6,1012.9 1654.1,980.6 1654.7,999.1 1655.2,1006.3 1655.7,1002.1 1656.3,983.2 1656.8,997.7 1657.3,991.3 1657.9,999.4 1658.4,979.0 1658.9,975.0 1659.5,971.5 1660.0,974.3 1660.5,971.7 1661.1,980.1 1661.6,993.5 1662.2,994.7 1662.7,1007.6 1663.2,1008.2 1663.8,1006.9 1664.3,987.4 1664.8,1008.7 1665.4,1011.4 1665.9,972.5 1666.4,967.7 1667.0,964.9 1667.5,962.0 1668.0,973.3 1668.6,969.5 1669.1,991.6 1669.6,974.7 1670.2,989.7 1670.7,984.5 1671.2,977.9 1671.8,1003.5 1672.3,990.4 1672.8,995.4 1673.4,980.2 1673.9,988.4 1674.4,983.4 1675.0,972.4 1675.5,952.3 1676.1,986.5 1676.6,985.8 1677.1,980.8 1677.7,984.1 1678.2,985.5 1678.7,988.9 1679.3,974.8 1679.8,986.3 1680.3,988.3 1680.9,973.0 1681.4,966.5 1681.9,1003.6 1682.5,990.5 1683.0,981.8 1683.5,980.9 1684.1,953.1 1684.6,967.3 1685.1,980.4 1685.7,998.4 1686.2,955.0 1686.7,974.4 1687.3,1012.1 1687.8,1000.4 1688.3,999.3 1688.9,1008.1 1689.4,987.1 1690.0,980.9 1690.5,987.8 1691.0,988.1 1691.6,965.9 1692.1,1003.6 1692.6,965.2 1693.2,978.9 1693.7,1024.6 1694.2,975.3 1694.8,988.5 1695.3,967.2 1695.8,976.8 1696.4,972.5 1696.9,977.4 1697.4,992.1 1698.0,1007.5 1698.5,997.3 1699.0,1006.1 1699.6,978.5 1700.1,1002.1 1700.6,988.5 1701.2,996.6 1701.7,971.8 1702.2,973.5 1702.8,995.3 1703.3,989.0 1703.9,987.2 1704.4,981.3 1704.9,991.1 1705.5,998.4 1706.0,999.6 1706.5,980.9 1707.1,981.5 1707.6,990.2 1708.1,971.0 1708.7,999.8 1709.2,991.0 1709.7,991.1 1710.3,960.5 1710.8,967.1 1711.3,970.4 1711.9,974.4 1712.4,967.4 1712.9,985.8 1713.5,981.9 1714.0,975.2 1714.5,949.9 1715.1,989.8 1715.6,963.6 1716.1,971.3 1716.7,954.7 1717.2,965.8 1717.7,979.3 1718.3,978.5 1718.8,992.1 1719.4,979.8 1719.9,1006.8 1720.4,953.1 1721.0,965.0 1721.5,980.7 1722.0,964.6 1722.6,965.1 1723.1,952.7 1723.6,994.7 1724.2,957.1 1724.7,987.7 1725.2,982.0 1725.8,988.7 1726.3,994.8 1726.8,966.7 1727.4,965.6 1727.9,972.4 1728.4,955.4 1729.0,989.7 1729.5,977.6 1730.0,988.4 1730.6,974.4 1731.1,989.1 1731.6,979.7 1732.2,985.4 1732.7,972.3 1733.3,1000.9 1733.8,982.6 1734.3,962.0 1734.9,1006.2 1735.4,996.7 1735.9,990.3 1736.5,1032.3 1737.0,996.9 1737.5,977.8 1738.1,986.2 1738.6,1000.1 1739.1,994.8 1739.7,1016.4 1740.2,1017.4 1740.7,996.5 1741.3,1007.9 1741.8,1014.2 1742.3,998.0 1742.9,994.4 1743.4,1009.0 1743.9,1002.2 1744.5,978.8 1745.0,991.0 1745.5,994.5 1746.1,1000.0 1746.6,994.8 1747.2,1024.2 1747.7,997.9 1748.2,997.7 1748.8,1013.4 1749.3,980.3 1749.8,994.9 1750.4,1015.9 1750.9,991.2 1751.4,996.3 1752.0,1018.9 1752.5,1009.0 1753.0,1003.4 1753.6,1007.6 1754.1,998.7 1754.6,1012.1 1755.2,1002.8 1755.7,1032.1 1756.2,1003.9 1756.8,993.0 1757.3,998.4 1757.8,999.9 1758.4,979.0 1758.9,981.7 1759.4,1008.3 1760.0,970.7 1760.5,984.0 1761.1,1009.1 1761.6,1019.1 1762.1,987.9 1762.7,1017.8 1763.2,991.9 1763.7,1015.4 1764.3,1000.0 1764.8,990.5 1765.3,1004.8 1765.9,1004.8 1766.4,989.9 1766.9,1028.0 1767.5,996.1 1768.0,1013.5 1768.5,990.3 1769.1,970.4 1769.6,976.5 1770.1,987.3 1770.7,996.5 1771.2,1010.9 1771.7,991.3 1772.3,988.3 1772.8,977.6 1773.3,994.5 1773.9,1002.6 1774.4,976.8 1775.0,1028.6 1775.5,1033.2 1776.0,1052.3 1776.6,1013.5 1777.1,1024.1 1777.6,1020.4 1778.2,999.7 1778.7,1003.2 1779.2,1000.9 1779.8,1020.7 1780.3,1020.6 1780.8,1032.4 1781.4,1009.1 1781.9,994.2 1782.4,1014.9 1783.0,1012.1 1783.5,1014.9 1784.0,1022.7 1784.6,1001.1 1785.1,1021.0 1785.6,1000.5 1786.2,1017.1 1786.7,1025.5 1787.2,1016.4 1787.8,1020.6 1788.3,998.1 1788.9,1003.6 1789.4,1009.4 1789.9,989.2 1790.5,992.5 1791.0,1034.3 1791.5,1006.9 1792.1,991.8 1792.6,985.2 1793.1,1009.5 1793.7,949.3 1794.2,974.6 1794.7,983.5 1795.3,967.0 1795.8,980.5 1796.3,961.2 1796.9,974.0 1797.4,973.8 1797.9,971.7 1798.5,971.5 1799.0,969.5 1799.5,982.5 1800.1,967.5 1800.6,964.9 1801.1,969.0 1801.7,968.1 1802.2,951.8 1802.8,945.5 1803.3,952.3 1803.8,974.9 1804.4,966.3 1804.9,974.1 1805.4,1020.3 1806.0,1001.9 1806.5,987.5 1807.0,983.2 1807.6,1007.9 1808.1,978.0 1808.6,1000.6 1809.2,990.1 1809.7,1000.7 1810.2,977.2 1810.8,1002.9 1811.3,973.2 1811.8,997.5 1812.4,1015.2 1812.9,1010.6 1813.4,978.0 1814.0,1009.2 1814.5,1004.3 1815.0,994.5 1815.6,982.7 1816.1,986.1 1816.7,981.7 1817.2,1001.3 1817.7,995.6 1818.3,1004.0 1818.8,1001.0 1819.3,980.0 1819.9,1004.4 1820.4,1037.2 1820.9,1002.1 1821.5,1023.6 1822.0,1011.3 1822.5,1008.9 1823.1,1020.5 1823.6,1026.9 1824.1,1023.4 1824.7,1018.7 1825.2,1024.0 1825.7,990.4 1826.3,1021.4 1826.8,1017.8 1827.3,1012.0 1827.9,1013.5 1828.4,998.9 1828.9,1018.4 1829.5,988.0 1830.0,974.5 1830.6,991.8 1831.1,986.2 1831.6,995.9 1832.2,1019.6 1832.7,1003.0 1833.2,1011.1 1833.8,1043.2 1834.3,1001.2 1834.8,1026.5 1835.4,1037.9 1835.9,1042.4 1836.4,1051.1 1837.0,1014.4 1837.5,1031.6 1838.0,1024.8 1838.6,1021.3 1839.1,1016.7 1839.6,1004.5 1840.2,1024.0 1840.7,1026.5 1841.2,1001.3 1841.8,1022.6 1842.3,1004.4 1842.8,996.8 1843.4,974.7 1843.9,1020.8 1844.4,1016.1 1845.0,1004.4 1845.5,1005.8 1846.1,996.5 1846.6,1020.9 1847.1,1013.5 1847.7,1020.1 1848.2,1013.6 1848.7,991.5 1849.3,988.5 1849.8,1014.7 1850.3,991.0 1850.9,1020.1 1851.4,1031.6 1851.9,1005.3 1852.5,1029.3 1853.0,1019.0 1853.5,1023.6 1854.1,1008.8 1854.6,1017.0 1855.1,1021.4 1855.7,1036.4 1856.2,1020.8 1856.7,1020.1 1857.3,1004.0 1857.8,1033.1 1858.3,1026.7 1858.9,1037.2 1859.4,1042.0 1860.0,1050.8 1860.5,1045.5 1861.0,1038.1 1861.6,1031.0 1862.1,1045.0 1862.6,1014.8 1863.2,1026.8 1863.7,1044.3 1864.2,1023.9 1864.8,1035.2 1865.3,1034.1 1865.8,1046.2 1866.4,1033.6 1866.9,996.7 1867.4,1016.4 1868.0,1019.6 1868.5,1025.7 1869.0,1018.9 1869.6,1036.9 1870.1,1027.1 1870.6,999.0 1871.2,1005.6 1871.7,983.7 1872.2,1024.9 1872.8,992.9 1873.3,986.6 1873.9,966.4 1874.4,983.1 1874.9,997.7 1875.5,989.1 1876.0,988.3 1876.5,981.8 1877.1,1010.1 1877.6,972.6 1878.1,957.6 1878.7,968.8 1879.2,973.2 1879.7,980.8 1880.3,983.7 1880.8,976.7 1881.3,991.1 1881.9,999.8 1882.4,977.6 1882.9,1022.7 1883.5,1021.9 1884.0,979.2 1884.5,998.5 1885.1,1013.7 1885.6,1012.8 1886.1,1011.9 1886.7,958.5 1887.2,962.3 1887.8,966.0 1888.3,977.5 1888.8,955.9 1889.4,975.6 1889.9,976.2 1890.4,979.3 1891.0,952.4 1891.5,967.2 1892.0,959.9 1892.6,947.6 1893.1,960.3 1893.6,940.4 1894.2,955.0 1894.7,933.6 1895.2,946.1 1895.8,935.9 1896.3,909.6 1896.8,907.1 1897.4,897.7 1897.9,882.4 1898.4,883.6 1899.0,876.1 1899.5,863.5 1900.0,864.6 1900.6,865.7 1901.1,858.3 1901.7,854.4 1902.2,866.6 1902.7,855.2 1903.3,866.1 1903.8,876.2 1904.3,882.1 1904.9,877.5 1905.4,894.7 1905.9,905.2 1906.5,913.7 1907.0,926.2 1907.5,933.9 1908.1,938.2 1908.6,944.0 1909.1,953.2 1909.7,959.3 1910.2,938.2 1910.7,979.1 1911.3,959.8 1911.8,976.6 1912.3,954.5 1912.9,967.1 1913.4,960.3 1913.9,989.0 1914.5,990.3 1915.0,984.2 1915.6,987.0 1916.1,998.8 1916.6,985.7 1917.2,992.1 1917.7,991.8 1918.2,1014.8 1918.8,1009.5 1919.3,998.5 1919.8,1023.6 1920.4,1028.5 1920.9,1040.7 1921.4,1016.5 1922.0,1028.6 1922.5,1048.2 1923.0,1013.4 1923.6,1006.9 1924.1,1012.0 1924.6,995.3 1925.2,1001.1 1925.7,996.9 1926.2,996.9 1926.8,1021.2 1927.3,1006.6 1927.8,998.4 1928.4,1006.7 1928.9,1008.2 1929.5,1014.3 1930.0,1023.5 1930.5,1035.1 1931.1,997.1 1931.6,1009.8 1932.1,990.3 1932.7,1017.7 1933.2,1022.8 1933.7,1008.7 1934.3,1006.4 1934.8,1006.9 1935.3,1001.5 1935.9,1028.5 1936.4,1043.6 1936.9,1003.9 1937.5,1040.1 1938.0,1020.2 1938.5,1007.0 1939.1,1034.9 1939.6,1039.0 1940.1,1034.0 1940.7,1023.3 1941.2,1044.2 1941.7,1015.0 1942.3,1022.7 1942.8,1019.2 1943.4,996.4 1943.9,982.2 1944.4,983.5 1945.0,1002.2 1945.5,1015.0 1946.0,991.5 1946.6,1008.2 1947.1,1038.8 1947.6,996.4 1948.2,1024.1 1948.7,1020.9 1949.2,1024.4 1949.8,992.7 1950.3,1012.2 1950.8,986.1 1951.4,1018.6 1951.9,991.9 1952.4,1012.9 1953.0,1004.1 1953.5,1020.0 1954.0,998.4 1954.6,1018.4 1955.1,1018.6 1955.6,1009.0 1956.2,1031.2 1956.7,1018.8 1957.3,1027.9 1957.8,1026.6 1958.3,1044.5 1958.9,1012.1 1959.4,1017.7 1959.9,1019.2 1960.5,1029.7 1961.0,1023.9 1961.5,1030.0 1962.1,1021.9 1962.6,1009.5 1963.1,1012.3 1963.7,1016.2 1964.2,981.5 1964.7,1032.2 1965.3,1013.1 1965.8,1022.3 1966.3,1035.2 1966.9,1030.9 1967.4,1014.1 1967.9,1024.7 1968.5,1038.4 1969.0,1028.5 1969.5,1029.7 1970.1,1009.1 1970.6,1015.8 1971.2,1031.3 1971.7,1032.2 1972.2,1007.3 1972.8,989.6 1973.3,975.4 1973.8,1019.6 1974.4,985.0 1974.9,1014.5 1975.4,1024.7 1976.0,1058.0 1976.5,1019.1 1977.0,1014.0 1977.6,1019.7 1978.1,1019.1 1978.6,1029.6 1979.2,1021.9 1979.7,1004.6 1980.2,988.7 1980.8,1020.2 1981.3,1006.6 1981.8,1031.6 1982.4,993.7 1982.9,1010.4 1983.4,995.8 1984.0,993.2 1984.5,1028.1 1985.0,1012.9 1985.6,1013.3 1986.1,1029.0 1986.7,1010.8 1987.2,1016.1 1987.7,1012.2 1988.3,1046.3 1988.8,1025.8 1989.3,1031.5 1989.9,1040.5 1990.4,1027.0 1990.9,1030.7 1991.5,1014.5 1992.0,1044.6 1992.5,1044.4 1993.1,1037.1 1993.6,1057.2 1994.1,1016.3 1994.7,1042.0 1995.2,1016.1 1995.7,1016.7 1996.3,1027.4 1996.8,1047.7 1997.3,1017.4 1997.9,1023.5 1998.4,1024.8 1998.9,1070.5 1999.5,1054.8 2000.0,1055.8 2000.6,1078.6 2001.1,1055.9 2001.6,1025.7 2002.2,1045.2 2002.7,1032.7 2003.2,1069.3 2003.8,1020.6 2004.3,1041.8 2004.8,1033.8 2005.4,1039.4 2005.9,1049.1 2006.4,1047.5 2007.0,1036.5 2007.5,1022.4 2008.0,1022.6 2008.6,1012.9 2009.1,1014.9 2009.6,1032.9 2010.2,1035.3 2010.7,1047.1 2011.2,1037.5 2011.8,1062.6 2012.3,1025.3 2012.8,1021.0 2013.4,1047.5 2013.9,1024.2 2014.5,1031.8 2015.0,1038.8 2015.5,1021.9 2016.1,1017.3 2016.6,1033.9 2017.1,1025.0 2017.7,1013.8 2018.2,1006.6 2018.7,1020.3 2019.3,1007.6 2019.8,1021.2 2020.3,1020.0 2020.9,1036.7 2021.4,1038.8 2021.9,1016.0 2022.5,1016.6 2023.0,1009.5 2023.5,1009.8 2024.1,1025.7 2024.6,1039.6 2025.1,1036.8 2025.7,1036.1 2026.2,1024.1 2026.7,994.0 2027.3,1045.1 2027.8,1053.6 2028.4,1049.4 2028.9,1047.2 2029.4,1045.3 2030.0,1061.7 2030.5,1029.3 2031.0,1045.9 2031.6,1037.9 2032.1,1037.6 2032.6,1028.1 2033.2,1026.0 2033.7,1016.1 2034.2,1037.1 2034.8,1022.2 2035.3,1005.9 2035.8,1006.7 2036.4,997.2 2036.9,1030.1 2037.4,1003.8 2038.0,1005.5 2038.5,986.8 2039.0,986.2 2039.6,1005.7 2040.1,986.3 2040.6,983.4 2041.2,988.8 2041.7,980.3 2042.3,959.8 2042.8,951.1 2043.3,943.0 2043.9,933.4 2044.4,937.9 2044.9,913.5 2045.5,910.8 2046.0,891.4 2046.5,883.5 2047.1,880.5 2047.6,870.1 2048.1,860.6 2048.7,850.0 2049.2,842.9 2049.7,841.0 2050.3,842.0 2050.8,851.9 2051.3,857.1 2051.9,855.5 2052.4,854.2 2052.9,855.8 2053.5,866.2 2054.0,867.9 2054.5,864.7 2055.1,887.1 2055.6,887.0 2056.2,893.6 2056.7,899.7 2057.2,908.2 2057.8,924.6 2058.3,921.5 2058.8,933.1 2059.4,942.6 2059.9,956.2 2060.4,956.0 2061.0,958.5 2061.5,962.3 2062.0,979.6 2062.6,988.4 2063.1,982.3 2063.6,997.7 2064.2,997.1 2064.7,988.8 2065.2,1001.8 2065.8,1026.6 2066.3,1036.5 2066.8,1029.5 2067.4,1021.7 2067.9,1019.7 2068.4,1039.9 2069.0,1040.0 2069.5,1014.5 2070.1,1041.0 2070.6,1021.4 2071.1,1039.1 2071.7,1038.7 2072.2,1042.3 2072.7,1046.5 2073.3,1040.5 2073.8,1016.5 2074.3,1016.3 2074.9,1043.4 2075.4,1037.2 2075.9,1010.9 2076.5,1004.4 2077.0,1041.2 2077.5,1059.5 2078.1,1044.2 2078.6,1033.2 2079.1,1041.6 2079.7,1004.9 2080.2,1029.3 2080.7,1056.7 2081.3,1054.6 2081.8,1014.5 2082.3,1055.6 2082.9,1047.5 2083.4,1055.0 2084.0,1044.1 2084.5,1050.9 2085.0,1039.9 2085.6,1058.5 2086.1,1064.6 2086.6,1039.6 2087.2,1056.0 2087.7,1044.8 2088.2,1065.3 2088.8,1063.9 2089.3,1020.0 2089.8,1056.4 2090.4,1065.7 2090.9,1048.8 2091.4,1056.3 2092.0,1057.9 2092.5,1042.9 2093.0,1052.2 2093.6,1069.8 2094.1,1053.1 2094.6,1065.0 2095.2,1057.6 2095.7,1061.1 2096.2,1049.6 2096.8,1061.7 2097.3,1081.1 2097.9,1075.4 2098.4,1059.0 2098.9,1042.5 2099.5,1037.2 2100.0,1052.1 2100.5,1056.1 2101.1,1027.4 2101.6,1052.2 2102.1,1050.8 2102.7,1047.6 2103.2,1035.3 2103.7,1072.2 2104.3,1055.6 2104.8,1030.3 2105.3,1042.8 2105.9,1065.1 2106.4,1062.5 2106.9,1057.9 2107.5,1057.5 2108.0,1059.2 2108.5,1061.7 2109.1,1059.1 2109.6,1082.4 2110.1,1040.2 2110.7,1066.1 2111.2,1089.5 2111.7,1059.7 2112.3,1049.8 2112.8,1085.8 2113.4,1073.8 2113.9,1059.8 2114.4,1055.7 2115.0,1059.9 2115.5,1055.8 2116.0,1053.3 2116.6,1043.2 2117.1,1057.1 2117.6,1042.3 2118.2,1027.3 2118.7,1036.3 2119.2,1055.3 2119.8,1044.2 2120.3,1027.2 2120.8,1079.8 2121.4,1067.3 2121.9,1053.6 2122.4,1050.3 2123.0,1060.6 2123.5,1069.8 2124.0,1044.6 2124.6,1060.1 2125.1,1049.2 2125.6,1061.9 2126.2,1041.2 2126.7,1029.4 2127.3,1051.5 2127.8,1047.7 2128.3,1055.6 2128.9,1035.0 2129.4,1058.8 2129.9,1041.7 2130.5,1062.7 2131.0,1043.1 2131.5,1071.3 2132.1,1052.9 2132.6,1054.4 2133.1,1062.3 2133.7,1024.4 2134.2,1032.1 2134.7,1070.3 2135.3,1030.0 2135.8,1045.9 2136.3,1061.1 2136.9,1073.7 2137.4,1049.0 2137.9,1058.0 2138.5,1042.3 2139.0,1051.9 2139.5,1070.6 2140.1,1063.3 2140.6,1060.4 2141.2,1066.2 2141.7,1060.1 2142.2,1057.4 2142.8,1048.6 2143.3,1040.0 2143.8,1061.2 2144.4,1037.1 2144.9,1064.5 2145.4,1079.4 2146.0,1073.1 2146.5,1084.3 2147.0,1040.7"/>
<line x1="367" y1="49.7" x2="367" y2="1701.3" stroke="#000" stroke-width="5.6"/>
<line x1="364.2" y1="1698.5" x2="2374.5" y2="1698.5" stroke="#000" stroke-width="5.6"/>
<line x1="367.0" y1="1698.5" x2="367.0" y2="1733" stroke="#000" stroke-width="5.6"/>
<line x1="500.6" y1="1698.5" x2="500.6" y2="1716" stroke="#000" stroke-width="5.6"/>
<line x1="634.3" y1="1698.5" x2="634.3" y2="1733" stroke="#000" stroke-width="5.6"/>
<line x1="768.0" y1="1698.5" x2="768.0" y2="1716" stroke="#000" stroke-width="5.6"/>
<line x1="901.6" y1="1698.5" x2="901.6" y2="1733" stroke="#000" stroke-width="5.6"/>
<line x1="1035.2" y1="1698.5" x2="1035.2" y2="1716" stroke="#000" stroke-width="5.6"/>
<line x1="1168.9" y1="1698.5" x2="1168.9" y2="1733" stroke="#000" stroke-width="5.6"/>
<line x1="1302.6" y1="1698.5" x2="1302.6" y2="1716" stroke="#000" stroke-width="5.6"/>
<line x1="1436.2" y1="1698.5" x2="1436.2" y2="1733" stroke="#000" stroke-width="5.6"/>
<line x1="1569.8" y1="1698.5" x2="1569.8" y2="1716" stroke="#000" stroke-width="5.6"/>
<line x1="1703.5" y1="1698.5" x2="1703.5" y2="1733" stroke="#000" stroke-width="5.6"/>
<line x1="1837.2" y1="1698.5" x2="1837.2" y2="1716" stroke="#000" stroke-width="5.6"/>
<line x1="1970.8" y1="1698.5" x2="1970.8" y2="1733" stroke="#000" stroke-width="5.6"/>
<line x1="2104.4" y1="1698.5" x2="2104.4" y2="1716" stroke="#000" stroke-width="5.6"/>
<line x1="2238.1" y1="1698.5" x2="2238.1" y2="1733" stroke="#000" stroke-width="5.6"/>
<line x1="2371.8" y1="1698.5" x2="2371.8" y2="1716" stroke="#000" stroke-width="5.6"/>
<line x1="348.3" y1="1604.8" x2="367" y2="1604.8" stroke="#000" stroke-width="5.6"/>
<line x1="332" y1="1422.2" x2="367" y2="1422.2" stroke="#000" stroke-width="5.6"/>
<line x1="348.3" y1="1239.5" x2="367" y2="1239.5" stroke="#000" stroke-width="5.6"/>
<line x1="332" y1="1056.9" x2="367" y2="1056.9" stroke="#000" stroke-width="5.6"/>
<line x1="348.3" y1="874.2" x2="367" y2="874.2" stroke="#000" stroke-width="5.6"/>
<line x1="332" y1="691.6" x2="367" y2="691.6" stroke="#000" stroke-width="5.6"/>
<line x1="348.3" y1="509.0" x2="367" y2="509.0" stroke="#000" stroke-width="5.6"/>
<line x1="332" y1="326.3" x2="367" y2="326.3" stroke="#000" stroke-width="5.6"/>
<line x1="348.3" y1="143.7" x2="367" y2="143.7" stroke="#000" stroke-width="5.6"/>
<rect x="1131" y="1350" width="1162" height="310" fill="#fff" stroke="#111" stroke-width="2"/>
<rect x="1178.3" y="1407.2" width="182" height="3.6" fill="#555"/>
<rect x="1176.1" y="1509.2" width="184" height="3.6" fill="#ff3a3a"/>
<rect x="1176.1" y="1610.9" width="184" height="3.6" fill="#3a3aff"/>
<text x="1374.2" y="1436.9" font-size="65">MFMNPs</text>
<text x="1374.2" y="1536.3" font-size="65">MFMNABs (Before Adsorption)</text>
<text x="1374.2" y="1637.7" font-size="65">MFMNABs (After Adsorption)</text>
<text x="312" y="343.9" font-size="66" text-anchor="end">10000</text>
<text x="312" y="709.2" font-size="66" text-anchor="end">8000</text>
<text x="312" y="1074.5" font-size="66" text-anchor="end">6000</text>
<text x="312" y="1439.8" font-size="66" text-anchor="end">4000</text>
<text x="177" y="349" font-size="36" font-weight="normal">,</text>
<text x="367.0" y="1803.5" font-size="67" text-anchor="middle">0</text>
<text x="634.3" y="1803.5" font-size="67" text-anchor="middle">10</text>
<text x="901.6" y="1803.5" font-size="67" text-anchor="middle">20</text>
<text x="1168.9" y="1803.5" font-size="67" text-anchor="middle">30</text>
<text x="1436.2" y="1803.5" font-size="67" text-anchor="middle">40</text>
<text x="1703.5" y="1803.5" font-size="67" text-anchor="middle">50</text>
<text x="1970.8" y="1803.5" font-size="67" text-anchor="middle">60</text>
<text x="2238.1" y="1803.5" font-size="67" text-anchor="middle">70</text>
<text x="1270.8" y="170.5" font-size="80" letter-spacing="2.5">311</text>
<text x="1127" y="650.5" font-size="80" letter-spacing="1.5">220</text>
<text x="1454.7" y="487.5" font-size="80" letter-spacing="0.5">400</text>
<text x="1733.5" y="502" font-size="80" letter-spacing="0.3">422</text>
<text x="1848.5" y="383.5" font-size="80" letter-spacing="3">511</text>
<text x="2000.9" y="221" font-size="80" letter-spacing="0.5">440</text>
<text transform="translate(125.5,1183) rotate(-90)" font-size="82">Intensity (a.u.)</text>
<text x="1105.6" y="1932" font-size="80.5">Degree 2-Theta</text>
</svg>
</body></html>
